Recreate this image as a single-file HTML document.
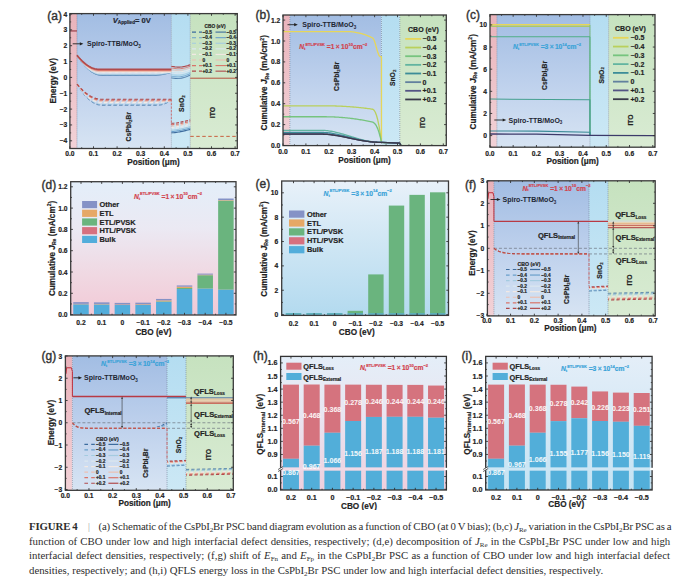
<!DOCTYPE html>
<html><head><meta charset="utf-8"><style>
html,body{margin:0;padding:0;background:#fff;width:700px;height:585px;overflow:hidden;position:relative}
.cap{position:absolute;left:29px;top:519.4px;width:660px;font-family:"Liberation Serif",serif;font-size:10.8px;color:#2e2e2e}
.l{height:14.55px;line-height:14.55px;white-space:nowrap}
.l1{letter-spacing:-0.12px;word-spacing:-0.48px}
.l2{word-spacing:0.5px}
.l3{word-spacing:0.48px}
.l4{word-spacing:0.1px}
.cap sub{font-size:7px;vertical-align:-2px;line-height:0}
.bar{display:inline-block;margin:0 9px 0 10px;font-size:9.5px;color:#666;transform:scaleX(0.7)}
</style></head><body>
<svg width="700" height="510" viewBox="0 0 700 510" style="position:absolute;left:0;top:0"><defs><linearGradient id="pinkG" x1="0" y1="0" x2="0" y2="1"><stop offset="0" stop-color="#e9b3bb"/><stop offset="1" stop-color="#f2d2d7"/></linearGradient><linearGradient id="pvG" x1="0" y1="0" x2="0" y2="1"><stop offset="0" stop-color="#a2bde3"/><stop offset="0.5" stop-color="#bdd0ec"/><stop offset="1" stop-color="#d7e4f3"/></linearGradient><linearGradient id="snG" x1="0" y1="0" x2="0" y2="1"><stop offset="0" stop-color="#b4ddf1"/><stop offset="1" stop-color="#cce8f5"/></linearGradient><linearGradient id="itoG" x1="0" y1="0" x2="0" y2="1"><stop offset="0" stop-color="#c6e2bf"/><stop offset="1" stop-color="#d9ebd3"/></linearGradient><linearGradient id="dG" x1="0" y1="0" x2="0" y2="1"><stop offset="0" stop-color="#e3eef9"/><stop offset="0.35" stop-color="#ebe9f3"/><stop offset="0.7" stop-color="#f0d8e2"/><stop offset="1" stop-color="#f2c9d6"/></linearGradient><linearGradient id="eG" x1="0" y1="0" x2="0" y2="1"><stop offset="0" stop-color="#e8f1f9"/><stop offset="1" stop-color="#b3daef"/></linearGradient><linearGradient id="hG" x1="0" y1="0" x2="0" y2="1"><stop offset="0" stop-color="#e4eef8"/><stop offset="0.4" stop-color="#e8e6f2"/><stop offset="1" stop-color="#efcfdd"/></linearGradient><linearGradient id="iG" x1="0" y1="0" x2="0" y2="1"><stop offset="0" stop-color="#e4eef8"/><stop offset="1" stop-color="#c5e3f3"/></linearGradient></defs><rect x="69.9" y="13.6" width="7.08" height="134.9" fill="url(#pinkG)" />
<rect x="76.98" y="13.6" width="94.4" height="134.9" fill="url(#pvG)" />
<rect x="171.38" y="13.6" width="18.88" height="134.9" fill="url(#snG)" />
<rect x="190.26" y="13.6" width="47.04" height="134.9" fill="url(#itoG)" />
<line x1="76.98" y1="13.6" x2="76.98" y2="148.5" stroke="#6a7890" stroke-width="0.6" stroke-dasharray="1,1" />
<line x1="171.38" y1="13.6" x2="171.38" y2="148.5" stroke="#6a7890" stroke-width="0.6" stroke-dasharray="1,1" />
<line x1="190.26" y1="13.6" x2="190.26" y2="148.5" stroke="#6a7890" stroke-width="0.6" stroke-dasharray="1,1" />
<line x1="69.9" y1="30.96" x2="76.98" y2="30.96" stroke="#8b2a35" stroke-width="1" />
<line x1="190.26" y1="78.19" x2="237.3" y2="78.19" stroke="#b5503f" stroke-width="1" />
<line x1="190.26" y1="136.36" x2="237.3" y2="136.36" stroke="#c8603f" stroke-width="1" stroke-dasharray="3.5,2.5" />
<polyline points="76.98,55.21 78.16,57.08 79.34,58.86 80.52,60.55 81.7,62.15 82.88,63.65 84.06,65.07 85.24,66.39 86.42,67.63 87.6,68.77 88.78,69.82 89.96,70.77 91.14,71.64 92.32,72.42 93.5,73.1 94.68,73.7 95.86,74.2 97.04,74.61 98.22,74.93 99.4,75.16 100.58,75.29 101.76,75.34 102.94,75.34 104.12,75.34 105.3,75.34 106.48,75.34 107.66,75.34 108.84,75.34 110.02,75.34 111.2,75.34 112.38,75.34 113.56,75.34 114.74,75.34 115.92,75.34 117.1,75.34 118.28,75.34 119.46,75.34 120.64,75.34 121.82,75.34 123,75.34 124.18,75.34 125.36,75.34 126.54,75.34 127.72,75.34 128.9,75.34 130.08,75.34 131.26,75.34 132.44,75.34 133.62,75.34 134.8,75.34 135.98,75.34 137.16,75.34 138.34,75.34 139.52,75.34 140.7,75.34 141.88,75.34 143.06,75.34 144.24,75.34 145.42,75.34 146.6,75.34 147.78,75.34 148.96,75.34 150.14,75.34 151.32,75.34 152.5,75.34 153.68,75.34 154.86,75.33 156.04,75.28 157.22,75.21 158.4,75.11 159.58,74.99 160.76,74.83 161.94,74.65 163.12,74.44 164.3,74.2 165.48,73.93 166.66,73.63 167.84,73.31 169.02,72.96 170.2,72.58 171.38,72.17" fill="none" stroke="#3d6c9e" stroke-width="1" stroke-linejoin="round" stroke-opacity="0.8"/>
<polyline points="171.38,77.88 172.56,78.08 173.74,78.26 174.92,78.39 176.1,78.48 177.28,78.52 178.46,78.5 179.64,78.42 180.82,78.27 182,78.06 183.18,77.79 184.36,77.45 185.54,77.06 186.72,76.61 187.9,76.12 189.08,75.58 190.26,75.02" fill="none" stroke="#3d6c9e" stroke-width="0.9" stroke-linejoin="round" />
<polyline points="76.98,55.21 78.16,57.08 79.34,58.85 80.52,60.53 81.7,62.12 82.88,63.62 84.06,65.03 85.24,66.34 86.42,67.56 87.6,68.69 88.78,69.72 89.96,70.67 91.14,71.52 92.32,72.27 93.5,72.94 94.68,73.51 95.86,74 97.04,74.39 98.22,74.68 99.4,74.89 100.58,75 101.76,75.02 102.94,75.02 104.12,75.02 105.3,75.02 106.48,75.02 107.66,75.02 108.84,75.02 110.02,75.02 111.2,75.02 112.38,75.02 113.56,75.02 114.74,75.02 115.92,75.02 117.1,75.02 118.28,75.02 119.46,75.02 120.64,75.02 121.82,75.02 123,75.02 124.18,75.02 125.36,75.02 126.54,75.02 127.72,75.02 128.9,75.02 130.08,75.02 131.26,75.02 132.44,75.02 133.62,75.02 134.8,75.02 135.98,75.02 137.16,75.02 138.34,75.02 139.52,75.02 140.7,75.02 141.88,75.02 143.06,75.02 144.24,75.02 145.42,75.02 146.6,75.02 147.78,75.02 148.96,75.02 150.14,75.02 151.32,75.02 152.5,75.02 153.68,75.02 154.86,75.01 156.04,74.97 157.22,74.91 158.4,74.82 159.58,74.71 160.76,74.57 161.94,74.4 163.12,74.21 164.3,74 165.48,73.75 166.66,73.49 167.84,73.2 169.02,72.88 170.2,72.54 171.38,72.17" fill="none" stroke="#6a9fcb" stroke-width="1" stroke-linejoin="round" stroke-opacity="0.8"/>
<polyline points="171.38,76.22 172.56,76.43 173.74,76.61 174.92,76.75 176.1,76.84 177.28,76.88 178.46,76.87 179.64,76.8 180.82,76.66 182,76.47 183.18,76.2 184.36,75.88 185.54,75.5 186.72,75.08 187.9,74.6 189.08,74.09 190.26,73.55" fill="none" stroke="#6a9fcb" stroke-width="0.9" stroke-linejoin="round" />
<polyline points="76.98,55.21 78.16,57.06 79.34,58.81 80.52,60.47 81.7,62.04 82.88,63.52 84.06,64.9 85.24,66.19 86.42,67.39 87.6,68.5 88.78,69.51 89.96,70.43 91.14,71.26 92.32,71.99 93.5,72.63 94.68,73.18 95.86,73.64 97.04,74 98.22,74.27 99.4,74.45 100.58,74.54 101.76,74.55 102.94,74.55 104.12,74.55 105.3,74.55 106.48,74.55 107.66,74.55 108.84,74.55 110.02,74.55 111.2,74.55 112.38,74.55 113.56,74.55 114.74,74.55 115.92,74.55 117.1,74.55 118.28,74.55 119.46,74.55 120.64,74.55 121.82,74.55 123,74.55 124.18,74.55 125.36,74.55 126.54,74.55 127.72,74.55 128.9,74.55 130.08,74.55 131.26,74.55 132.44,74.55 133.62,74.55 134.8,74.55 135.98,74.55 137.16,74.55 138.34,74.55 139.52,74.55 140.7,74.55 141.88,74.55 143.06,74.55 144.24,74.55 145.42,74.55 146.6,74.55 147.78,74.55 148.96,74.55 150.14,74.55 151.32,74.55 152.5,74.55 153.68,74.55 154.86,74.54 156.04,74.5 157.22,74.45 158.4,74.38 159.58,74.28 160.76,74.17 161.94,74.03 163.12,73.87 164.3,73.69 165.48,73.49 166.66,73.27 167.84,73.03 169.02,72.76 170.2,72.48 171.38,72.17" fill="none" stroke="#a4cbe0" stroke-width="1" stroke-linejoin="round" stroke-opacity="0.8"/>
<polyline points="171.38,74.57 172.56,74.78 173.74,74.96 174.92,75.1 176.1,75.2 177.28,75.25 178.46,75.24 179.64,75.18 180.82,75.06 182,74.87 183.18,74.62 184.36,74.31 185.54,73.95 186.72,73.54 187.9,73.09 189.08,72.6 190.26,72.08" fill="none" stroke="#a4cbe0" stroke-width="0.9" stroke-linejoin="round" />
<polyline points="76.98,55.21 78.16,57.01 79.34,58.71 80.52,60.32 81.7,61.84 82.88,63.27 84.06,64.61 85.24,65.86 86.42,67.02 87.6,68.08 88.78,69.05 89.96,69.93 91.14,70.72 92.32,71.42 93.5,72.03 94.68,72.55 95.86,72.97 97.04,73.3 98.22,73.54 99.4,73.69 100.58,73.75 101.76,73.75 102.94,73.75 104.12,73.75 105.3,73.75 106.48,73.75 107.66,73.75 108.84,73.75 110.02,73.75 111.2,73.75 112.38,73.75 113.56,73.75 114.74,73.75 115.92,73.75 117.1,73.75 118.28,73.75 119.46,73.75 120.64,73.75 121.82,73.75 123,73.75 124.18,73.75 125.36,73.75 126.54,73.75 127.72,73.75 128.9,73.75 130.08,73.75 131.26,73.75 132.44,73.75 133.62,73.75 134.8,73.75 135.98,73.75 137.16,73.75 138.34,73.75 139.52,73.75 140.7,73.75 141.88,73.75 143.06,73.75 144.24,73.75 145.42,73.75 146.6,73.75 147.78,73.75 148.96,73.75 150.14,73.75 151.32,73.75 152.5,73.75 153.68,73.75 154.86,73.75 156.04,73.73 157.22,73.69 158.4,73.64 159.58,73.58 160.76,73.5 161.94,73.41 163.12,73.3 164.3,73.18 165.48,73.05 166.66,72.9 167.84,72.74 169.02,72.56 170.2,72.37 171.38,72.17" fill="none" stroke="#dce7ef" stroke-width="1" stroke-linejoin="round" stroke-opacity="0.8"/>
<polyline points="171.38,72.92 172.56,73.12 173.74,73.31 174.92,73.45 176.1,73.56 177.28,73.61 178.46,73.62 179.64,73.56 180.82,73.45 182,73.27 183.18,73.04 184.36,72.75 185.54,72.4 186.72,72.01 187.9,71.57 189.08,71.1 190.26,70.61" fill="none" stroke="#dce7ef" stroke-width="0.9" stroke-linejoin="round" />
<polyline points="76.98,55.21 78.16,56.92 79.34,58.55 80.52,60.08 81.7,61.53 82.88,62.88 84.06,64.15 85.24,65.34 86.42,66.43 87.6,67.43 88.78,68.35 89.96,69.18 91.14,69.92 92.32,70.57 93.5,71.13 94.68,71.6 95.86,71.99 97.04,72.28 98.22,72.49 99.4,72.61 100.58,72.65 101.76,72.65 102.94,72.65 104.12,72.65 105.3,72.65 106.48,72.65 107.66,72.65 108.84,72.65 110.02,72.65 111.2,72.65 112.38,72.65 113.56,72.65 114.74,72.65 115.92,72.65 117.1,72.65 118.28,72.65 119.46,72.65 120.64,72.65 121.82,72.65 123,72.65 124.18,72.65 125.36,72.65 126.54,72.65 127.72,72.65 128.9,72.65 130.08,72.65 131.26,72.65 132.44,72.65 133.62,72.65 134.8,72.65 135.98,72.65 137.16,72.65 138.34,72.65 139.52,72.65 140.7,72.65 141.88,72.65 143.06,72.65 144.24,72.65 145.42,72.65 146.6,72.65 147.78,72.65 148.96,72.65 150.14,72.65 151.32,72.65 152.5,72.65 153.68,72.65 154.86,72.64 156.04,72.64 157.22,72.63 158.4,72.61 159.58,72.59 160.76,72.57 161.94,72.54 163.12,72.51 164.3,72.47 165.48,72.43 166.66,72.39 167.84,72.34 169.02,72.29 170.2,72.23 171.38,72.17" fill="none" stroke="#f2e9e4" stroke-width="1" stroke-linejoin="round" stroke-opacity="1"/>
<polyline points="171.38,71.26 172.56,71.47 173.74,71.66 174.92,71.81 176.1,71.92 177.28,71.98 178.46,71.99 179.64,71.94 180.82,71.84 182,71.68 183.18,71.46 184.36,71.18 185.54,70.85 186.72,70.48 187.9,70.06 189.08,69.61 190.26,69.14" fill="none" stroke="#f2e9e4" stroke-width="0.9" stroke-linejoin="round" />
<polyline points="76.98,55.21 78.16,56.82 79.34,58.35 80.52,59.79 81.7,61.14 82.88,62.42 84.06,63.6 85.24,64.71 86.42,65.73 87.6,66.66 88.78,67.51 89.96,68.28 91.14,68.96 92.32,69.55 93.5,70.07 94.68,70.49 95.86,70.84 97.04,71.1 98.22,71.27 99.4,71.36 100.58,71.38 101.76,71.38 102.94,71.38 104.12,71.38 105.3,71.38 106.48,71.38 107.66,71.38 108.84,71.38 110.02,71.38 111.2,71.38 112.38,71.38 113.56,71.38 114.74,71.38 115.92,71.38 117.1,71.38 118.28,71.38 119.46,71.38 120.64,71.38 121.82,71.38 123,71.38 124.18,71.38 125.36,71.38 126.54,71.38 127.72,71.38 128.9,71.38 130.08,71.38 131.26,71.38 132.44,71.38 133.62,71.38 134.8,71.38 135.98,71.38 137.16,71.38 138.34,71.38 139.52,71.38 140.7,71.38 141.88,71.38 143.06,71.38 144.24,71.38 145.42,71.38 146.6,71.38 147.78,71.38 148.96,71.38 150.14,71.38 151.32,71.38 152.5,71.38 153.68,71.38 154.86,71.38 156.04,71.38 157.22,71.38 158.4,71.38 159.58,71.38 160.76,71.38 161.94,71.38 163.12,71.38 164.3,71.38 165.48,71.38 166.66,71.38 167.84,71.38 169.02,71.38 170.2,71.38 171.38,71.38" fill="none" stroke="#ecc0b2" stroke-width="1.3" stroke-linejoin="round" stroke-opacity="1"/>
<polyline points="171.38,69.61 172.56,69.82 173.74,70.01 174.92,70.16 176.1,70.27 177.28,70.34 178.46,70.36 179.64,70.33 180.82,70.23 182,70.08 183.18,69.88 184.36,69.61 185.54,69.3 186.72,68.94 187.9,68.54 189.08,68.12 190.26,67.66" fill="none" stroke="#ecc0b2" stroke-width="0.9" stroke-linejoin="round" />
<polyline points="76.98,55.21 78.16,56.73 79.34,58.17 80.52,59.53 81.7,60.81 82.88,62.01 84.06,63.12 85.24,64.16 86.42,65.11 87.6,65.98 88.78,66.78 89.96,67.49 91.14,68.12 92.32,68.67 93.5,69.14 94.68,69.52 95.86,69.83 97.04,70.06 98.22,70.2 99.4,70.26 100.58,70.27 101.76,70.27 102.94,70.27 104.12,70.27 105.3,70.27 106.48,70.27 107.66,70.27 108.84,70.27 110.02,70.27 111.2,70.27 112.38,70.27 113.56,70.27 114.74,70.27 115.92,70.27 117.1,70.27 118.28,70.27 119.46,70.27 120.64,70.27 121.82,70.27 123,70.27 124.18,70.27 125.36,70.27 126.54,70.27 127.72,70.27 128.9,70.27 130.08,70.27 131.26,70.27 132.44,70.27 133.62,70.27 134.8,70.27 135.98,70.27 137.16,70.27 138.34,70.27 139.52,70.27 140.7,70.27 141.88,70.27 143.06,70.27 144.24,70.27 145.42,70.27 146.6,70.27 147.78,70.27 148.96,70.27 150.14,70.27 151.32,70.27 152.5,70.27 153.68,70.27 154.86,70.27 156.04,70.27 157.22,70.27 158.4,70.27 159.58,70.27 160.76,70.27 161.94,70.27 163.12,70.27 164.3,70.27 165.48,70.27 166.66,70.27 167.84,70.27 169.02,70.27 170.2,70.27 171.38,70.27" fill="none" stroke="#d9746a" stroke-width="1.4" stroke-linejoin="round" stroke-opacity="1"/>
<polyline points="171.38,67.96 172.56,68.17 173.74,68.35 174.92,68.51 176.1,68.63 177.28,68.71 178.46,68.73 179.64,68.71 180.82,68.63 182,68.49 183.18,68.29 184.36,68.05 185.54,67.75 186.72,67.41 187.9,67.03 189.08,66.62 190.26,66.19" fill="none" stroke="#d9746a" stroke-width="0.9" stroke-linejoin="round" />
<polyline points="76.98,55.21 78.16,56.66 79.34,58.02 80.52,59.31 81.7,60.52 82.88,61.66 84.06,62.71 85.24,63.69 86.42,64.59 87.6,65.41 88.78,66.15 89.96,66.82 91.14,67.4 92.32,67.91 93.5,68.34 94.68,68.69 95.86,68.96 97.04,69.16 98.22,69.28 99.4,69.32 100.58,69.32 101.76,69.32 102.94,69.32 104.12,69.32 105.3,69.32 106.48,69.32 107.66,69.32 108.84,69.32 110.02,69.32 111.2,69.32 112.38,69.32 113.56,69.32 114.74,69.32 115.92,69.32 117.1,69.32 118.28,69.32 119.46,69.32 120.64,69.32 121.82,69.32 123,69.32 124.18,69.32 125.36,69.32 126.54,69.32 127.72,69.32 128.9,69.32 130.08,69.32 131.26,69.32 132.44,69.32 133.62,69.32 134.8,69.32 135.98,69.32 137.16,69.32 138.34,69.32 139.52,69.32 140.7,69.32 141.88,69.32 143.06,69.32 144.24,69.32 145.42,69.32 146.6,69.32 147.78,69.32 148.96,69.32 150.14,69.32 151.32,69.32 152.5,69.32 153.68,69.32 154.86,69.32 156.04,69.32 157.22,69.32 158.4,69.32 159.58,69.32 160.76,69.32 161.94,69.32 163.12,69.32 164.3,69.32 165.48,69.32 166.66,69.32 167.84,69.32 169.02,69.32 170.2,69.32 171.38,69.32" fill="none" stroke="#b04a4c" stroke-width="1.6" stroke-linejoin="round" stroke-opacity="1"/>
<polyline points="171.38,66.31 172.56,66.52 173.74,66.7 174.92,66.87 176.1,66.99 177.28,67.07 178.46,67.11 179.64,67.09 180.82,67.02 182,66.89 183.18,66.71 184.36,66.48 185.54,66.2 186.72,65.88 187.9,65.52 189.08,65.13 190.26,64.72" fill="none" stroke="#b04a4c" stroke-width="1.2" stroke-linejoin="round" />
<polyline points="76.98,84.06 78.16,86.03 79.34,87.91 80.52,89.69 81.7,91.38 82.88,92.97 84.06,94.46 85.24,95.86 86.42,97.16 87.6,98.36 88.78,99.47 89.96,100.48 91.14,101.39 92.32,102.21 93.5,102.94 94.68,103.56 95.86,104.09 97.04,104.53 98.22,104.86 99.4,105.1 100.58,105.25 101.76,105.3 102.94,105.3 104.12,105.3 105.3,105.3 106.48,105.3 107.66,105.3 108.84,105.3 110.02,105.3 111.2,105.3 112.38,105.3 113.56,105.3 114.74,105.3 115.92,105.3 117.1,105.3 118.28,105.3 119.46,105.3 120.64,105.3 121.82,105.3 123,105.3 124.18,105.3 125.36,105.3 126.54,105.3 127.72,105.3 128.9,105.3 130.08,105.3 131.26,105.3 132.44,105.3 133.62,105.3 134.8,105.3 135.98,105.3 137.16,105.3 138.34,105.3 139.52,105.3 140.7,105.3 141.88,105.3 143.06,105.3 144.24,105.3 145.42,105.3 146.6,105.3 147.78,105.3 148.96,105.3 150.14,105.3 151.32,105.3 152.5,105.3 153.68,105.3 154.86,105.3 156.04,105.3 157.22,105.3 158.4,105.26 159.58,105.15 160.76,104.98 161.94,104.73 163.12,104.4 164.3,104.01 165.48,103.55 166.66,103.01 167.84,102.41 169.02,101.73 170.2,100.98 171.38,100.16" fill="none" stroke="#3d6c9e" stroke-width="0.9" stroke-dasharray="3.5,2.2" stroke-linejoin="round" stroke-opacity="0.8"/>
<polyline points="171.38,132.88 172.56,132.82 173.74,132.72 174.92,132.59 176.1,132.44 177.28,132.27 178.46,132.07 179.64,131.87 180.82,131.64 182,131.4 183.18,131.15 184.36,130.89 185.54,130.61 186.72,130.32 187.9,130.02 189.08,129.71 190.26,129.39" fill="none" stroke="#3d6c9e" stroke-width="1.1" stroke-linejoin="round" />
<polyline points="76.98,84.06 78.16,85.97 79.34,87.79 80.52,89.52 81.7,91.16 82.88,92.7 84.06,94.15 85.24,95.5 86.42,96.77 87.6,97.93 88.78,99.01 89.96,99.99 91.14,100.88 92.32,101.67 93.5,102.37 94.68,102.98 95.86,103.49 97.04,103.91 98.22,104.24 99.4,104.48 100.58,104.62 101.76,104.66 102.94,104.66 104.12,104.66 105.3,104.66 106.48,104.66 107.66,104.66 108.84,104.66 110.02,104.66 111.2,104.66 112.38,104.66 113.56,104.66 114.74,104.66 115.92,104.66 117.1,104.66 118.28,104.66 119.46,104.66 120.64,104.66 121.82,104.66 123,104.66 124.18,104.66 125.36,104.66 126.54,104.66 127.72,104.66 128.9,104.66 130.08,104.66 131.26,104.66 132.44,104.66 133.62,104.66 134.8,104.66 135.98,104.66 137.16,104.66 138.34,104.66 139.52,104.66 140.7,104.66 141.88,104.66 143.06,104.66 144.24,104.66 145.42,104.66 146.6,104.66 147.78,104.66 148.96,104.66 150.14,104.66 151.32,104.66 152.5,104.66 153.68,104.66 154.86,104.66 156.04,104.66 157.22,104.66 158.4,104.63 159.58,104.54 160.76,104.38 161.94,104.15 163.12,103.87 164.3,103.52 165.48,103.11 166.66,102.63 167.84,102.09 169.02,101.49 170.2,100.83 171.38,100.1" fill="none" stroke="#6a9fcb" stroke-width="0.9" stroke-dasharray="3.5,2.2" stroke-linejoin="round" stroke-opacity="0.8"/>
<polyline points="171.38,131.52 172.56,131.46 173.74,131.36 174.92,131.23 176.1,131.08 177.28,130.91 178.46,130.72 179.64,130.51 180.82,130.28 182,130.05 183.18,129.79 184.36,129.53 185.54,129.25 186.72,128.96 187.9,128.66 189.08,128.35 190.26,128.03" fill="none" stroke="#6a9fcb" stroke-width="1.1" stroke-linejoin="round" />
<polyline points="76.98,84.06 78.16,85.91 79.34,87.68 80.52,89.36 81.7,90.94 82.88,92.43 84.06,93.84 85.24,95.15 86.42,96.37 87.6,97.51 88.78,98.55 89.96,99.5 91.14,100.36 92.32,101.13 93.5,101.81 94.68,102.4 95.86,102.9 97.04,103.3 98.22,103.62 99.4,103.85 100.58,103.98 101.76,104.03 102.94,104.03 104.12,104.03 105.3,104.03 106.48,104.03 107.66,104.03 108.84,104.03 110.02,104.03 111.2,104.03 112.38,104.03 113.56,104.03 114.74,104.03 115.92,104.03 117.1,104.03 118.28,104.03 119.46,104.03 120.64,104.03 121.82,104.03 123,104.03 124.18,104.03 125.36,104.03 126.54,104.03 127.72,104.03 128.9,104.03 130.08,104.03 131.26,104.03 132.44,104.03 133.62,104.03 134.8,104.03 135.98,104.03 137.16,104.03 138.34,104.03 139.52,104.03 140.7,104.03 141.88,104.03 143.06,104.03 144.24,104.03 145.42,104.03 146.6,104.03 147.78,104.03 148.96,104.03 150.14,104.03 151.32,104.03 152.5,104.03 153.68,104.03 154.86,104.03 156.04,104.03 157.22,104.03 158.4,104 159.58,103.92 160.76,103.78 161.94,103.58 163.12,103.33 164.3,103.03 165.48,102.67 166.66,102.25 167.84,101.78 169.02,101.25 170.2,100.67 171.38,100.03" fill="none" stroke="#a4cbe0" stroke-width="0.9" stroke-dasharray="3.5,2.2" stroke-linejoin="round" stroke-opacity="0.8"/>
<polyline points="171.38,130.16 172.56,130.1 173.74,130 174.92,129.87 176.1,129.72 177.28,129.55 178.46,129.36 179.64,129.15 180.82,128.93 182,128.69 183.18,128.43 184.36,128.17 185.54,127.89 186.72,127.6 187.9,127.3 189.08,126.99 190.26,126.67" fill="none" stroke="#a4cbe0" stroke-width="1.1" stroke-linejoin="round" />
<polyline points="76.98,84.06 78.16,85.84 79.34,87.54 80.52,89.15 81.7,90.67 82.88,92.1 84.06,93.45 85.24,94.71 86.42,95.89 87.6,96.97 88.78,97.97 89.96,98.89 91.14,99.71 92.32,100.45 93.5,101.1 94.68,101.67 95.86,102.15 97.04,102.54 98.22,102.84 99.4,103.06 100.58,103.19 101.76,103.24 102.94,103.24 104.12,103.24 105.3,103.24 106.48,103.24 107.66,103.24 108.84,103.24 110.02,103.24 111.2,103.24 112.38,103.24 113.56,103.24 114.74,103.24 115.92,103.24 117.1,103.24 118.28,103.24 119.46,103.24 120.64,103.24 121.82,103.24 123,103.24 124.18,103.24 125.36,103.24 126.54,103.24 127.72,103.24 128.9,103.24 130.08,103.24 131.26,103.24 132.44,103.24 133.62,103.24 134.8,103.24 135.98,103.24 137.16,103.24 138.34,103.24 139.52,103.24 140.7,103.24 141.88,103.24 143.06,103.24 144.24,103.24 145.42,103.24 146.6,103.24 147.78,103.24 148.96,103.24 150.14,103.24 151.32,103.24 152.5,103.24 153.68,103.24 154.86,103.24 156.04,103.24 157.22,103.24 158.4,103.21 159.58,103.14 160.76,103.03 161.94,102.87 163.12,102.67 164.3,102.42 165.48,102.12 166.66,101.78 167.84,101.39 169.02,100.96 170.2,100.48 171.38,99.95" fill="none" stroke="#dce7ef" stroke-width="1.2" stroke-dasharray="3.5,2.2" stroke-linejoin="round" stroke-opacity="0.8"/>
<polyline points="171.38,128.8 172.56,128.74 173.74,128.65 174.92,128.52 176.1,128.36 177.28,128.19 178.46,128 179.64,127.79 180.82,127.57 182,127.33 183.18,127.08 184.36,126.81 185.54,126.53 186.72,126.25 187.9,125.95 189.08,125.63 190.26,125.31" fill="none" stroke="#dce7ef" stroke-width="1.1" stroke-dasharray="3,1.6" stroke-linejoin="round" />
<polyline points="76.98,84.06 78.16,85.75 79.34,87.36 80.52,88.89 81.7,90.34 82.88,91.7 84.06,92.98 85.24,94.18 86.42,95.3 87.6,96.33 88.78,97.28 89.96,98.15 91.14,98.94 92.32,99.64 93.5,100.26 94.68,100.8 95.86,101.25 97.04,101.62 98.22,101.91 99.4,102.12 100.58,102.24 101.76,102.28 102.94,102.28 104.12,102.28 105.3,102.28 106.48,102.28 107.66,102.28 108.84,102.28 110.02,102.28 111.2,102.28 112.38,102.28 113.56,102.28 114.74,102.28 115.92,102.28 117.1,102.28 118.28,102.28 119.46,102.28 120.64,102.28 121.82,102.28 123,102.28 124.18,102.28 125.36,102.28 126.54,102.28 127.72,102.28 128.9,102.28 130.08,102.28 131.26,102.28 132.44,102.28 133.62,102.28 134.8,102.28 135.98,102.28 137.16,102.28 138.34,102.28 139.52,102.28 140.7,102.28 141.88,102.28 143.06,102.28 144.24,102.28 145.42,102.28 146.6,102.28 147.78,102.28 148.96,102.28 150.14,102.28 151.32,102.28 152.5,102.28 153.68,102.28 154.86,102.28 156.04,102.28 157.22,102.28 158.4,102.27 159.58,102.22 160.76,102.13 161.94,102.02 163.12,101.86 164.3,101.68 165.48,101.46 166.66,101.21 167.84,100.92 169.02,100.6 170.2,100.25 171.38,99.86" fill="none" stroke="#f2e9e4" stroke-width="1.2" stroke-dasharray="3.5,2.2" stroke-linejoin="round" stroke-opacity="1"/>
<polyline points="171.38,127.44 172.56,127.39 173.74,127.29 174.92,127.16 176.1,127 177.28,126.83 178.46,126.64 179.64,126.43 180.82,126.21 182,125.97 183.18,125.72 184.36,125.45 185.54,125.18 186.72,124.89 187.9,124.59 189.08,124.28 190.26,123.95" fill="none" stroke="#f2e9e4" stroke-width="1.1" stroke-dasharray="3,1.6" stroke-linejoin="round" />
<polyline points="76.98,84.06 78.16,85.65 79.34,87.16 80.52,88.6 81.7,89.96 82.88,91.24 84.06,92.44 85.24,93.57 86.42,94.62 87.6,95.59 88.78,96.48 89.96,97.29 91.14,98.03 92.32,98.69 93.5,99.27 94.68,99.78 95.86,100.2 97.04,100.55 98.22,100.83 99.4,101.02 100.58,101.14 101.76,101.18 102.94,101.18 104.12,101.18 105.3,101.18 106.48,101.18 107.66,101.18 108.84,101.18 110.02,101.18 111.2,101.18 112.38,101.18 113.56,101.18 114.74,101.18 115.92,101.18 117.1,101.18 118.28,101.18 119.46,101.18 120.64,101.18 121.82,101.18 123,101.18 124.18,101.18 125.36,101.18 126.54,101.18 127.72,101.18 128.9,101.18 130.08,101.18 131.26,101.18 132.44,101.18 133.62,101.18 134.8,101.18 135.98,101.18 137.16,101.18 138.34,101.18 139.52,101.18 140.7,101.18 141.88,101.18 143.06,101.18 144.24,101.18 145.42,101.18 146.6,101.18 147.78,101.18 148.96,101.18 150.14,101.18 151.32,101.18 152.5,101.18 153.68,101.18 154.86,101.18 156.04,101.18 157.22,101.18 158.4,101.18 159.58,101.18 160.76,101.18 161.94,101.18 163.12,101.18 164.3,101.18 165.48,101.18 166.66,101.18 167.84,101.18 169.02,101.18 170.2,101.18 171.38,101.18" fill="none" stroke="#ecc0b2" stroke-width="1.2" stroke-dasharray="3.5,2.2" stroke-linejoin="round" stroke-opacity="1"/>
<polyline points="171.38,126.08 172.56,126.03 173.74,125.93 174.92,125.8 176.1,125.65 177.28,125.47 178.46,125.28 179.64,125.07 180.82,124.85 182,124.61 183.18,124.36 184.36,124.09 185.54,123.82 186.72,123.53 187.9,123.23 189.08,122.92 190.26,122.6" fill="none" stroke="#ecc0b2" stroke-width="1.1" stroke-dasharray="3,1.6" stroke-linejoin="round" />
<polyline points="76.98,84.06 78.16,85.56 79.34,86.99 80.52,88.35 81.7,89.63 82.88,90.84 84.06,91.98 85.24,93.04 86.42,94.03 87.6,94.94 88.78,95.79 89.96,96.56 91.14,97.25 92.32,97.88 93.5,98.43 94.68,98.9 95.86,99.31 97.04,99.64 98.22,99.89 99.4,100.08 100.58,100.19 101.76,100.22 102.94,100.22 104.12,100.22 105.3,100.22 106.48,100.22 107.66,100.22 108.84,100.22 110.02,100.22 111.2,100.22 112.38,100.22 113.56,100.22 114.74,100.22 115.92,100.22 117.1,100.22 118.28,100.22 119.46,100.22 120.64,100.22 121.82,100.22 123,100.22 124.18,100.22 125.36,100.22 126.54,100.22 127.72,100.22 128.9,100.22 130.08,100.22 131.26,100.22 132.44,100.22 133.62,100.22 134.8,100.22 135.98,100.22 137.16,100.22 138.34,100.22 139.52,100.22 140.7,100.22 141.88,100.22 143.06,100.22 144.24,100.22 145.42,100.22 146.6,100.22 147.78,100.22 148.96,100.22 150.14,100.22 151.32,100.22 152.5,100.22 153.68,100.22 154.86,100.22 156.04,100.22 157.22,100.22 158.4,100.22 159.58,100.22 160.76,100.22 161.94,100.22 163.12,100.22 164.3,100.22 165.48,100.22 166.66,100.22 167.84,100.22 169.02,100.22 170.2,100.22 171.38,100.22" fill="none" stroke="#d9746a" stroke-width="1.2" stroke-dasharray="3.5,2.2" stroke-linejoin="round" stroke-opacity="1"/>
<polyline points="171.38,124.72 172.56,124.67 173.74,124.57 174.92,124.44 176.1,124.29 177.28,124.11 178.46,123.92 179.64,123.71 180.82,123.49 182,123.25 183.18,123 184.36,122.74 185.54,122.46 186.72,122.17 187.9,121.87 189.08,121.56 190.26,121.24" fill="none" stroke="#d9746a" stroke-width="1.1" stroke-dasharray="3,1.6" stroke-linejoin="round" />
<polyline points="76.98,84.06 78.16,85.47 79.34,86.82 80.52,88.09 81.7,89.3 82.88,90.44 84.06,91.51 85.24,92.51 86.42,93.44 87.6,94.3 88.78,95.1 89.96,95.82 91.14,96.48 92.32,97.06 93.5,97.58 94.68,98.03 95.86,98.41 97.04,98.72 98.22,98.96 99.4,99.13 100.58,99.24 101.76,99.27 102.94,99.27 104.12,99.27 105.3,99.27 106.48,99.27 107.66,99.27 108.84,99.27 110.02,99.27 111.2,99.27 112.38,99.27 113.56,99.27 114.74,99.27 115.92,99.27 117.1,99.27 118.28,99.27 119.46,99.27 120.64,99.27 121.82,99.27 123,99.27 124.18,99.27 125.36,99.27 126.54,99.27 127.72,99.27 128.9,99.27 130.08,99.27 131.26,99.27 132.44,99.27 133.62,99.27 134.8,99.27 135.98,99.27 137.16,99.27 138.34,99.27 139.52,99.27 140.7,99.27 141.88,99.27 143.06,99.27 144.24,99.27 145.42,99.27 146.6,99.27 147.78,99.27 148.96,99.27 150.14,99.27 151.32,99.27 152.5,99.27 153.68,99.27 154.86,99.27 156.04,99.27 157.22,99.27 158.4,99.27 159.58,99.27 160.76,99.27 161.94,99.27 163.12,99.27 164.3,99.27 165.48,99.27 166.66,99.27 167.84,99.27 169.02,99.27 170.2,99.27 171.38,99.27" fill="none" stroke="#b04a4c" stroke-width="1.2" stroke-dasharray="3.5,2.2" stroke-linejoin="round" stroke-opacity="1"/>
<polyline points="171.38,123.37 172.56,123.31 173.74,123.21 174.92,123.08 176.1,122.93 177.28,122.76 178.46,122.56 179.64,122.36 180.82,122.13 182,121.89 183.18,121.64 184.36,121.38 185.54,121.1 186.72,120.81 187.9,120.51 189.08,120.2 190.26,119.88" fill="none" stroke="#b04a4c" stroke-width="1.1" stroke-dasharray="3,1.6" stroke-linejoin="round" />
<line x1="171.38" y1="99.59" x2="171.38" y2="124.95" stroke="#d06060" stroke-width="0.8" stroke-dasharray="2,1.5" />
<rect x="69.9" y="13.6" width="167.4" height="134.9" fill="none" stroke="#3a3a3a" stroke-width="1.3"/>
<line x1="69.9" y1="148.5" x2="69.9" y2="146.3" stroke="#333" stroke-width="0.9" />
<line x1="69.9" y1="13.6" x2="69.9" y2="15.8" stroke="#333" stroke-width="0.9" />
<line x1="93.5" y1="148.5" x2="93.5" y2="146.3" stroke="#333" stroke-width="0.9" />
<line x1="93.5" y1="13.6" x2="93.5" y2="15.8" stroke="#333" stroke-width="0.9" />
<line x1="117.1" y1="148.5" x2="117.1" y2="146.3" stroke="#333" stroke-width="0.9" />
<line x1="117.1" y1="13.6" x2="117.1" y2="15.8" stroke="#333" stroke-width="0.9" />
<line x1="140.7" y1="148.5" x2="140.7" y2="146.3" stroke="#333" stroke-width="0.9" />
<line x1="140.7" y1="13.6" x2="140.7" y2="15.8" stroke="#333" stroke-width="0.9" />
<line x1="164.3" y1="148.5" x2="164.3" y2="146.3" stroke="#333" stroke-width="0.9" />
<line x1="164.3" y1="13.6" x2="164.3" y2="15.8" stroke="#333" stroke-width="0.9" />
<line x1="187.9" y1="148.5" x2="187.9" y2="146.3" stroke="#333" stroke-width="0.9" />
<line x1="187.9" y1="13.6" x2="187.9" y2="15.8" stroke="#333" stroke-width="0.9" />
<line x1="211.5" y1="148.5" x2="211.5" y2="146.3" stroke="#333" stroke-width="0.9" />
<line x1="211.5" y1="13.6" x2="211.5" y2="15.8" stroke="#333" stroke-width="0.9" />
<line x1="235.1" y1="148.5" x2="235.1" y2="146.3" stroke="#333" stroke-width="0.9" />
<line x1="235.1" y1="13.6" x2="235.1" y2="15.8" stroke="#333" stroke-width="0.9" />
<line x1="81.7" y1="148.5" x2="81.7" y2="147.2" stroke="#333" stroke-width="0.8" />
<line x1="81.7" y1="13.6" x2="81.7" y2="14.9" stroke="#333" stroke-width="0.8" />
<line x1="105.3" y1="148.5" x2="105.3" y2="147.2" stroke="#333" stroke-width="0.8" />
<line x1="105.3" y1="13.6" x2="105.3" y2="14.9" stroke="#333" stroke-width="0.8" />
<line x1="128.9" y1="148.5" x2="128.9" y2="147.2" stroke="#333" stroke-width="0.8" />
<line x1="128.9" y1="13.6" x2="128.9" y2="14.9" stroke="#333" stroke-width="0.8" />
<line x1="152.5" y1="148.5" x2="152.5" y2="147.2" stroke="#333" stroke-width="0.8" />
<line x1="152.5" y1="13.6" x2="152.5" y2="14.9" stroke="#333" stroke-width="0.8" />
<line x1="176.1" y1="148.5" x2="176.1" y2="147.2" stroke="#333" stroke-width="0.8" />
<line x1="176.1" y1="13.6" x2="176.1" y2="14.9" stroke="#333" stroke-width="0.8" />
<line x1="199.7" y1="148.5" x2="199.7" y2="147.2" stroke="#333" stroke-width="0.8" />
<line x1="199.7" y1="13.6" x2="199.7" y2="14.9" stroke="#333" stroke-width="0.8" />
<line x1="223.3" y1="148.5" x2="223.3" y2="147.2" stroke="#333" stroke-width="0.8" />
<line x1="223.3" y1="13.6" x2="223.3" y2="14.9" stroke="#333" stroke-width="0.8" />
<line x1="69.9" y1="140.8" x2="72.1" y2="140.8" stroke="#333" stroke-width="0.9" />
<line x1="237.3" y1="140.8" x2="235.1" y2="140.8" stroke="#333" stroke-width="0.9" />
<line x1="69.9" y1="124.95" x2="72.1" y2="124.95" stroke="#333" stroke-width="0.9" />
<line x1="237.3" y1="124.95" x2="235.1" y2="124.95" stroke="#333" stroke-width="0.9" />
<line x1="69.9" y1="109.1" x2="72.1" y2="109.1" stroke="#333" stroke-width="0.9" />
<line x1="237.3" y1="109.1" x2="235.1" y2="109.1" stroke="#333" stroke-width="0.9" />
<line x1="69.9" y1="93.25" x2="72.1" y2="93.25" stroke="#333" stroke-width="0.9" />
<line x1="237.3" y1="93.25" x2="235.1" y2="93.25" stroke="#333" stroke-width="0.9" />
<line x1="69.9" y1="77.4" x2="72.1" y2="77.4" stroke="#333" stroke-width="0.9" />
<line x1="237.3" y1="77.4" x2="235.1" y2="77.4" stroke="#333" stroke-width="0.9" />
<line x1="69.9" y1="61.55" x2="72.1" y2="61.55" stroke="#333" stroke-width="0.9" />
<line x1="237.3" y1="61.55" x2="235.1" y2="61.55" stroke="#333" stroke-width="0.9" />
<line x1="69.9" y1="45.7" x2="72.1" y2="45.7" stroke="#333" stroke-width="0.9" />
<line x1="237.3" y1="45.7" x2="235.1" y2="45.7" stroke="#333" stroke-width="0.9" />
<line x1="69.9" y1="29.85" x2="72.1" y2="29.85" stroke="#333" stroke-width="0.9" />
<line x1="237.3" y1="29.85" x2="235.1" y2="29.85" stroke="#333" stroke-width="0.9" />
<line x1="69.9" y1="14" x2="72.1" y2="14" stroke="#333" stroke-width="0.9" />
<line x1="237.3" y1="14" x2="235.1" y2="14" stroke="#333" stroke-width="0.9" />
<line x1="69.9" y1="132.88" x2="71.2" y2="132.88" stroke="#333" stroke-width="0.8" />
<line x1="237.3" y1="132.88" x2="236" y2="132.88" stroke="#333" stroke-width="0.8" />
<line x1="69.9" y1="117.03" x2="71.2" y2="117.03" stroke="#333" stroke-width="0.8" />
<line x1="237.3" y1="117.03" x2="236" y2="117.03" stroke="#333" stroke-width="0.8" />
<line x1="69.9" y1="101.18" x2="71.2" y2="101.18" stroke="#333" stroke-width="0.8" />
<line x1="237.3" y1="101.18" x2="236" y2="101.18" stroke="#333" stroke-width="0.8" />
<line x1="69.9" y1="85.33" x2="71.2" y2="85.33" stroke="#333" stroke-width="0.8" />
<line x1="237.3" y1="85.33" x2="236" y2="85.33" stroke="#333" stroke-width="0.8" />
<line x1="69.9" y1="69.48" x2="71.2" y2="69.48" stroke="#333" stroke-width="0.8" />
<line x1="237.3" y1="69.48" x2="236" y2="69.48" stroke="#333" stroke-width="0.8" />
<line x1="69.9" y1="53.62" x2="71.2" y2="53.62" stroke="#333" stroke-width="0.8" />
<line x1="237.3" y1="53.62" x2="236" y2="53.62" stroke="#333" stroke-width="0.8" />
<line x1="69.9" y1="37.78" x2="71.2" y2="37.78" stroke="#333" stroke-width="0.8" />
<line x1="237.3" y1="37.78" x2="236" y2="37.78" stroke="#333" stroke-width="0.8" />
<line x1="69.9" y1="21.92" x2="71.2" y2="21.92" stroke="#333" stroke-width="0.8" />
<line x1="237.3" y1="21.92" x2="236" y2="21.92" stroke="#333" stroke-width="0.8" />
<text x="69.9" y="153.8" font-family="Liberation Sans" font-size="6.7" font-weight="bold" font-style="normal" text-anchor="middle" fill="#222" dominant-baseline="central"  stroke="#222" stroke-width="0.18">0.0</text>
<text x="93.5" y="153.8" font-family="Liberation Sans" font-size="6.7" font-weight="bold" font-style="normal" text-anchor="middle" fill="#222" dominant-baseline="central"  stroke="#222" stroke-width="0.18">0.1</text>
<text x="117.1" y="153.8" font-family="Liberation Sans" font-size="6.7" font-weight="bold" font-style="normal" text-anchor="middle" fill="#222" dominant-baseline="central"  stroke="#222" stroke-width="0.18">0.2</text>
<text x="140.7" y="153.8" font-family="Liberation Sans" font-size="6.7" font-weight="bold" font-style="normal" text-anchor="middle" fill="#222" dominant-baseline="central"  stroke="#222" stroke-width="0.18">0.3</text>
<text x="164.3" y="153.8" font-family="Liberation Sans" font-size="6.7" font-weight="bold" font-style="normal" text-anchor="middle" fill="#222" dominant-baseline="central"  stroke="#222" stroke-width="0.18">0.4</text>
<text x="187.9" y="153.8" font-family="Liberation Sans" font-size="6.7" font-weight="bold" font-style="normal" text-anchor="middle" fill="#222" dominant-baseline="central"  stroke="#222" stroke-width="0.18">0.5</text>
<text x="211.5" y="153.8" font-family="Liberation Sans" font-size="6.7" font-weight="bold" font-style="normal" text-anchor="middle" fill="#222" dominant-baseline="central"  stroke="#222" stroke-width="0.18">0.6</text>
<text x="235.1" y="153.8" font-family="Liberation Sans" font-size="6.7" font-weight="bold" font-style="normal" text-anchor="middle" fill="#222" dominant-baseline="central"  stroke="#222" stroke-width="0.18">0.7</text>
<text x="67.3" y="140.8" font-family="Liberation Sans" font-size="6.7" font-weight="bold" font-style="normal" text-anchor="end" fill="#222" dominant-baseline="central"  stroke="#222" stroke-width="0.18">−4</text>
<text x="67.3" y="124.95" font-family="Liberation Sans" font-size="6.7" font-weight="bold" font-style="normal" text-anchor="end" fill="#222" dominant-baseline="central"  stroke="#222" stroke-width="0.18">−3</text>
<text x="67.3" y="109.1" font-family="Liberation Sans" font-size="6.7" font-weight="bold" font-style="normal" text-anchor="end" fill="#222" dominant-baseline="central"  stroke="#222" stroke-width="0.18">−2</text>
<text x="67.3" y="93.25" font-family="Liberation Sans" font-size="6.7" font-weight="bold" font-style="normal" text-anchor="end" fill="#222" dominant-baseline="central"  stroke="#222" stroke-width="0.18">−1</text>
<text x="67.3" y="77.4" font-family="Liberation Sans" font-size="6.7" font-weight="bold" font-style="normal" text-anchor="end" fill="#222" dominant-baseline="central"  stroke="#222" stroke-width="0.18">0</text>
<text x="67.3" y="61.55" font-family="Liberation Sans" font-size="6.7" font-weight="bold" font-style="normal" text-anchor="end" fill="#222" dominant-baseline="central"  stroke="#222" stroke-width="0.18">1</text>
<text x="67.3" y="45.7" font-family="Liberation Sans" font-size="6.7" font-weight="bold" font-style="normal" text-anchor="end" fill="#222" dominant-baseline="central"  stroke="#222" stroke-width="0.18">2</text>
<text x="67.3" y="29.85" font-family="Liberation Sans" font-size="6.7" font-weight="bold" font-style="normal" text-anchor="end" fill="#222" dominant-baseline="central"  stroke="#222" stroke-width="0.18">3</text>
<text x="67.3" y="14" font-family="Liberation Sans" font-size="6.7" font-weight="bold" font-style="normal" text-anchor="end" fill="#222" dominant-baseline="central"  stroke="#222" stroke-width="0.18">4</text>
<text x="153.5" y="162.5" font-family="Liberation Sans" font-size="8.2" font-weight="bold" font-style="normal" text-anchor="middle" fill="#222" dominant-baseline="central"  stroke="#222" stroke-width="0.18">Position (μm)</text>
<text x="53.7" y="80.8" font-family="Liberation Sans" font-size="8.2" font-weight="bold" font-style="normal" text-anchor="middle" fill="#222" dominant-baseline="central" transform="rotate(-90 53.7 80.8)"  stroke="#222" stroke-width="0.18">Energy (eV)</text>
<text x="47.3" y="15.5" font-family="Liberation Sans" font-size="12" font-weight="normal" font-style="normal" text-anchor="start" fill="#333333" dominant-baseline="central" stroke="#333333" stroke-width="0.4">(a)</text>
<text x="131.8" y="20.3" font-family="Liberation Sans" font-size="7.6" font-weight="bold" font-style="normal" text-anchor="middle" fill="#1e2633" dominant-baseline="central" stroke="#1e2633" stroke-width="0.18"><tspan font-style="italic" dy="-0">V</tspan><tspan font-size="4.71" dy="2.13">Applied</tspan><tspan dy="-2.13">= 0V</tspan></text>
<line x1="72.7" y1="43.8" x2="80.9" y2="43.8" stroke="#222" stroke-width="0.9" />
<polygon points="83.4,43.8 79.8,42.2 79.8,45.4" fill="#222"/>
<text x="87" y="43.8" font-family="Liberation Sans" font-size="7" font-weight="bold" fill="#1e2633" dominant-baseline="central">Spiro-TTB/MoO<tspan font-size="4.55" dy="2">3</tspan></text>
<text x="127.8" y="126.8" font-family="Liberation Sans" font-size="6.9" font-weight="bold" font-style="normal" text-anchor="middle" fill="#222" dominant-baseline="central" transform="rotate(-90 127.8 126.8)" stroke="#222" stroke-width="0.18"><tspan dy="-0">CsPbI</tspan><tspan font-size="4.28" dy="1.93">2</tspan><tspan dy="-1.93">Br</tspan></text>
<text x="180.8" y="103.6" font-family="Liberation Sans" font-size="6.9" font-weight="bold" font-style="normal" text-anchor="middle" fill="#222" dominant-baseline="central" transform="rotate(-90 180.8 103.6)" stroke="#222" stroke-width="0.18"><tspan dy="-0">SnO</tspan><tspan font-size="4.28" dy="1.93">2</tspan></text>
<text x="212.5" y="112.6" font-family="Liberation Sans" font-size="6.9" font-weight="bold" font-style="normal" text-anchor="middle" fill="#222" dominant-baseline="central" transform="rotate(-90 212.5 112.6)"  stroke="#222" stroke-width="0.18">ITO</text>
<text x="215" y="26.8" font-family="Liberation Sans" font-size="4.8" font-weight="bold" font-style="normal" text-anchor="middle" fill="#222" dominant-baseline="central"  stroke="#222" stroke-width="0.18">CBO (eV)</text>
<line x1="192" y1="32.1" x2="202" y2="32.1" stroke="#3d6c9e" stroke-width="1.1" stroke-dasharray="4,3" />
<text x="202.5" y="32.1" font-family="Liberation Sans" font-size="4.8" font-weight="bold" font-style="normal" text-anchor="start" fill="#222" dominant-baseline="central"  stroke="#222" stroke-width="0.18">−0.5</text>
<line x1="215.5" y1="32.1" x2="226" y2="32.1" stroke="#3d6c9e" stroke-width="1.1" />
<text x="226.5" y="32.1" font-family="Liberation Sans" font-size="4.8" font-weight="bold" font-style="normal" text-anchor="start" fill="#222" dominant-baseline="central"  stroke="#222" stroke-width="0.18">−0.5</text>
<line x1="192" y1="37.68" x2="202" y2="37.68" stroke="#6a9fcb" stroke-width="1.1" stroke-dasharray="4,3" />
<text x="202.5" y="37.68" font-family="Liberation Sans" font-size="4.8" font-weight="bold" font-style="normal" text-anchor="start" fill="#222" dominant-baseline="central"  stroke="#222" stroke-width="0.18">−0.4</text>
<line x1="215.5" y1="37.68" x2="226" y2="37.68" stroke="#6a9fcb" stroke-width="1.1" />
<text x="226.5" y="37.68" font-family="Liberation Sans" font-size="4.8" font-weight="bold" font-style="normal" text-anchor="start" fill="#222" dominant-baseline="central"  stroke="#222" stroke-width="0.18">−0.4</text>
<line x1="192" y1="43.26" x2="202" y2="43.26" stroke="#a4cbe0" stroke-width="1.1" stroke-dasharray="4,3" />
<text x="202.5" y="43.26" font-family="Liberation Sans" font-size="4.8" font-weight="bold" font-style="normal" text-anchor="start" fill="#222" dominant-baseline="central"  stroke="#222" stroke-width="0.18">−0.3</text>
<line x1="215.5" y1="43.26" x2="226" y2="43.26" stroke="#a4cbe0" stroke-width="1.1" />
<text x="226.5" y="43.26" font-family="Liberation Sans" font-size="4.8" font-weight="bold" font-style="normal" text-anchor="start" fill="#222" dominant-baseline="central"  stroke="#222" stroke-width="0.18">−0.3</text>
<line x1="192" y1="48.84" x2="202" y2="48.84" stroke="#dce7ef" stroke-width="1.1" stroke-dasharray="4,3" />
<text x="202.5" y="48.84" font-family="Liberation Sans" font-size="4.8" font-weight="bold" font-style="normal" text-anchor="start" fill="#222" dominant-baseline="central"  stroke="#222" stroke-width="0.18">−0.2</text>
<line x1="215.5" y1="48.84" x2="226" y2="48.84" stroke="#dce7ef" stroke-width="1.1" />
<text x="226.5" y="48.84" font-family="Liberation Sans" font-size="4.8" font-weight="bold" font-style="normal" text-anchor="start" fill="#222" dominant-baseline="central"  stroke="#222" stroke-width="0.18">−0.2</text>
<line x1="192" y1="54.42" x2="202" y2="54.42" stroke="#f2e9e4" stroke-width="1.1" stroke-dasharray="4,3" />
<text x="202.5" y="54.42" font-family="Liberation Sans" font-size="4.8" font-weight="bold" font-style="normal" text-anchor="start" fill="#222" dominant-baseline="central"  stroke="#222" stroke-width="0.18">−0.1</text>
<line x1="215.5" y1="54.42" x2="226" y2="54.42" stroke="#f2e9e4" stroke-width="1.1" />
<text x="226.5" y="54.42" font-family="Liberation Sans" font-size="4.8" font-weight="bold" font-style="normal" text-anchor="start" fill="#222" dominant-baseline="central"  stroke="#222" stroke-width="0.18">−0.1</text>
<line x1="192" y1="60" x2="202" y2="60" stroke="#ecc0b2" stroke-width="1.1" stroke-dasharray="4,3" />
<text x="202.5" y="60" font-family="Liberation Sans" font-size="4.8" font-weight="bold" font-style="normal" text-anchor="start" fill="#222" dominant-baseline="central"  stroke="#222" stroke-width="0.18">0</text>
<line x1="215.5" y1="60" x2="226" y2="60" stroke="#ecc0b2" stroke-width="1.1" />
<text x="226.5" y="60" font-family="Liberation Sans" font-size="4.8" font-weight="bold" font-style="normal" text-anchor="start" fill="#222" dominant-baseline="central"  stroke="#222" stroke-width="0.18">0</text>
<line x1="192" y1="65.58" x2="202" y2="65.58" stroke="#d9746a" stroke-width="1.1" stroke-dasharray="4,3" />
<text x="202.5" y="65.58" font-family="Liberation Sans" font-size="4.8" font-weight="bold" font-style="normal" text-anchor="start" fill="#222" dominant-baseline="central"  stroke="#222" stroke-width="0.18">+0.1</text>
<line x1="215.5" y1="65.58" x2="226" y2="65.58" stroke="#d9746a" stroke-width="1.1" />
<text x="226.5" y="65.58" font-family="Liberation Sans" font-size="4.8" font-weight="bold" font-style="normal" text-anchor="start" fill="#222" dominant-baseline="central"  stroke="#222" stroke-width="0.18">+0.1</text>
<line x1="192" y1="71.16" x2="202" y2="71.16" stroke="#b04a4c" stroke-width="1.1" stroke-dasharray="4,3" />
<text x="202.5" y="71.16" font-family="Liberation Sans" font-size="4.8" font-weight="bold" font-style="normal" text-anchor="start" fill="#222" dominant-baseline="central"  stroke="#222" stroke-width="0.18">+0.2</text>
<line x1="215.5" y1="71.16" x2="226" y2="71.16" stroke="#b04a4c" stroke-width="1.1" />
<text x="226.5" y="71.16" font-family="Liberation Sans" font-size="4.8" font-weight="bold" font-style="normal" text-anchor="start" fill="#222" dominant-baseline="central"  stroke="#222" stroke-width="0.18">+0.2</text>
<rect x="283" y="15" width="6.87" height="130.6" fill="url(#pinkG)" />
<rect x="289.87" y="15" width="91.6" height="130.6" fill="url(#pvG)" />
<rect x="381.47" y="15" width="18.32" height="130.6" fill="url(#snG)" />
<rect x="399.79" y="15" width="46.51" height="130.6" fill="url(#itoG)" />
<line x1="289.87" y1="15" x2="289.87" y2="145.6" stroke="#6a7890" stroke-width="0.6" stroke-dasharray="1,1" />
<line x1="381.47" y1="15" x2="381.47" y2="145.6" stroke="#6a7890" stroke-width="0.6" stroke-dasharray="1,1" />
<line x1="399.79" y1="15" x2="399.79" y2="145.6" stroke="#6a7890" stroke-width="0.6" stroke-dasharray="1,1" />
<polyline points="283,31.59 284.23,31.59 285.46,31.59 286.69,31.59 287.92,31.59 289.15,31.59 290.39,31.59 291.62,31.59 292.85,31.59 294.08,31.59 295.31,31.59 296.54,31.59 297.77,31.59 299,31.59 300.23,31.59 301.46,31.59 302.69,31.59 303.92,31.59 305.16,31.59 306.39,31.59 307.62,31.59 308.85,31.59 310.08,31.59 311.31,31.59 312.54,31.59 313.77,31.59 315,31.59 316.23,31.59 317.46,31.59 318.7,31.59 319.93,31.59 321.16,31.59 322.39,31.59 323.62,31.59 324.85,31.59 326.08,31.59 327.31,31.59 328.54,31.59 329.77,31.59 331,31.59 332.24,31.59 333.47,31.59 334.7,31.59 335.93,31.59 337.16,31.59 338.39,31.59 339.62,31.59 340.85,31.59 342.08,31.59 343.31,31.59 344.54,31.59 345.77,31.59 347.01,31.59 348.24,31.61 349.47,31.65 350.7,31.72 351.93,31.82 353.16,31.96 354.39,32.12 355.62,32.31 356.85,32.53 358.08,32.78 359.31,33.06 360.55,33.38 361.78,33.72 363.01,34.09 364.24,34.49 365.47,34.92 366.7,35.38 367.93,35.87 369.16,36.4 370.39,36.95 371.62,37.53 372.85,38.08 374.08,40.05 375.32,43.67 376.55,48.11 377.78,52.36 379.01,55.45 380.24,56.67 381.47,56.67 381.47,142.37 399.79,143.2 400.93,145.5" fill="none" stroke="#e6d65a" stroke-width="1.3" stroke-linejoin="round" />
<polyline points="283,105.79 284.23,105.79 285.46,105.79 286.69,105.79 287.92,105.79 289.15,105.79 290.39,105.79 291.62,105.79 292.85,105.79 294.08,105.79 295.31,105.79 296.54,105.79 297.77,105.79 299,105.79 300.23,105.79 301.46,105.79 302.69,105.79 303.92,105.79 305.16,105.79 306.39,105.79 307.62,105.79 308.85,105.79 310.08,105.79 311.31,105.79 312.54,105.79 313.77,105.79 315,105.79 316.23,105.79 317.46,105.79 318.7,105.79 319.93,105.79 321.16,105.79 322.39,105.79 323.62,105.79 324.85,105.79 326.08,105.79 327.31,105.8 328.54,105.82 329.77,105.83 331,105.86 332.24,105.88 333.47,105.91 334.7,105.95 335.93,105.99 337.16,106.03 338.39,106.08 339.62,106.13 340.85,106.19 342.08,106.25 343.31,106.32 344.54,106.39 345.77,106.46 347.01,106.54 348.24,106.62 349.47,106.71 350.7,106.8 351.93,106.9 353.16,107 354.39,107.1 355.62,107.21 356.85,107.32 358.08,107.44 359.31,107.56 360.55,107.69 361.78,107.82 363.01,107.96 364.24,108.1 365.47,108.24 366.7,108.39 367.93,108.54 369.16,108.7 370.39,108.86 371.62,109.03 372.85,109.26 374.08,110.27 375.32,112.28 376.55,115.48 377.78,120.02 379.01,125.98 380.24,133.41 381.47,142.36 399.79,143.2 400.93,145.5" fill="none" stroke="#b9d05c" stroke-width="1.3" stroke-linejoin="round" />
<polyline points="283,116.76 284.23,116.76 285.46,116.76 286.69,116.76 287.92,116.76 289.15,116.76 290.39,116.76 291.62,116.76 292.85,116.76 294.08,116.76 295.31,116.76 296.54,116.76 297.77,116.76 299,116.76 300.23,116.76 301.46,116.76 302.69,116.76 303.92,116.76 305.16,116.76 306.39,116.76 307.62,116.76 308.85,116.76 310.08,116.76 311.31,116.76 312.54,116.76 313.77,116.76 315,116.76 316.23,116.76 317.46,116.76 318.7,116.76 319.93,116.76 321.16,116.76 322.39,116.76 323.62,116.76 324.85,116.76 326.08,116.77 327.31,116.78 328.54,116.8 329.77,116.83 331,116.87 332.24,116.91 333.47,116.96 334.7,117.01 335.93,117.07 337.16,117.14 338.39,117.22 339.62,117.3 340.85,117.39 342.08,117.48 343.31,117.59 344.54,117.7 345.77,117.81 347.01,117.94 348.24,118.07 349.47,118.21 350.7,118.35 351.93,118.5 353.16,118.66 354.39,118.82 355.62,119 356.85,119.17 358.08,119.36 359.31,119.55 360.55,119.75 361.78,119.96 363.01,120.17 364.24,120.39 365.47,120.62 366.7,120.85 367.93,121.09 369.16,121.34 370.39,121.59 371.62,121.85 372.85,122.16 374.08,122.93 375.32,124.22 376.55,126.15 377.78,128.89 379.01,132.48 380.24,136.96 381.47,142.36 399.79,143.2 400.93,145.5" fill="none" stroke="#76c47e" stroke-width="1.3" stroke-linejoin="round" />
<polyline points="283,130.35 284.23,130.35 285.46,130.35 286.69,130.35 287.92,130.35 289.15,130.35 290.39,130.35 291.62,130.35 292.85,130.35 294.08,130.35 295.31,130.35 296.54,130.35 297.77,130.35 299,130.35 300.23,130.35 301.46,130.35 302.69,130.35 303.92,130.35 305.16,130.35 306.39,130.35 307.62,130.35 308.85,130.35 310.08,130.35 311.31,130.35 312.54,130.35 313.77,130.35 315,130.35 316.23,130.35 317.46,130.35 318.7,130.35 319.93,130.35 321.16,130.35 322.39,130.35 323.62,130.39 324.85,130.47 326.08,130.57 327.31,130.7 328.54,130.86 329.77,131.04 331,131.25 332.24,131.47 333.47,131.72 334.7,131.99 335.93,132.27 337.16,132.56 338.39,132.88 339.62,133.2 340.85,133.54 342.08,133.89 343.31,134.24 344.54,134.6 345.77,134.97 347.01,135.35 348.24,135.72 349.47,136.1 350.7,136.48 351.93,136.86 353.16,137.23 354.39,137.6 355.62,137.97 356.85,138.32 358.08,138.67 359.31,139.01 360.55,139.34 361.78,139.66 363.01,139.97 364.24,140.26 365.47,140.53 366.7,140.79 367.93,141.03 369.16,141.26 370.39,141.46 371.62,141.65 372.85,141.81 374.08,141.96 375.32,142.08 376.55,142.18 377.78,142.26 379.01,142.32 380.24,142.35 381.47,142.37 399.79,143.2 400.93,145.5" fill="none" stroke="#62b4a0" stroke-width="1.3" stroke-linejoin="round" />
<polyline points="283,132.44 284.23,132.44 285.46,132.44 286.69,132.44 287.92,132.44 289.15,132.44 290.39,132.44 291.62,132.44 292.85,132.44 294.08,132.44 295.31,132.44 296.54,132.44 297.77,132.44 299,132.44 300.23,132.44 301.46,132.44 302.69,132.44 303.92,132.44 305.16,132.44 306.39,132.44 307.62,132.44 308.85,132.44 310.08,132.44 311.31,132.44 312.54,132.44 313.77,132.44 315,132.44 316.23,132.44 317.46,132.44 318.7,132.44 319.93,132.44 321.16,132.44 322.39,132.44 323.62,132.47 324.85,132.54 326.08,132.62 327.31,132.73 328.54,132.86 329.77,133.01 331,133.18 332.24,133.37 333.47,133.57 334.7,133.79 335.93,134.02 337.16,134.27 338.39,134.53 339.62,134.8 340.85,135.07 342.08,135.36 343.31,135.65 344.54,135.95 345.77,136.26 347.01,136.57 348.24,136.88 349.47,137.19 350.7,137.5 351.93,137.82 353.16,138.12 354.39,138.43 355.62,138.73 356.85,139.03 358.08,139.32 359.31,139.6 360.55,139.87 361.78,140.13 363.01,140.38 364.24,140.62 365.47,140.85 366.7,141.07 367.93,141.27 369.16,141.45 370.39,141.62 371.62,141.77 372.85,141.91 374.08,142.03 375.32,142.13 376.55,142.21 377.78,142.28 379.01,142.33 380.24,142.36 381.47,142.37 399.79,143.2 400.93,145.5" fill="none" stroke="#3c8c98" stroke-width="1.3" stroke-linejoin="round" />
<polyline points="283,133.8 284.23,133.8 285.46,133.8 286.69,133.8 287.92,133.8 289.15,133.8 290.39,133.8 291.62,133.8 292.85,133.8 294.08,133.8 295.31,133.8 296.54,133.8 297.77,133.8 299,133.8 300.23,133.8 301.46,133.8 302.69,133.8 303.92,133.8 305.16,133.8 306.39,133.8 307.62,133.8 308.85,133.8 310.08,133.8 311.31,133.8 312.54,133.8 313.77,133.8 315,133.8 316.23,133.8 317.46,133.8 318.7,133.8 319.93,133.8 321.16,133.8 322.39,133.8 323.62,133.83 324.85,133.88 326.08,133.96 327.31,134.05 328.54,134.16 329.77,134.29 331,134.44 332.24,134.6 333.47,134.78 334.7,134.96 335.93,135.16 337.16,135.38 338.39,135.6 339.62,135.83 340.85,136.07 342.08,136.32 343.31,136.57 344.54,136.83 345.77,137.09 347.01,137.36 348.24,137.63 349.47,137.9 350.7,138.17 351.93,138.44 353.16,138.7 354.39,138.97 355.62,139.23 356.85,139.48 358.08,139.73 359.31,139.98 360.55,140.21 361.78,140.44 363.01,140.66 364.24,140.86 365.47,141.06 366.7,141.24 367.93,141.42 369.16,141.58 370.39,141.72 371.62,141.85 372.85,141.97 374.08,142.08 375.32,142.16 376.55,142.24 377.78,142.29 379.01,142.33 380.24,142.36 381.47,142.37 399.79,143.2 400.93,145.5" fill="none" stroke="#62809e" stroke-width="1.3" stroke-linejoin="round" />
<polyline points="283,134 284.23,134 285.46,134 286.69,134 287.92,134 289.15,134 290.39,134 291.62,134 292.85,134 294.08,134 295.31,134 296.54,134 297.77,134 299,134 300.23,134 301.46,134 302.69,134 303.92,134 305.16,134 306.39,134 307.62,134 308.85,134 310.08,134 311.31,134 312.54,134 313.77,134 315,134 316.23,134 317.46,134 318.7,134 319.93,134 321.16,134 322.39,134.01 323.62,134.04 324.85,134.09 326.08,134.16 327.31,134.25 328.54,134.36 329.77,134.49 331,134.63 332.24,134.79 333.47,134.96 334.7,135.14 335.93,135.34 337.16,135.55 338.39,135.76 339.62,135.99 340.85,136.22 342.08,136.47 343.31,136.71 344.54,136.97 345.77,137.22 347.01,137.48 348.24,137.75 349.47,138.01 350.7,138.27 351.93,138.53 353.16,138.79 354.39,139.05 355.62,139.31 356.85,139.55 358.08,139.8 359.31,140.03 360.55,140.26 361.78,140.48 363.01,140.7 364.24,140.9 365.47,141.09 366.7,141.27 367.93,141.44 369.16,141.6 370.39,141.74 371.62,141.87 372.85,141.98 374.08,142.08 375.32,142.17 376.55,142.24 377.78,142.29 379.01,142.33 380.24,142.36 381.47,142.37 399.79,143.2 400.93,145.5" fill="none" stroke="#545484" stroke-width="1.3" stroke-linejoin="round" />
<polyline points="283,134.21 284.23,134.21 285.46,134.21 286.69,134.21 287.92,134.21 289.15,134.21 290.39,134.21 291.62,134.21 292.85,134.21 294.08,134.21 295.31,134.21 296.54,134.21 297.77,134.21 299,134.21 300.23,134.21 301.46,134.21 302.69,134.21 303.92,134.21 305.16,134.21 306.39,134.21 307.62,134.21 308.85,134.21 310.08,134.21 311.31,134.21 312.54,134.21 313.77,134.21 315,134.21 316.23,134.21 317.46,134.21 318.7,134.21 319.93,134.21 321.16,134.21 322.39,134.22 323.62,134.24 324.85,134.29 326.08,134.37 327.31,134.46 328.54,134.56 329.77,134.69 331,134.83 332.24,134.98 333.47,135.15 334.7,135.32 335.93,135.52 337.16,135.72 338.39,135.93 339.62,136.15 340.85,136.38 342.08,136.61 343.31,136.86 344.54,137.1 345.77,137.35 347.01,137.61 348.24,137.86 349.47,138.12 350.7,138.37 351.93,138.63 353.16,138.88 354.39,139.13 355.62,139.38 356.85,139.62 358.08,139.86 359.31,140.09 360.55,140.32 361.78,140.53 363.01,140.74 364.24,140.94 365.47,141.12 366.7,141.3 367.93,141.46 369.16,141.61 370.39,141.75 371.62,141.88 372.85,141.99 374.08,142.09 375.32,142.17 376.55,142.24 377.78,142.3 379.01,142.33 380.24,142.36 381.47,142.37 399.79,143.2 400.93,145.5" fill="none" stroke="#3a3a4a" stroke-width="1.3" stroke-linejoin="round" />
<rect x="283" y="15" width="163.3" height="130.6" fill="none" stroke="#3a3a3a" stroke-width="1.3"/>
<line x1="283" y1="145.6" x2="283" y2="143.4" stroke="#333" stroke-width="0.9" />
<line x1="283" y1="15" x2="283" y2="17.2" stroke="#333" stroke-width="0.9" />
<line x1="305.9" y1="145.6" x2="305.9" y2="143.4" stroke="#333" stroke-width="0.9" />
<line x1="305.9" y1="15" x2="305.9" y2="17.2" stroke="#333" stroke-width="0.9" />
<line x1="328.8" y1="145.6" x2="328.8" y2="143.4" stroke="#333" stroke-width="0.9" />
<line x1="328.8" y1="15" x2="328.8" y2="17.2" stroke="#333" stroke-width="0.9" />
<line x1="351.7" y1="145.6" x2="351.7" y2="143.4" stroke="#333" stroke-width="0.9" />
<line x1="351.7" y1="15" x2="351.7" y2="17.2" stroke="#333" stroke-width="0.9" />
<line x1="374.6" y1="145.6" x2="374.6" y2="143.4" stroke="#333" stroke-width="0.9" />
<line x1="374.6" y1="15" x2="374.6" y2="17.2" stroke="#333" stroke-width="0.9" />
<line x1="397.5" y1="145.6" x2="397.5" y2="143.4" stroke="#333" stroke-width="0.9" />
<line x1="397.5" y1="15" x2="397.5" y2="17.2" stroke="#333" stroke-width="0.9" />
<line x1="420.4" y1="145.6" x2="420.4" y2="143.4" stroke="#333" stroke-width="0.9" />
<line x1="420.4" y1="15" x2="420.4" y2="17.2" stroke="#333" stroke-width="0.9" />
<line x1="443.3" y1="145.6" x2="443.3" y2="143.4" stroke="#333" stroke-width="0.9" />
<line x1="443.3" y1="15" x2="443.3" y2="17.2" stroke="#333" stroke-width="0.9" />
<line x1="294.45" y1="145.6" x2="294.45" y2="144.3" stroke="#333" stroke-width="0.8" />
<line x1="294.45" y1="15" x2="294.45" y2="16.3" stroke="#333" stroke-width="0.8" />
<line x1="317.35" y1="145.6" x2="317.35" y2="144.3" stroke="#333" stroke-width="0.8" />
<line x1="317.35" y1="15" x2="317.35" y2="16.3" stroke="#333" stroke-width="0.8" />
<line x1="340.25" y1="145.6" x2="340.25" y2="144.3" stroke="#333" stroke-width="0.8" />
<line x1="340.25" y1="15" x2="340.25" y2="16.3" stroke="#333" stroke-width="0.8" />
<line x1="363.15" y1="145.6" x2="363.15" y2="144.3" stroke="#333" stroke-width="0.8" />
<line x1="363.15" y1="15" x2="363.15" y2="16.3" stroke="#333" stroke-width="0.8" />
<line x1="386.05" y1="145.6" x2="386.05" y2="144.3" stroke="#333" stroke-width="0.8" />
<line x1="386.05" y1="15" x2="386.05" y2="16.3" stroke="#333" stroke-width="0.8" />
<line x1="408.95" y1="145.6" x2="408.95" y2="144.3" stroke="#333" stroke-width="0.8" />
<line x1="408.95" y1="15" x2="408.95" y2="16.3" stroke="#333" stroke-width="0.8" />
<line x1="431.85" y1="145.6" x2="431.85" y2="144.3" stroke="#333" stroke-width="0.8" />
<line x1="431.85" y1="15" x2="431.85" y2="16.3" stroke="#333" stroke-width="0.8" />
<line x1="283" y1="145.5" x2="285.2" y2="145.5" stroke="#333" stroke-width="0.9" />
<line x1="446.3" y1="145.5" x2="444.1" y2="145.5" stroke="#333" stroke-width="0.9" />
<line x1="283" y1="124.6" x2="285.2" y2="124.6" stroke="#333" stroke-width="0.9" />
<line x1="446.3" y1="124.6" x2="444.1" y2="124.6" stroke="#333" stroke-width="0.9" />
<line x1="283" y1="103.7" x2="285.2" y2="103.7" stroke="#333" stroke-width="0.9" />
<line x1="446.3" y1="103.7" x2="444.1" y2="103.7" stroke="#333" stroke-width="0.9" />
<line x1="283" y1="82.8" x2="285.2" y2="82.8" stroke="#333" stroke-width="0.9" />
<line x1="446.3" y1="82.8" x2="444.1" y2="82.8" stroke="#333" stroke-width="0.9" />
<line x1="283" y1="61.9" x2="285.2" y2="61.9" stroke="#333" stroke-width="0.9" />
<line x1="446.3" y1="61.9" x2="444.1" y2="61.9" stroke="#333" stroke-width="0.9" />
<line x1="283" y1="41" x2="285.2" y2="41" stroke="#333" stroke-width="0.9" />
<line x1="446.3" y1="41" x2="444.1" y2="41" stroke="#333" stroke-width="0.9" />
<line x1="283" y1="20.1" x2="285.2" y2="20.1" stroke="#333" stroke-width="0.9" />
<line x1="446.3" y1="20.1" x2="444.1" y2="20.1" stroke="#333" stroke-width="0.9" />
<line x1="283" y1="135.05" x2="284.3" y2="135.05" stroke="#333" stroke-width="0.8" />
<line x1="446.3" y1="135.05" x2="445" y2="135.05" stroke="#333" stroke-width="0.8" />
<line x1="283" y1="114.15" x2="284.3" y2="114.15" stroke="#333" stroke-width="0.8" />
<line x1="446.3" y1="114.15" x2="445" y2="114.15" stroke="#333" stroke-width="0.8" />
<line x1="283" y1="93.25" x2="284.3" y2="93.25" stroke="#333" stroke-width="0.8" />
<line x1="446.3" y1="93.25" x2="445" y2="93.25" stroke="#333" stroke-width="0.8" />
<line x1="283" y1="72.35" x2="284.3" y2="72.35" stroke="#333" stroke-width="0.8" />
<line x1="446.3" y1="72.35" x2="445" y2="72.35" stroke="#333" stroke-width="0.8" />
<line x1="283" y1="51.45" x2="284.3" y2="51.45" stroke="#333" stroke-width="0.8" />
<line x1="446.3" y1="51.45" x2="445" y2="51.45" stroke="#333" stroke-width="0.8" />
<line x1="283" y1="30.55" x2="284.3" y2="30.55" stroke="#333" stroke-width="0.8" />
<line x1="446.3" y1="30.55" x2="445" y2="30.55" stroke="#333" stroke-width="0.8" />
<text x="283" y="151.6" font-family="Liberation Sans" font-size="6.7" font-weight="bold" font-style="normal" text-anchor="middle" fill="#222" dominant-baseline="central"  stroke="#222" stroke-width="0.18">0.0</text>
<text x="305.9" y="151.6" font-family="Liberation Sans" font-size="6.7" font-weight="bold" font-style="normal" text-anchor="middle" fill="#222" dominant-baseline="central"  stroke="#222" stroke-width="0.18">0.1</text>
<text x="328.8" y="151.6" font-family="Liberation Sans" font-size="6.7" font-weight="bold" font-style="normal" text-anchor="middle" fill="#222" dominant-baseline="central"  stroke="#222" stroke-width="0.18">0.2</text>
<text x="351.7" y="151.6" font-family="Liberation Sans" font-size="6.7" font-weight="bold" font-style="normal" text-anchor="middle" fill="#222" dominant-baseline="central"  stroke="#222" stroke-width="0.18">0.3</text>
<text x="374.6" y="151.6" font-family="Liberation Sans" font-size="6.7" font-weight="bold" font-style="normal" text-anchor="middle" fill="#222" dominant-baseline="central"  stroke="#222" stroke-width="0.18">0.4</text>
<text x="397.5" y="151.6" font-family="Liberation Sans" font-size="6.7" font-weight="bold" font-style="normal" text-anchor="middle" fill="#222" dominant-baseline="central"  stroke="#222" stroke-width="0.18">0.5</text>
<text x="420.4" y="151.6" font-family="Liberation Sans" font-size="6.7" font-weight="bold" font-style="normal" text-anchor="middle" fill="#222" dominant-baseline="central"  stroke="#222" stroke-width="0.18">0.6</text>
<text x="443.3" y="151.6" font-family="Liberation Sans" font-size="6.7" font-weight="bold" font-style="normal" text-anchor="middle" fill="#222" dominant-baseline="central"  stroke="#222" stroke-width="0.18">0.7</text>
<text x="280.3" y="145.5" font-family="Liberation Sans" font-size="6.7" font-weight="bold" font-style="normal" text-anchor="end" fill="#222" dominant-baseline="central"  stroke="#222" stroke-width="0.18">0.0</text>
<text x="280.3" y="124.6" font-family="Liberation Sans" font-size="6.7" font-weight="bold" font-style="normal" text-anchor="end" fill="#222" dominant-baseline="central"  stroke="#222" stroke-width="0.18">0.2</text>
<text x="280.3" y="103.7" font-family="Liberation Sans" font-size="6.7" font-weight="bold" font-style="normal" text-anchor="end" fill="#222" dominant-baseline="central"  stroke="#222" stroke-width="0.18">0.4</text>
<text x="280.3" y="82.8" font-family="Liberation Sans" font-size="6.7" font-weight="bold" font-style="normal" text-anchor="end" fill="#222" dominant-baseline="central"  stroke="#222" stroke-width="0.18">0.6</text>
<text x="280.3" y="61.9" font-family="Liberation Sans" font-size="6.7" font-weight="bold" font-style="normal" text-anchor="end" fill="#222" dominant-baseline="central"  stroke="#222" stroke-width="0.18">0.8</text>
<text x="280.3" y="41" font-family="Liberation Sans" font-size="6.7" font-weight="bold" font-style="normal" text-anchor="end" fill="#222" dominant-baseline="central"  stroke="#222" stroke-width="0.18">1.0</text>
<text x="280.3" y="20.1" font-family="Liberation Sans" font-size="6.7" font-weight="bold" font-style="normal" text-anchor="end" fill="#222" dominant-baseline="central"  stroke="#222" stroke-width="0.18">1.2</text>
<text x="364.5" y="160" font-family="Liberation Sans" font-size="8.2" font-weight="bold" font-style="normal" text-anchor="middle" fill="#222" dominant-baseline="central"  stroke="#222" stroke-width="0.18">Position (μm)</text>
<text x="264.4" y="82.8" font-family="Liberation Sans" font-size="8.2" font-weight="bold" font-style="normal" text-anchor="middle" fill="#222" dominant-baseline="central" transform="rotate(-90 264.4 82.8)" stroke="#222" stroke-width="0.18"><tspan dy="-0">Cumulative </tspan><tspan font-style="italic" dy="0">J</tspan><tspan font-size="5.08" dy="2.3">Re</tspan><tspan dy="-2.3"> (mA/cm</tspan><tspan font-size="5.08" dy="-2.87">2</tspan><tspan dy="2.87">)</tspan></text>
<text x="255.5" y="15" font-family="Liberation Sans" font-size="12" font-weight="normal" font-style="normal" text-anchor="start" fill="#333333" dominant-baseline="central" stroke="#333333" stroke-width="0.4">(b)</text>
<line x1="287.5" y1="24.7" x2="295.3" y2="24.7" stroke="#222" stroke-width="0.9" />
<polygon points="297.8,24.7 294.2,23.1 294.2,26.3" fill="#222"/>
<text x="302.3" y="24.7" font-family="Liberation Sans" font-size="7" font-weight="bold" fill="#1e2633" dominant-baseline="central">Spiro-TTB/MoO<tspan font-size="4.55" dy="2">3</tspan></text>
<text x="299.2" y="46" font-family="Liberation Sans" font-size="6.7" font-weight="bold" font-style="normal" text-anchor="start" fill="#d2444f" dominant-baseline="central" stroke="#d2444f" stroke-width="0.18"><tspan font-style="italic" dy="-0">N</tspan><tspan font-size="4.02" dy="1.88">t</tspan><tspan font-size="4.02" dy="-4.22">ETL/PVSK</tspan><tspan dy="2.34"> =1 × 10</tspan><tspan font-size="4.02" dy="-2.34">10</tspan><tspan dy="2.34">cm</tspan><tspan font-size="4.02" dy="-2.34">−2</tspan></text>
<text x="335.8" y="76.3" font-family="Liberation Sans" font-size="6.8" font-weight="bold" font-style="normal" text-anchor="middle" fill="#222" dominant-baseline="central" transform="rotate(-90 335.8 76.3)" stroke="#222" stroke-width="0.18"><tspan dy="-0">CsPbI</tspan><tspan font-size="4.22" dy="1.9">2</tspan><tspan dy="-1.9">Br</tspan></text>
<text x="392.4" y="77.9" font-family="Liberation Sans" font-size="6.8" font-weight="bold" font-style="normal" text-anchor="middle" fill="#222" dominant-baseline="central" transform="rotate(-90 392.4 77.9)" stroke="#222" stroke-width="0.18"><tspan dy="-0">SnO</tspan><tspan font-size="4.22" dy="1.9">2</tspan></text>
<text x="422.6" y="122.5" font-family="Liberation Sans" font-size="6.8" font-weight="bold" font-style="normal" text-anchor="middle" fill="#222" dominant-baseline="central" transform="rotate(-90 422.6 122.5)"  stroke="#222" stroke-width="0.18">ITO</text>
<text x="423.4" y="29.9" font-family="Liberation Sans" font-size="7" font-weight="bold" font-style="normal" text-anchor="middle" fill="#222" dominant-baseline="central"  stroke="#222" stroke-width="0.18">CBO (eV)</text>
<line x1="405.2" y1="38.9" x2="421.1" y2="38.9" stroke="#e6d65a" stroke-width="1.8" />
<text x="422.6" y="38.9" font-family="Liberation Sans" font-size="7" font-weight="bold" font-style="normal" text-anchor="start" fill="#222" dominant-baseline="central"  stroke="#222" stroke-width="0.18">−0.5</text>
<line x1="405.2" y1="47.55" x2="421.1" y2="47.55" stroke="#b9d05c" stroke-width="1.8" />
<text x="422.6" y="47.55" font-family="Liberation Sans" font-size="7" font-weight="bold" font-style="normal" text-anchor="start" fill="#222" dominant-baseline="central"  stroke="#222" stroke-width="0.18">−0.4</text>
<line x1="405.2" y1="56.2" x2="421.1" y2="56.2" stroke="#76c47e" stroke-width="1.8" />
<text x="422.6" y="56.2" font-family="Liberation Sans" font-size="7" font-weight="bold" font-style="normal" text-anchor="start" fill="#222" dominant-baseline="central"  stroke="#222" stroke-width="0.18">−0.3</text>
<line x1="405.2" y1="64.85" x2="421.1" y2="64.85" stroke="#62b4a0" stroke-width="1.8" />
<text x="422.6" y="64.85" font-family="Liberation Sans" font-size="7" font-weight="bold" font-style="normal" text-anchor="start" fill="#222" dominant-baseline="central"  stroke="#222" stroke-width="0.18">−0.2</text>
<line x1="405.2" y1="73.5" x2="421.1" y2="73.5" stroke="#3c8c98" stroke-width="1.8" />
<text x="422.6" y="73.5" font-family="Liberation Sans" font-size="7" font-weight="bold" font-style="normal" text-anchor="start" fill="#222" dominant-baseline="central"  stroke="#222" stroke-width="0.18">−0.1</text>
<line x1="405.2" y1="82.15" x2="421.1" y2="82.15" stroke="#62809e" stroke-width="1.8" />
<text x="422.6" y="82.15" font-family="Liberation Sans" font-size="7" font-weight="bold" font-style="normal" text-anchor="start" fill="#222" dominant-baseline="central"  stroke="#222" stroke-width="0.18">0</text>
<line x1="405.2" y1="90.8" x2="421.1" y2="90.8" stroke="#545484" stroke-width="1.8" />
<text x="422.6" y="90.8" font-family="Liberation Sans" font-size="7" font-weight="bold" font-style="normal" text-anchor="start" fill="#222" dominant-baseline="central"  stroke="#222" stroke-width="0.18">+0.1</text>
<line x1="405.2" y1="99.45" x2="421.1" y2="99.45" stroke="#3a3a4a" stroke-width="1.8" />
<text x="422.6" y="99.45" font-family="Liberation Sans" font-size="7" font-weight="bold" font-style="normal" text-anchor="start" fill="#222" dominant-baseline="central"  stroke="#222" stroke-width="0.18">+0.2</text>
<rect x="490" y="14.6" width="6.88" height="132.6" fill="url(#pinkG)" />
<rect x="496.88" y="14.6" width="93.08" height="132.6" fill="url(#pvG)" />
<rect x="589.96" y="14.6" width="18.62" height="132.6" fill="url(#snG)" />
<rect x="608.58" y="14.6" width="46.42" height="132.6" fill="url(#itoG)" />
<line x1="496.88" y1="14.6" x2="496.88" y2="147.2" stroke="#6a7890" stroke-width="0.6" stroke-dasharray="1,1" />
<line x1="589.96" y1="14.6" x2="589.96" y2="147.2" stroke="#6a7890" stroke-width="0.6" stroke-dasharray="1,1" />
<line x1="608.58" y1="14.6" x2="608.58" y2="147.2" stroke="#6a7890" stroke-width="0.6" stroke-dasharray="1,1" />
<line x1="489.9" y1="24.68" x2="589.96" y2="24.68" stroke="#e6d65a" stroke-width="1.6" />
<line x1="489.9" y1="26.45" x2="589.96" y2="26.45" stroke="#a8c86a" stroke-width="1.2" />
<line x1="589.96" y1="24.9" x2="589.96" y2="135.6" stroke="#7cc07a" stroke-width="0.9" />
<line x1="489.9" y1="36.74" x2="589.96" y2="36.74" stroke="#4fae86" stroke-width="1.1" />
<line x1="589.96" y1="36.74" x2="589.96" y2="135.6" stroke="#4fae86" stroke-width="0.9" />
<polyline points="489.9,99.07 589.96,99.73 589.96,135.6" fill="none" stroke="#45a090" stroke-width="1.1" stroke-linejoin="round" />
<polyline points="489.9,130.95 536.44,131.17 589.96,132.28 589.96,135.6" fill="none" stroke="#3a8a96" stroke-width="1.1" stroke-linejoin="round" />
<polyline points="489.9,134.05 536.44,134.16 589.96,135.38 652.79,135.6 655,135.6" fill="none" stroke="#3c3a6a" stroke-width="1.4" stroke-linejoin="round" />
<rect x="490" y="14.6" width="165" height="132.6" fill="none" stroke="#3a3a3a" stroke-width="1.3"/>
<line x1="489.9" y1="147.2" x2="489.9" y2="145" stroke="#333" stroke-width="0.9" />
<line x1="489.9" y1="14.6" x2="489.9" y2="16.8" stroke="#333" stroke-width="0.9" />
<line x1="513.17" y1="147.2" x2="513.17" y2="145" stroke="#333" stroke-width="0.9" />
<line x1="513.17" y1="14.6" x2="513.17" y2="16.8" stroke="#333" stroke-width="0.9" />
<line x1="536.44" y1="147.2" x2="536.44" y2="145" stroke="#333" stroke-width="0.9" />
<line x1="536.44" y1="14.6" x2="536.44" y2="16.8" stroke="#333" stroke-width="0.9" />
<line x1="559.71" y1="147.2" x2="559.71" y2="145" stroke="#333" stroke-width="0.9" />
<line x1="559.71" y1="14.6" x2="559.71" y2="16.8" stroke="#333" stroke-width="0.9" />
<line x1="582.98" y1="147.2" x2="582.98" y2="145" stroke="#333" stroke-width="0.9" />
<line x1="582.98" y1="14.6" x2="582.98" y2="16.8" stroke="#333" stroke-width="0.9" />
<line x1="606.25" y1="147.2" x2="606.25" y2="145" stroke="#333" stroke-width="0.9" />
<line x1="606.25" y1="14.6" x2="606.25" y2="16.8" stroke="#333" stroke-width="0.9" />
<line x1="629.52" y1="147.2" x2="629.52" y2="145" stroke="#333" stroke-width="0.9" />
<line x1="629.52" y1="14.6" x2="629.52" y2="16.8" stroke="#333" stroke-width="0.9" />
<line x1="652.79" y1="147.2" x2="652.79" y2="145" stroke="#333" stroke-width="0.9" />
<line x1="652.79" y1="14.6" x2="652.79" y2="16.8" stroke="#333" stroke-width="0.9" />
<line x1="501.53" y1="147.2" x2="501.53" y2="145.9" stroke="#333" stroke-width="0.8" />
<line x1="501.53" y1="14.6" x2="501.53" y2="15.9" stroke="#333" stroke-width="0.8" />
<line x1="524.8" y1="147.2" x2="524.8" y2="145.9" stroke="#333" stroke-width="0.8" />
<line x1="524.8" y1="14.6" x2="524.8" y2="15.9" stroke="#333" stroke-width="0.8" />
<line x1="548.07" y1="147.2" x2="548.07" y2="145.9" stroke="#333" stroke-width="0.8" />
<line x1="548.07" y1="14.6" x2="548.07" y2="15.9" stroke="#333" stroke-width="0.8" />
<line x1="571.35" y1="147.2" x2="571.35" y2="145.9" stroke="#333" stroke-width="0.8" />
<line x1="571.35" y1="14.6" x2="571.35" y2="15.9" stroke="#333" stroke-width="0.8" />
<line x1="594.62" y1="147.2" x2="594.62" y2="145.9" stroke="#333" stroke-width="0.8" />
<line x1="594.62" y1="14.6" x2="594.62" y2="15.9" stroke="#333" stroke-width="0.8" />
<line x1="617.88" y1="147.2" x2="617.88" y2="145.9" stroke="#333" stroke-width="0.8" />
<line x1="617.88" y1="14.6" x2="617.88" y2="15.9" stroke="#333" stroke-width="0.8" />
<line x1="641.15" y1="147.2" x2="641.15" y2="145.9" stroke="#333" stroke-width="0.8" />
<line x1="641.15" y1="14.6" x2="641.15" y2="15.9" stroke="#333" stroke-width="0.8" />
<line x1="490" y1="135.6" x2="492.2" y2="135.6" stroke="#333" stroke-width="0.9" />
<line x1="655" y1="135.6" x2="652.8" y2="135.6" stroke="#333" stroke-width="0.9" />
<line x1="490" y1="113.46" x2="492.2" y2="113.46" stroke="#333" stroke-width="0.9" />
<line x1="655" y1="113.46" x2="652.8" y2="113.46" stroke="#333" stroke-width="0.9" />
<line x1="490" y1="91.32" x2="492.2" y2="91.32" stroke="#333" stroke-width="0.9" />
<line x1="655" y1="91.32" x2="652.8" y2="91.32" stroke="#333" stroke-width="0.9" />
<line x1="490" y1="69.18" x2="492.2" y2="69.18" stroke="#333" stroke-width="0.9" />
<line x1="655" y1="69.18" x2="652.8" y2="69.18" stroke="#333" stroke-width="0.9" />
<line x1="490" y1="47.04" x2="492.2" y2="47.04" stroke="#333" stroke-width="0.9" />
<line x1="655" y1="47.04" x2="652.8" y2="47.04" stroke="#333" stroke-width="0.9" />
<line x1="490" y1="24.9" x2="492.2" y2="24.9" stroke="#333" stroke-width="0.9" />
<line x1="655" y1="24.9" x2="652.8" y2="24.9" stroke="#333" stroke-width="0.9" />
<line x1="490" y1="146.67" x2="491.3" y2="146.67" stroke="#333" stroke-width="0.8" />
<line x1="655" y1="146.67" x2="653.7" y2="146.67" stroke="#333" stroke-width="0.8" />
<line x1="490" y1="124.53" x2="491.3" y2="124.53" stroke="#333" stroke-width="0.8" />
<line x1="655" y1="124.53" x2="653.7" y2="124.53" stroke="#333" stroke-width="0.8" />
<line x1="490" y1="102.39" x2="491.3" y2="102.39" stroke="#333" stroke-width="0.8" />
<line x1="655" y1="102.39" x2="653.7" y2="102.39" stroke="#333" stroke-width="0.8" />
<line x1="490" y1="80.25" x2="491.3" y2="80.25" stroke="#333" stroke-width="0.8" />
<line x1="655" y1="80.25" x2="653.7" y2="80.25" stroke="#333" stroke-width="0.8" />
<line x1="490" y1="58.11" x2="491.3" y2="58.11" stroke="#333" stroke-width="0.8" />
<line x1="655" y1="58.11" x2="653.7" y2="58.11" stroke="#333" stroke-width="0.8" />
<line x1="490" y1="35.97" x2="491.3" y2="35.97" stroke="#333" stroke-width="0.8" />
<line x1="655" y1="35.97" x2="653.7" y2="35.97" stroke="#333" stroke-width="0.8" />
<text x="489.9" y="153.3" font-family="Liberation Sans" font-size="6.7" font-weight="bold" font-style="normal" text-anchor="middle" fill="#222" dominant-baseline="central"  stroke="#222" stroke-width="0.18">0.0</text>
<text x="513.17" y="153.3" font-family="Liberation Sans" font-size="6.7" font-weight="bold" font-style="normal" text-anchor="middle" fill="#222" dominant-baseline="central"  stroke="#222" stroke-width="0.18">0.1</text>
<text x="536.44" y="153.3" font-family="Liberation Sans" font-size="6.7" font-weight="bold" font-style="normal" text-anchor="middle" fill="#222" dominant-baseline="central"  stroke="#222" stroke-width="0.18">0.2</text>
<text x="559.71" y="153.3" font-family="Liberation Sans" font-size="6.7" font-weight="bold" font-style="normal" text-anchor="middle" fill="#222" dominant-baseline="central"  stroke="#222" stroke-width="0.18">0.3</text>
<text x="582.98" y="153.3" font-family="Liberation Sans" font-size="6.7" font-weight="bold" font-style="normal" text-anchor="middle" fill="#222" dominant-baseline="central"  stroke="#222" stroke-width="0.18">0.4</text>
<text x="606.25" y="153.3" font-family="Liberation Sans" font-size="6.7" font-weight="bold" font-style="normal" text-anchor="middle" fill="#222" dominant-baseline="central"  stroke="#222" stroke-width="0.18">0.5</text>
<text x="629.52" y="153.3" font-family="Liberation Sans" font-size="6.7" font-weight="bold" font-style="normal" text-anchor="middle" fill="#222" dominant-baseline="central"  stroke="#222" stroke-width="0.18">0.6</text>
<text x="652.79" y="153.3" font-family="Liberation Sans" font-size="6.7" font-weight="bold" font-style="normal" text-anchor="middle" fill="#222" dominant-baseline="central"  stroke="#222" stroke-width="0.18">0.7</text>
<text x="487" y="135.6" font-family="Liberation Sans" font-size="6.7" font-weight="bold" font-style="normal" text-anchor="end" fill="#222" dominant-baseline="central"  stroke="#222" stroke-width="0.18">0</text>
<text x="487" y="113.46" font-family="Liberation Sans" font-size="6.7" font-weight="bold" font-style="normal" text-anchor="end" fill="#222" dominant-baseline="central"  stroke="#222" stroke-width="0.18">2</text>
<text x="487" y="91.32" font-family="Liberation Sans" font-size="6.7" font-weight="bold" font-style="normal" text-anchor="end" fill="#222" dominant-baseline="central"  stroke="#222" stroke-width="0.18">4</text>
<text x="487" y="69.18" font-family="Liberation Sans" font-size="6.7" font-weight="bold" font-style="normal" text-anchor="end" fill="#222" dominant-baseline="central"  stroke="#222" stroke-width="0.18">6</text>
<text x="487" y="47.04" font-family="Liberation Sans" font-size="6.7" font-weight="bold" font-style="normal" text-anchor="end" fill="#222" dominant-baseline="central"  stroke="#222" stroke-width="0.18">8</text>
<text x="487" y="24.9" font-family="Liberation Sans" font-size="6.7" font-weight="bold" font-style="normal" text-anchor="end" fill="#222" dominant-baseline="central"  stroke="#222" stroke-width="0.18">10</text>
<text x="572.7" y="161.2" font-family="Liberation Sans" font-size="8.2" font-weight="bold" font-style="normal" text-anchor="middle" fill="#222" dominant-baseline="central"  stroke="#222" stroke-width="0.18">Position (μm)</text>
<text x="473" y="81.8" font-family="Liberation Sans" font-size="8.2" font-weight="bold" font-style="normal" text-anchor="middle" fill="#222" dominant-baseline="central" transform="rotate(-90 473 81.8)" stroke="#222" stroke-width="0.18"><tspan dy="-0">Cumulative </tspan><tspan font-style="italic" dy="0">J</tspan><tspan font-size="5.08" dy="2.3">Re</tspan><tspan dy="-2.3"> (mA/cm</tspan><tspan font-size="5.08" dy="-2.87">2</tspan><tspan dy="2.87">)</tspan></text>
<text x="466" y="15.4" font-family="Liberation Sans" font-size="12" font-weight="normal" font-style="normal" text-anchor="start" fill="#333333" dominant-baseline="central" stroke="#333333" stroke-width="0.4">(c)</text>
<line x1="494.3" y1="120" x2="503.8" y2="120" stroke="#222" stroke-width="0.9" />
<polygon points="506.3,120 502.7,118.4 502.7,121.6" fill="#222"/>
<text x="508.5" y="120" font-family="Liberation Sans" font-size="7" font-weight="bold" fill="#1e2633" dominant-baseline="central">Spiro-TTB/MoO<tspan font-size="4.55" dy="2">3</tspan></text>
<text x="513" y="46.3" font-family="Liberation Sans" font-size="6.7" font-weight="bold" font-style="normal" text-anchor="start" fill="#3aa3d8" dominant-baseline="central" stroke="#3aa3d8" stroke-width="0.18"><tspan font-style="italic" dy="-0">N</tspan><tspan font-size="4.02" dy="1.88">t</tspan><tspan font-size="4.02" dy="-4.22">ETL/PVSK</tspan><tspan dy="2.34"> =3 × 10</tspan><tspan font-size="4.02" dy="-2.34">14</tspan><tspan dy="2.34">cm</tspan><tspan font-size="4.02" dy="-2.34">−2</tspan></text>
<text x="544" y="75.4" font-family="Liberation Sans" font-size="6.8" font-weight="bold" font-style="normal" text-anchor="middle" fill="#222" dominant-baseline="central" transform="rotate(-90 544 75.4)" stroke="#222" stroke-width="0.18"><tspan dy="-0">CsPbI</tspan><tspan font-size="4.22" dy="1.9">2</tspan><tspan dy="-1.9">Br</tspan></text>
<text x="600.6" y="75.4" font-family="Liberation Sans" font-size="6.8" font-weight="bold" font-style="normal" text-anchor="middle" fill="#222" dominant-baseline="central" transform="rotate(-90 600.6 75.4)" stroke="#222" stroke-width="0.18"><tspan dy="-0">SnO</tspan><tspan font-size="4.22" dy="1.9">2</tspan></text>
<text x="630.4" y="120" font-family="Liberation Sans" font-size="6.8" font-weight="bold" font-style="normal" text-anchor="middle" fill="#222" dominant-baseline="central" transform="rotate(-90 630.4 120)"  stroke="#222" stroke-width="0.18">ITO</text>
<text x="630.4" y="28.8" font-family="Liberation Sans" font-size="7" font-weight="bold" font-style="normal" text-anchor="middle" fill="#222" dominant-baseline="central"  stroke="#222" stroke-width="0.18">CBO (eV)</text>
<line x1="613" y1="37.8" x2="628.5" y2="37.8" stroke="#e6d65a" stroke-width="1.8" />
<text x="630.5" y="37.8" font-family="Liberation Sans" font-size="7" font-weight="bold" font-style="normal" text-anchor="start" fill="#222" dominant-baseline="central"  stroke="#222" stroke-width="0.18">−0.5</text>
<line x1="613" y1="46.57" x2="628.5" y2="46.57" stroke="#b9d05c" stroke-width="1.8" />
<text x="630.5" y="46.57" font-family="Liberation Sans" font-size="7" font-weight="bold" font-style="normal" text-anchor="start" fill="#222" dominant-baseline="central"  stroke="#222" stroke-width="0.18">−0.4</text>
<line x1="613" y1="55.34" x2="628.5" y2="55.34" stroke="#76c47e" stroke-width="1.8" />
<text x="630.5" y="55.34" font-family="Liberation Sans" font-size="7" font-weight="bold" font-style="normal" text-anchor="start" fill="#222" dominant-baseline="central"  stroke="#222" stroke-width="0.18">−0.3</text>
<line x1="613" y1="64.11" x2="628.5" y2="64.11" stroke="#62b4a0" stroke-width="1.8" />
<text x="630.5" y="64.11" font-family="Liberation Sans" font-size="7" font-weight="bold" font-style="normal" text-anchor="start" fill="#222" dominant-baseline="central"  stroke="#222" stroke-width="0.18">−0.2</text>
<line x1="613" y1="72.88" x2="628.5" y2="72.88" stroke="#3c8c98" stroke-width="1.8" />
<text x="630.5" y="72.88" font-family="Liberation Sans" font-size="7" font-weight="bold" font-style="normal" text-anchor="start" fill="#222" dominant-baseline="central"  stroke="#222" stroke-width="0.18">−0.1</text>
<line x1="613" y1="81.65" x2="628.5" y2="81.65" stroke="#62809e" stroke-width="1.8" />
<text x="630.5" y="81.65" font-family="Liberation Sans" font-size="7" font-weight="bold" font-style="normal" text-anchor="start" fill="#222" dominant-baseline="central"  stroke="#222" stroke-width="0.18">0</text>
<line x1="613" y1="90.42" x2="628.5" y2="90.42" stroke="#545484" stroke-width="1.8" />
<text x="630.5" y="90.42" font-family="Liberation Sans" font-size="7" font-weight="bold" font-style="normal" text-anchor="start" fill="#222" dominant-baseline="central"  stroke="#222" stroke-width="0.18">+0.1</text>
<line x1="613" y1="99.19" x2="628.5" y2="99.19" stroke="#3a3a4a" stroke-width="1.8" />
<text x="630.5" y="99.19" font-family="Liberation Sans" font-size="7" font-weight="bold" font-style="normal" text-anchor="start" fill="#222" dominant-baseline="central"  stroke="#222" stroke-width="0.18">+0.2</text>
<rect x="70.7" y="181.7" width="165.3" height="133.3" fill="url(#dG)" />
<rect x="73.25" y="304.27" width="15.5" height="10.33" fill="#52addb" />
<rect x="73.25" y="303.84" width="15.5" height="0.43" fill="#e6a866" />
<rect x="73.25" y="302.14" width="15.5" height="1.7" fill="#8592c6" />
<rect x="93.95" y="304.38" width="15.5" height="10.22" fill="#52addb" />
<rect x="93.95" y="303.95" width="15.5" height="0.43" fill="#e6a866" />
<rect x="93.95" y="302.35" width="15.5" height="1.6" fill="#8592c6" />
<rect x="114.65" y="305.02" width="15.5" height="9.58" fill="#52addb" />
<rect x="114.65" y="304.48" width="15.5" height="0.53" fill="#e6a866" />
<rect x="114.65" y="302.89" width="15.5" height="1.6" fill="#8592c6" />
<rect x="135.35" y="305.02" width="15.5" height="9.58" fill="#52addb" />
<rect x="135.35" y="304.8" width="15.5" height="0.21" fill="#6ab47e" />
<rect x="135.35" y="304.27" width="15.5" height="0.53" fill="#e6a866" />
<rect x="135.35" y="302.67" width="15.5" height="1.6" fill="#8592c6" />
<rect x="156.05" y="301.82" width="15.5" height="12.78" fill="#52addb" />
<rect x="156.05" y="301.29" width="15.5" height="0.53" fill="#6ab47e" />
<rect x="156.05" y="300.44" width="15.5" height="0.85" fill="#e6a866" />
<rect x="156.05" y="298.94" width="15.5" height="1.49" fill="#8592c6" />
<rect x="176.75" y="289.04" width="15.5" height="25.56" fill="#52addb" />
<rect x="176.75" y="287.98" width="15.5" height="1.06" fill="#6ab47e" />
<rect x="176.75" y="286.7" width="15.5" height="1.28" fill="#e6a866" />
<rect x="176.75" y="285.42" width="15.5" height="1.28" fill="#8592c6" />
<rect x="197.45" y="288.51" width="15.5" height="26.09" fill="#52addb" />
<rect x="197.45" y="275.2" width="15.5" height="13.31" fill="#6ab47e" />
<rect x="197.45" y="274.66" width="15.5" height="0.53" fill="#e6a866" />
<rect x="197.45" y="273.6" width="15.5" height="1.06" fill="#8592c6" />
<rect x="218.15" y="289.57" width="15.5" height="25.03" fill="#52addb" />
<rect x="218.15" y="200.65" width="15.5" height="88.93" fill="#6ab47e" />
<rect x="218.15" y="200.11" width="15.5" height="0.53" fill="#e6a866" />
<rect x="218.15" y="198.52" width="15.5" height="1.6" fill="#8592c6" />
<rect x="70.7" y="181.7" width="165.3" height="133.3" fill="none" stroke="#3a3a3a" stroke-width="1.3"/>
<line x1="70.7" y1="314.6" x2="72.9" y2="314.6" stroke="#333" stroke-width="0.9" />
<line x1="236" y1="314.6" x2="233.8" y2="314.6" stroke="#333" stroke-width="0.9" />
<line x1="70.7" y1="293.3" x2="72.9" y2="293.3" stroke="#333" stroke-width="0.9" />
<line x1="236" y1="293.3" x2="233.8" y2="293.3" stroke="#333" stroke-width="0.9" />
<line x1="70.7" y1="272" x2="72.9" y2="272" stroke="#333" stroke-width="0.9" />
<line x1="236" y1="272" x2="233.8" y2="272" stroke="#333" stroke-width="0.9" />
<line x1="70.7" y1="250.7" x2="72.9" y2="250.7" stroke="#333" stroke-width="0.9" />
<line x1="236" y1="250.7" x2="233.8" y2="250.7" stroke="#333" stroke-width="0.9" />
<line x1="70.7" y1="229.4" x2="72.9" y2="229.4" stroke="#333" stroke-width="0.9" />
<line x1="236" y1="229.4" x2="233.8" y2="229.4" stroke="#333" stroke-width="0.9" />
<line x1="70.7" y1="208.1" x2="72.9" y2="208.1" stroke="#333" stroke-width="0.9" />
<line x1="236" y1="208.1" x2="233.8" y2="208.1" stroke="#333" stroke-width="0.9" />
<line x1="70.7" y1="186.8" x2="72.9" y2="186.8" stroke="#333" stroke-width="0.9" />
<line x1="236" y1="186.8" x2="233.8" y2="186.8" stroke="#333" stroke-width="0.9" />
<line x1="70.7" y1="303.95" x2="72" y2="303.95" stroke="#333" stroke-width="0.8" />
<line x1="236" y1="303.95" x2="234.7" y2="303.95" stroke="#333" stroke-width="0.8" />
<line x1="70.7" y1="282.65" x2="72" y2="282.65" stroke="#333" stroke-width="0.8" />
<line x1="236" y1="282.65" x2="234.7" y2="282.65" stroke="#333" stroke-width="0.8" />
<line x1="70.7" y1="261.35" x2="72" y2="261.35" stroke="#333" stroke-width="0.8" />
<line x1="236" y1="261.35" x2="234.7" y2="261.35" stroke="#333" stroke-width="0.8" />
<line x1="70.7" y1="240.05" x2="72" y2="240.05" stroke="#333" stroke-width="0.8" />
<line x1="236" y1="240.05" x2="234.7" y2="240.05" stroke="#333" stroke-width="0.8" />
<line x1="70.7" y1="218.75" x2="72" y2="218.75" stroke="#333" stroke-width="0.8" />
<line x1="236" y1="218.75" x2="234.7" y2="218.75" stroke="#333" stroke-width="0.8" />
<line x1="70.7" y1="197.45" x2="72" y2="197.45" stroke="#333" stroke-width="0.8" />
<line x1="236" y1="197.45" x2="234.7" y2="197.45" stroke="#333" stroke-width="0.8" />
<line x1="81" y1="315" x2="81" y2="312.8" stroke="#333" stroke-width="0.9" />
<line x1="81" y1="181.7" x2="81" y2="183.9" stroke="#333" stroke-width="0.9" />
<line x1="101.7" y1="315" x2="101.7" y2="312.8" stroke="#333" stroke-width="0.9" />
<line x1="101.7" y1="181.7" x2="101.7" y2="183.9" stroke="#333" stroke-width="0.9" />
<line x1="122.4" y1="315" x2="122.4" y2="312.8" stroke="#333" stroke-width="0.9" />
<line x1="122.4" y1="181.7" x2="122.4" y2="183.9" stroke="#333" stroke-width="0.9" />
<line x1="143.1" y1="315" x2="143.1" y2="312.8" stroke="#333" stroke-width="0.9" />
<line x1="143.1" y1="181.7" x2="143.1" y2="183.9" stroke="#333" stroke-width="0.9" />
<line x1="163.8" y1="315" x2="163.8" y2="312.8" stroke="#333" stroke-width="0.9" />
<line x1="163.8" y1="181.7" x2="163.8" y2="183.9" stroke="#333" stroke-width="0.9" />
<line x1="184.5" y1="315" x2="184.5" y2="312.8" stroke="#333" stroke-width="0.9" />
<line x1="184.5" y1="181.7" x2="184.5" y2="183.9" stroke="#333" stroke-width="0.9" />
<line x1="205.2" y1="315" x2="205.2" y2="312.8" stroke="#333" stroke-width="0.9" />
<line x1="205.2" y1="181.7" x2="205.2" y2="183.9" stroke="#333" stroke-width="0.9" />
<line x1="225.9" y1="315" x2="225.9" y2="312.8" stroke="#333" stroke-width="0.9" />
<line x1="225.9" y1="181.7" x2="225.9" y2="183.9" stroke="#333" stroke-width="0.9" />
<line x1="91.35" y1="315" x2="91.35" y2="313.7" stroke="#333" stroke-width="0.8" />
<line x1="91.35" y1="181.7" x2="91.35" y2="183" stroke="#333" stroke-width="0.8" />
<line x1="112.05" y1="315" x2="112.05" y2="313.7" stroke="#333" stroke-width="0.8" />
<line x1="112.05" y1="181.7" x2="112.05" y2="183" stroke="#333" stroke-width="0.8" />
<line x1="132.75" y1="315" x2="132.75" y2="313.7" stroke="#333" stroke-width="0.8" />
<line x1="132.75" y1="181.7" x2="132.75" y2="183" stroke="#333" stroke-width="0.8" />
<line x1="153.45" y1="315" x2="153.45" y2="313.7" stroke="#333" stroke-width="0.8" />
<line x1="153.45" y1="181.7" x2="153.45" y2="183" stroke="#333" stroke-width="0.8" />
<line x1="174.15" y1="315" x2="174.15" y2="313.7" stroke="#333" stroke-width="0.8" />
<line x1="174.15" y1="181.7" x2="174.15" y2="183" stroke="#333" stroke-width="0.8" />
<line x1="194.85" y1="315" x2="194.85" y2="313.7" stroke="#333" stroke-width="0.8" />
<line x1="194.85" y1="181.7" x2="194.85" y2="183" stroke="#333" stroke-width="0.8" />
<line x1="215.55" y1="315" x2="215.55" y2="313.7" stroke="#333" stroke-width="0.8" />
<line x1="215.55" y1="181.7" x2="215.55" y2="183" stroke="#333" stroke-width="0.8" />
<text x="81" y="322.7" font-family="Liberation Sans" font-size="6.7" font-weight="bold" font-style="normal" text-anchor="middle" fill="#222" dominant-baseline="central"  stroke="#222" stroke-width="0.18">0.2</text>
<text x="101.7" y="322.7" font-family="Liberation Sans" font-size="6.7" font-weight="bold" font-style="normal" text-anchor="middle" fill="#222" dominant-baseline="central"  stroke="#222" stroke-width="0.18">0.1</text>
<text x="122.4" y="322.7" font-family="Liberation Sans" font-size="6.7" font-weight="bold" font-style="normal" text-anchor="middle" fill="#222" dominant-baseline="central"  stroke="#222" stroke-width="0.18">0</text>
<text x="143.1" y="322.7" font-family="Liberation Sans" font-size="6.7" font-weight="bold" font-style="normal" text-anchor="middle" fill="#222" dominant-baseline="central"  stroke="#222" stroke-width="0.18">−0.1</text>
<text x="163.8" y="322.7" font-family="Liberation Sans" font-size="6.7" font-weight="bold" font-style="normal" text-anchor="middle" fill="#222" dominant-baseline="central"  stroke="#222" stroke-width="0.18">−0.2</text>
<text x="184.5" y="322.7" font-family="Liberation Sans" font-size="6.7" font-weight="bold" font-style="normal" text-anchor="middle" fill="#222" dominant-baseline="central"  stroke="#222" stroke-width="0.18">−0.3</text>
<text x="205.2" y="322.7" font-family="Liberation Sans" font-size="6.7" font-weight="bold" font-style="normal" text-anchor="middle" fill="#222" dominant-baseline="central"  stroke="#222" stroke-width="0.18">−0.4</text>
<text x="225.9" y="322.7" font-family="Liberation Sans" font-size="6.7" font-weight="bold" font-style="normal" text-anchor="middle" fill="#222" dominant-baseline="central"  stroke="#222" stroke-width="0.18">−0.5</text>
<text x="67.5" y="314.6" font-family="Liberation Sans" font-size="6.7" font-weight="bold" font-style="normal" text-anchor="end" fill="#222" dominant-baseline="central"  stroke="#222" stroke-width="0.18">0.0</text>
<text x="67.5" y="293.3" font-family="Liberation Sans" font-size="6.7" font-weight="bold" font-style="normal" text-anchor="end" fill="#222" dominant-baseline="central"  stroke="#222" stroke-width="0.18">0.2</text>
<text x="67.5" y="272" font-family="Liberation Sans" font-size="6.7" font-weight="bold" font-style="normal" text-anchor="end" fill="#222" dominant-baseline="central"  stroke="#222" stroke-width="0.18">0.4</text>
<text x="67.5" y="250.7" font-family="Liberation Sans" font-size="6.7" font-weight="bold" font-style="normal" text-anchor="end" fill="#222" dominant-baseline="central"  stroke="#222" stroke-width="0.18">0.6</text>
<text x="67.5" y="229.4" font-family="Liberation Sans" font-size="6.7" font-weight="bold" font-style="normal" text-anchor="end" fill="#222" dominant-baseline="central"  stroke="#222" stroke-width="0.18">0.8</text>
<text x="67.5" y="208.1" font-family="Liberation Sans" font-size="6.7" font-weight="bold" font-style="normal" text-anchor="end" fill="#222" dominant-baseline="central"  stroke="#222" stroke-width="0.18">1.0</text>
<text x="67.5" y="186.8" font-family="Liberation Sans" font-size="6.7" font-weight="bold" font-style="normal" text-anchor="end" fill="#222" dominant-baseline="central"  stroke="#222" stroke-width="0.18">1.2</text>
<text x="153.4" y="332" font-family="Liberation Sans" font-size="8.2" font-weight="bold" font-style="normal" text-anchor="middle" fill="#222" dominant-baseline="central"  stroke="#222" stroke-width="0.18">CBO (eV)</text>
<text x="51.8" y="248.4" font-family="Liberation Sans" font-size="8.2" font-weight="bold" font-style="normal" text-anchor="middle" fill="#222" dominant-baseline="central" transform="rotate(-90 51.8 248.4)" stroke="#222" stroke-width="0.18"><tspan dy="-0">Cumulative </tspan><tspan font-style="italic" dy="0">J</tspan><tspan font-size="5.08" dy="2.3">Re</tspan><tspan dy="-2.3"> (mA/cm</tspan><tspan font-size="5.08" dy="-2.87">2</tspan><tspan dy="2.87">)</tspan></text>
<text x="41.5" y="185" font-family="Liberation Sans" font-size="12" font-weight="normal" font-style="normal" text-anchor="start" fill="#333333" dominant-baseline="central" stroke="#333333" stroke-width="0.4">(d)</text>
<text x="133.9" y="195.7" font-family="Liberation Sans" font-size="6.7" font-weight="bold" font-style="normal" text-anchor="start" fill="#d2444f" dominant-baseline="central" stroke="#d2444f" stroke-width="0.18"><tspan font-style="italic" dy="-0">N</tspan><tspan font-size="4.02" dy="1.88">t</tspan><tspan font-size="4.02" dy="-4.22">ETL/PVSK</tspan><tspan dy="2.34"> =1 × 10</tspan><tspan font-size="4.02" dy="-2.34">10</tspan><tspan dy="2.34">cm</tspan><tspan font-size="4.02" dy="-2.34">−2</tspan></text>
<rect x="82.1" y="201" width="15" height="7.2" fill="#8592c6" />
<text x="99.5" y="204.6" font-family="Liberation Sans" font-size="7.4" font-weight="bold" font-style="normal" text-anchor="start" fill="#222" dominant-baseline="central"  stroke="#222" stroke-width="0.18">Other</text>
<rect x="82.1" y="209.7" width="15" height="7.2" fill="#e6a866" />
<text x="99.5" y="213.3" font-family="Liberation Sans" font-size="7.4" font-weight="bold" font-style="normal" text-anchor="start" fill="#222" dominant-baseline="central"  stroke="#222" stroke-width="0.18">ETL</text>
<rect x="82.1" y="218.4" width="15" height="7.2" fill="#6ab47e" />
<text x="99.5" y="222" font-family="Liberation Sans" font-size="7.4" font-weight="bold" font-style="normal" text-anchor="start" fill="#222" dominant-baseline="central"  stroke="#222" stroke-width="0.18">ETL/PVSK</text>
<rect x="82.1" y="227.1" width="15" height="7.2" fill="#d6707f" />
<text x="99.5" y="230.7" font-family="Liberation Sans" font-size="7.4" font-weight="bold" font-style="normal" text-anchor="start" fill="#222" dominant-baseline="central"  stroke="#222" stroke-width="0.18">HTL/PVSK</text>
<rect x="82.1" y="235.8" width="15" height="7.2" fill="#52addb" />
<text x="99.5" y="239.4" font-family="Liberation Sans" font-size="7.4" font-weight="bold" font-style="normal" text-anchor="start" fill="#222" dominant-baseline="central"  stroke="#222" stroke-width="0.18">Bulk</text>
<rect x="281.7" y="181" width="166.8" height="134.4" fill="url(#eG)" />
<rect x="285.8" y="313.14" width="15.4" height="1.46" fill="#6ab47e" />
<rect x="285.8" y="313.38" width="15.4" height="1.22" fill="#52addb" />
<rect x="306.4" y="313.14" width="15.4" height="1.46" fill="#6ab47e" />
<rect x="306.4" y="313.38" width="15.4" height="1.22" fill="#52addb" />
<rect x="327" y="313.14" width="15.4" height="1.46" fill="#6ab47e" />
<rect x="327" y="313.38" width="15.4" height="1.22" fill="#52addb" />
<rect x="347.6" y="310.82" width="15.4" height="3.78" fill="#6ab47e" />
<rect x="347.6" y="313.38" width="15.4" height="1.22" fill="#52addb" />
<rect x="368.2" y="274.41" width="15.4" height="40.19" fill="#6ab47e" />
<rect x="368.2" y="313.38" width="15.4" height="1.22" fill="#52addb" />
<rect x="388.8" y="205.59" width="15.4" height="109.01" fill="#6ab47e" />
<rect x="388.8" y="313.38" width="15.4" height="1.22" fill="#52addb" />
<rect x="409.4" y="194.87" width="15.4" height="119.73" fill="#6ab47e" />
<rect x="409.4" y="313.38" width="15.4" height="1.22" fill="#52addb" />
<rect x="430" y="192.31" width="15.4" height="122.29" fill="#6ab47e" />
<rect x="430" y="313.38" width="15.4" height="1.22" fill="#52addb" />
<rect x="281.7" y="181" width="166.8" height="134.4" fill="none" stroke="#3a3a3a" stroke-width="1.3"/>
<line x1="281.7" y1="314.6" x2="283.9" y2="314.6" stroke="#333" stroke-width="0.9" />
<line x1="448.5" y1="314.6" x2="446.3" y2="314.6" stroke="#333" stroke-width="0.9" />
<line x1="281.7" y1="290.24" x2="283.9" y2="290.24" stroke="#333" stroke-width="0.9" />
<line x1="448.5" y1="290.24" x2="446.3" y2="290.24" stroke="#333" stroke-width="0.9" />
<line x1="281.7" y1="265.88" x2="283.9" y2="265.88" stroke="#333" stroke-width="0.9" />
<line x1="448.5" y1="265.88" x2="446.3" y2="265.88" stroke="#333" stroke-width="0.9" />
<line x1="281.7" y1="241.52" x2="283.9" y2="241.52" stroke="#333" stroke-width="0.9" />
<line x1="448.5" y1="241.52" x2="446.3" y2="241.52" stroke="#333" stroke-width="0.9" />
<line x1="281.7" y1="217.16" x2="283.9" y2="217.16" stroke="#333" stroke-width="0.9" />
<line x1="448.5" y1="217.16" x2="446.3" y2="217.16" stroke="#333" stroke-width="0.9" />
<line x1="281.7" y1="192.8" x2="283.9" y2="192.8" stroke="#333" stroke-width="0.9" />
<line x1="448.5" y1="192.8" x2="446.3" y2="192.8" stroke="#333" stroke-width="0.9" />
<line x1="281.7" y1="302.42" x2="283" y2="302.42" stroke="#333" stroke-width="0.8" />
<line x1="448.5" y1="302.42" x2="447.2" y2="302.42" stroke="#333" stroke-width="0.8" />
<line x1="281.7" y1="278.06" x2="283" y2="278.06" stroke="#333" stroke-width="0.8" />
<line x1="448.5" y1="278.06" x2="447.2" y2="278.06" stroke="#333" stroke-width="0.8" />
<line x1="281.7" y1="253.7" x2="283" y2="253.7" stroke="#333" stroke-width="0.8" />
<line x1="448.5" y1="253.7" x2="447.2" y2="253.7" stroke="#333" stroke-width="0.8" />
<line x1="281.7" y1="229.34" x2="283" y2="229.34" stroke="#333" stroke-width="0.8" />
<line x1="448.5" y1="229.34" x2="447.2" y2="229.34" stroke="#333" stroke-width="0.8" />
<line x1="281.7" y1="204.98" x2="283" y2="204.98" stroke="#333" stroke-width="0.8" />
<line x1="448.5" y1="204.98" x2="447.2" y2="204.98" stroke="#333" stroke-width="0.8" />
<line x1="293.5" y1="315.4" x2="293.5" y2="313.2" stroke="#333" stroke-width="0.9" />
<line x1="293.5" y1="181" x2="293.5" y2="183.2" stroke="#333" stroke-width="0.9" />
<line x1="314.1" y1="315.4" x2="314.1" y2="313.2" stroke="#333" stroke-width="0.9" />
<line x1="314.1" y1="181" x2="314.1" y2="183.2" stroke="#333" stroke-width="0.9" />
<line x1="334.7" y1="315.4" x2="334.7" y2="313.2" stroke="#333" stroke-width="0.9" />
<line x1="334.7" y1="181" x2="334.7" y2="183.2" stroke="#333" stroke-width="0.9" />
<line x1="355.3" y1="315.4" x2="355.3" y2="313.2" stroke="#333" stroke-width="0.9" />
<line x1="355.3" y1="181" x2="355.3" y2="183.2" stroke="#333" stroke-width="0.9" />
<line x1="375.9" y1="315.4" x2="375.9" y2="313.2" stroke="#333" stroke-width="0.9" />
<line x1="375.9" y1="181" x2="375.9" y2="183.2" stroke="#333" stroke-width="0.9" />
<line x1="396.5" y1="315.4" x2="396.5" y2="313.2" stroke="#333" stroke-width="0.9" />
<line x1="396.5" y1="181" x2="396.5" y2="183.2" stroke="#333" stroke-width="0.9" />
<line x1="417.1" y1="315.4" x2="417.1" y2="313.2" stroke="#333" stroke-width="0.9" />
<line x1="417.1" y1="181" x2="417.1" y2="183.2" stroke="#333" stroke-width="0.9" />
<line x1="437.7" y1="315.4" x2="437.7" y2="313.2" stroke="#333" stroke-width="0.9" />
<line x1="437.7" y1="181" x2="437.7" y2="183.2" stroke="#333" stroke-width="0.9" />
<line x1="303.8" y1="315.4" x2="303.8" y2="314.1" stroke="#333" stroke-width="0.8" />
<line x1="303.8" y1="181" x2="303.8" y2="182.3" stroke="#333" stroke-width="0.8" />
<line x1="324.4" y1="315.4" x2="324.4" y2="314.1" stroke="#333" stroke-width="0.8" />
<line x1="324.4" y1="181" x2="324.4" y2="182.3" stroke="#333" stroke-width="0.8" />
<line x1="345" y1="315.4" x2="345" y2="314.1" stroke="#333" stroke-width="0.8" />
<line x1="345" y1="181" x2="345" y2="182.3" stroke="#333" stroke-width="0.8" />
<line x1="365.6" y1="315.4" x2="365.6" y2="314.1" stroke="#333" stroke-width="0.8" />
<line x1="365.6" y1="181" x2="365.6" y2="182.3" stroke="#333" stroke-width="0.8" />
<line x1="386.2" y1="315.4" x2="386.2" y2="314.1" stroke="#333" stroke-width="0.8" />
<line x1="386.2" y1="181" x2="386.2" y2="182.3" stroke="#333" stroke-width="0.8" />
<line x1="406.8" y1="315.4" x2="406.8" y2="314.1" stroke="#333" stroke-width="0.8" />
<line x1="406.8" y1="181" x2="406.8" y2="182.3" stroke="#333" stroke-width="0.8" />
<line x1="427.4" y1="315.4" x2="427.4" y2="314.1" stroke="#333" stroke-width="0.8" />
<line x1="427.4" y1="181" x2="427.4" y2="182.3" stroke="#333" stroke-width="0.8" />
<text x="293.5" y="323" font-family="Liberation Sans" font-size="6.7" font-weight="bold" font-style="normal" text-anchor="middle" fill="#222" dominant-baseline="central"  stroke="#222" stroke-width="0.18">0.2</text>
<text x="314.1" y="323" font-family="Liberation Sans" font-size="6.7" font-weight="bold" font-style="normal" text-anchor="middle" fill="#222" dominant-baseline="central"  stroke="#222" stroke-width="0.18">0.1</text>
<text x="334.7" y="323" font-family="Liberation Sans" font-size="6.7" font-weight="bold" font-style="normal" text-anchor="middle" fill="#222" dominant-baseline="central"  stroke="#222" stroke-width="0.18">0</text>
<text x="355.3" y="323" font-family="Liberation Sans" font-size="6.7" font-weight="bold" font-style="normal" text-anchor="middle" fill="#222" dominant-baseline="central"  stroke="#222" stroke-width="0.18">−0.1</text>
<text x="375.9" y="323" font-family="Liberation Sans" font-size="6.7" font-weight="bold" font-style="normal" text-anchor="middle" fill="#222" dominant-baseline="central"  stroke="#222" stroke-width="0.18">−0.2</text>
<text x="396.5" y="323" font-family="Liberation Sans" font-size="6.7" font-weight="bold" font-style="normal" text-anchor="middle" fill="#222" dominant-baseline="central"  stroke="#222" stroke-width="0.18">−0.3</text>
<text x="417.1" y="323" font-family="Liberation Sans" font-size="6.7" font-weight="bold" font-style="normal" text-anchor="middle" fill="#222" dominant-baseline="central"  stroke="#222" stroke-width="0.18">−0.4</text>
<text x="437.7" y="323" font-family="Liberation Sans" font-size="6.7" font-weight="bold" font-style="normal" text-anchor="middle" fill="#222" dominant-baseline="central"  stroke="#222" stroke-width="0.18">−0.5</text>
<text x="278.3" y="314.6" font-family="Liberation Sans" font-size="6.7" font-weight="bold" font-style="normal" text-anchor="end" fill="#222" dominant-baseline="central"  stroke="#222" stroke-width="0.18">0</text>
<text x="278.3" y="290.24" font-family="Liberation Sans" font-size="6.7" font-weight="bold" font-style="normal" text-anchor="end" fill="#222" dominant-baseline="central"  stroke="#222" stroke-width="0.18">2</text>
<text x="278.3" y="265.88" font-family="Liberation Sans" font-size="6.7" font-weight="bold" font-style="normal" text-anchor="end" fill="#222" dominant-baseline="central"  stroke="#222" stroke-width="0.18">4</text>
<text x="278.3" y="241.52" font-family="Liberation Sans" font-size="6.7" font-weight="bold" font-style="normal" text-anchor="end" fill="#222" dominant-baseline="central"  stroke="#222" stroke-width="0.18">6</text>
<text x="278.3" y="217.16" font-family="Liberation Sans" font-size="6.7" font-weight="bold" font-style="normal" text-anchor="end" fill="#222" dominant-baseline="central"  stroke="#222" stroke-width="0.18">8</text>
<text x="278.3" y="192.8" font-family="Liberation Sans" font-size="6.7" font-weight="bold" font-style="normal" text-anchor="end" fill="#222" dominant-baseline="central"  stroke="#222" stroke-width="0.18">10</text>
<text x="356.8" y="332.2" font-family="Liberation Sans" font-size="8.2" font-weight="bold" font-style="normal" text-anchor="middle" fill="#222" dominant-baseline="central"  stroke="#222" stroke-width="0.18">CBO (eV)</text>
<text x="264.1" y="249" font-family="Liberation Sans" font-size="8.2" font-weight="bold" font-style="normal" text-anchor="middle" fill="#222" dominant-baseline="central" transform="rotate(-90 264.1 249)" stroke="#222" stroke-width="0.18"><tspan dy="-0">Cumulative </tspan><tspan font-style="italic" dy="0">J</tspan><tspan font-size="5.08" dy="2.3">Re</tspan><tspan dy="-2.3"> (mA/cm</tspan><tspan font-size="5.08" dy="-2.87">2</tspan><tspan dy="2.87">)</tspan></text>
<text x="255.5" y="183.8" font-family="Liberation Sans" font-size="12" font-weight="normal" font-style="normal" text-anchor="start" fill="#333333" dominant-baseline="central" stroke="#333333" stroke-width="0.4">(e)</text>
<text x="323.6" y="192.8" font-family="Liberation Sans" font-size="6.7" font-weight="bold" font-style="normal" text-anchor="start" fill="#3aa3d8" dominant-baseline="central" stroke="#3aa3d8" stroke-width="0.18"><tspan font-style="italic" dy="-0">N</tspan><tspan font-size="4.02" dy="1.88">t</tspan><tspan font-size="4.02" dy="-4.22">ETL/PVSK</tspan><tspan dy="2.34"> =3 × 10</tspan><tspan font-size="4.02" dy="-2.34">14</tspan><tspan dy="2.34">cm</tspan><tspan font-size="4.02" dy="-2.34">−2</tspan></text>
<rect x="289" y="210.5" width="15.4" height="7.2" fill="#8592c6" />
<text x="307" y="214.1" font-family="Liberation Sans" font-size="7.4" font-weight="bold" font-style="normal" text-anchor="start" fill="#222" dominant-baseline="central"  stroke="#222" stroke-width="0.18">Other</text>
<rect x="289" y="219.4" width="15.4" height="7.2" fill="#e6a866" />
<text x="307" y="223" font-family="Liberation Sans" font-size="7.4" font-weight="bold" font-style="normal" text-anchor="start" fill="#222" dominant-baseline="central"  stroke="#222" stroke-width="0.18">ETL</text>
<rect x="289" y="228.3" width="15.4" height="7.2" fill="#6ab47e" />
<text x="307" y="231.9" font-family="Liberation Sans" font-size="7.4" font-weight="bold" font-style="normal" text-anchor="start" fill="#222" dominant-baseline="central"  stroke="#222" stroke-width="0.18">ETL/PVSK</text>
<rect x="289" y="237.2" width="15.4" height="7.2" fill="#d6707f" />
<text x="307" y="240.8" font-family="Liberation Sans" font-size="7.4" font-weight="bold" font-style="normal" text-anchor="start" fill="#222" dominant-baseline="central"  stroke="#222" stroke-width="0.18">HTL/PVSK</text>
<rect x="289" y="246.1" width="15.4" height="7.2" fill="#52addb" />
<text x="307" y="249.7" font-family="Liberation Sans" font-size="7.4" font-weight="bold" font-style="normal" text-anchor="start" fill="#222" dominant-baseline="central"  stroke="#222" stroke-width="0.18">Bulk</text>
<rect x="487.4" y="180.8" width="6.53" height="135.1" fill="url(#pinkG)" />
<rect x="493.93" y="180.8" width="95.08" height="135.1" fill="url(#pvG)" />
<rect x="589.01" y="180.8" width="19.02" height="135.1" fill="url(#snG)" />
<rect x="608.03" y="180.8" width="47.17" height="135.1" fill="url(#itoG)" />
<line x1="493.93" y1="180.8" x2="493.93" y2="315.9" stroke="#6a7890" stroke-width="0.6" stroke-dasharray="1,1" />
<line x1="589.01" y1="180.8" x2="589.01" y2="315.9" stroke="#6a7890" stroke-width="0.6" stroke-dasharray="1,1" />
<line x1="608.03" y1="180.8" x2="608.03" y2="315.9" stroke="#6a7890" stroke-width="0.6" stroke-dasharray="1,1" />
<polyline points="488,198.8 488.6,192.73 492.98,192.73 493.93,196.55 493.93,221.3" fill="none" stroke="#c0303c" stroke-width="1" stroke-linejoin="round" />
<line x1="493.93" y1="221.3" x2="608.03" y2="221.3" stroke="#b83a44" stroke-width="1.3" />
<line x1="608.03" y1="221.08" x2="655.2" y2="221.08" stroke="#cdd9e0" stroke-width="1.1" />
<line x1="608.03" y1="222.2" x2="655.2" y2="222.2" stroke="#f0dcc0" stroke-width="1.1" />
<line x1="608.03" y1="223.33" x2="655.2" y2="223.33" stroke="#e6b890" stroke-width="1.1" />
<line x1="608.03" y1="224.45" x2="655.2" y2="224.45" stroke="#f0d8c0" stroke-width="1.1" />
<line x1="608.03" y1="225.35" x2="655.2" y2="225.35" stroke="#c87060" stroke-width="1.1" />
<line x1="608.03" y1="226.48" x2="655.2" y2="226.48" stroke="#f0d0b0" stroke-width="1.1" />
<line x1="608.03" y1="227.6" x2="655.2" y2="227.6" stroke="#b85858" stroke-width="1.1" />
<line x1="493.93" y1="248.3" x2="655.2" y2="248.3" stroke="#6c7480" stroke-width="0.7" stroke-dasharray="3,2" />
<line x1="589.01" y1="253.93" x2="655.2" y2="253.93" stroke="#6c7480" stroke-width="0.7" stroke-dasharray="3,2" />
<polyline points="493.93,248.3 496.31,250.01 498.69,251.21 501.06,252.04 503.44,252.61 505.82,253.01 508.19,253.29 510.57,253.48 512.95,253.62 515.32,253.71 517.7,253.78 520.08,253.82 522.46,253.85 524.83,253.88 527.21,253.89 529.59,253.9 531.96,253.91 534.34,253.91 536.72,253.92 539.09,253.92 541.47,253.92 543.85,253.92 546.23,253.92 548.6,253.92 550.98,253.92 553.36,253.92 555.73,253.92 558.11,253.92 560.49,253.92 562.86,253.92 565.24,253.92 567.62,253.92 570,253.92 572.37,253.92 574.75,253.92 577.13,253.92 579.5,253.92 581.88,253.92 584.26,253.92 586.63,253.92 589.01,253.92" fill="none" stroke="#3d6c9e" stroke-width="1.1" stroke-dasharray="3,1.8" stroke-linejoin="round" />
<polyline points="493.93,248.3 496.31,250.01 498.69,251.21 501.06,252.04 503.44,252.61 505.82,253.01 508.19,253.29 510.57,253.48 512.95,253.62 515.32,253.71 517.7,253.78 520.08,253.82 522.46,253.85 524.83,253.88 527.21,253.89 529.59,253.9 531.96,253.91 534.34,253.91 536.72,253.92 539.09,253.92 541.47,253.92 543.85,253.92 546.23,253.92 548.6,253.92 550.98,253.92 553.36,253.92 555.73,253.92 558.11,253.92 560.49,253.92 562.86,253.92 565.24,253.92 567.62,253.92 570,253.92 572.37,253.92 574.75,253.92 577.13,253.92 579.5,253.92 581.88,253.92 584.26,253.92 586.63,253.92 589.01,253.92" fill="none" stroke="#6a9fcb" stroke-width="1.1" stroke-dasharray="3,1.8" stroke-linejoin="round" />
<polyline points="493.93,248.3 496.31,250.01 498.69,251.21 501.06,252.04 503.44,252.61 505.82,253.01 508.19,253.29 510.57,253.48 512.95,253.62 515.32,253.71 517.7,253.78 520.08,253.82 522.46,253.85 524.83,253.88 527.21,253.89 529.59,253.9 531.96,253.91 534.34,253.91 536.72,253.92 539.09,253.92 541.47,253.92 543.85,253.92 546.23,253.92 548.6,253.92 550.98,253.92 553.36,253.92 555.73,253.92 558.11,253.92 560.49,253.92 562.86,253.92 565.24,253.92 567.62,253.92 570,253.92 572.37,253.92 574.75,253.92 577.13,253.92 579.5,253.92 581.88,253.92 584.26,253.92 586.63,253.92 589.01,253.92" fill="none" stroke="#a4cbe0" stroke-width="1.1" stroke-dasharray="3,1.8" stroke-linejoin="round" />
<polyline points="493.93,248.3 496.31,250.01 498.69,251.21 501.06,252.04 503.44,252.61 505.82,253.01 508.19,253.29 510.57,253.48 512.95,253.62 515.32,253.71 517.7,253.78 520.08,253.82 522.46,253.85 524.83,253.88 527.21,253.89 529.59,253.9 531.96,253.91 534.34,253.91 536.72,253.92 539.09,253.92 541.47,253.92 543.85,253.92 546.23,253.92 548.6,253.92 550.98,253.92 553.36,253.92 555.73,253.92 558.11,253.92 560.49,253.92 562.86,253.92 565.24,253.92 567.62,253.92 570,253.92 572.37,253.92 574.75,253.92 577.13,253.92 579.5,253.92 581.88,253.92 584.26,253.92 586.63,253.92 589.01,253.92" fill="none" stroke="#dce7ef" stroke-width="1.1" stroke-dasharray="3,1.8" stroke-linejoin="round" />
<polyline points="493.93,248.3 496.31,250.01 498.69,251.21 501.06,252.04 503.44,252.61 505.82,253.01 508.19,253.29 510.57,253.48 512.95,253.62 515.32,253.71 517.7,253.78 520.08,253.82 522.46,253.85 524.83,253.88 527.21,253.89 529.59,253.9 531.96,253.91 534.34,253.91 536.72,253.92 539.09,253.92 541.47,253.92 543.85,253.92 546.23,253.92 548.6,253.92 550.98,253.92 553.36,253.92 555.73,253.92 558.11,253.92 560.49,253.92 562.86,253.92 565.24,253.92 567.62,253.92 570,253.92 572.37,253.92 574.75,253.92 577.13,253.92 579.5,253.92 581.88,253.92 584.26,253.92 586.63,253.92 589.01,253.92" fill="none" stroke="#f2e9e4" stroke-width="1.1" stroke-dasharray="3,1.8" stroke-linejoin="round" />
<polyline points="493.93,248.3 496.31,250.01 498.69,251.21 501.06,252.04 503.44,252.61 505.82,253.01 508.19,253.29 510.57,253.48 512.95,253.62 515.32,253.71 517.7,253.78 520.08,253.82 522.46,253.85 524.83,253.88 527.21,253.89 529.59,253.9 531.96,253.91 534.34,253.91 536.72,253.92 539.09,253.92 541.47,253.92 543.85,253.92 546.23,253.92 548.6,253.92 550.98,253.92 553.36,253.92 555.73,253.92 558.11,253.92 560.49,253.92 562.86,253.92 565.24,253.92 567.62,253.92 570,253.92 572.37,253.92 574.75,253.92 577.13,253.92 579.5,253.92 581.88,253.92 584.26,253.92 586.63,253.92 589.01,253.92" fill="none" stroke="#ecc0b2" stroke-width="1.1" stroke-dasharray="3,1.8" stroke-linejoin="round" />
<polyline points="493.93,248.3 496.31,250.01 498.69,251.21 501.06,252.04 503.44,252.61 505.82,253.01 508.19,253.29 510.57,253.48 512.95,253.62 515.32,253.71 517.7,253.78 520.08,253.82 522.46,253.85 524.83,253.88 527.21,253.89 529.59,253.9 531.96,253.91 534.34,253.91 536.72,253.92 539.09,253.92 541.47,253.92 543.85,253.92 546.23,253.92 548.6,253.92 550.98,253.92 553.36,253.92 555.73,253.92 558.11,253.92 560.49,253.92 562.86,253.92 565.24,253.92 567.62,253.92 570,253.92 572.37,253.92 574.75,253.92 577.13,253.92 579.5,253.92 581.88,253.92 584.26,253.92 586.63,253.92 589.01,253.92" fill="none" stroke="#d9746a" stroke-width="1.1" stroke-dasharray="3,1.8" stroke-linejoin="round" />
<polyline points="493.93,248.3 496.31,250.01 498.69,251.21 501.06,252.04 503.44,252.61 505.82,253.01 508.19,253.29 510.57,253.48 512.95,253.62 515.32,253.71 517.7,253.78 520.08,253.82 522.46,253.85 524.83,253.88 527.21,253.89 529.59,253.9 531.96,253.91 534.34,253.91 536.72,253.92 539.09,253.92 541.47,253.92 543.85,253.92 546.23,253.92 548.6,253.92 550.98,253.92 553.36,253.92 555.73,253.92 558.11,253.92 560.49,253.92 562.86,253.92 565.24,253.92 567.62,253.92 570,253.92 572.37,253.92 574.75,253.92 577.13,253.92 579.5,253.92 581.88,253.92 584.26,253.92 586.63,253.92 589.01,253.92" fill="none" stroke="#b04a4c" stroke-width="1.1" stroke-dasharray="3,1.8" stroke-linejoin="round" />
<polyline points="589.01,291.05 608.03,290.15" fill="none" stroke="#3d6c9e" stroke-width="1.1" stroke-dasharray="3,1.8" stroke-linejoin="round" stroke-dashoffset="0" stroke-opacity="0.7"/>
<polyline points="608.03,293.3 655.2,292.18" fill="none" stroke="#3d6c9e" stroke-width="1.1" stroke-dasharray="3.2,2.2" stroke-linejoin="round" stroke-dashoffset="0" stroke-opacity="0.7"/>
<polyline points="589.01,290.47 608.03,289.57" fill="none" stroke="#6a9fcb" stroke-width="1.1" stroke-dasharray="3,1.8" stroke-linejoin="round" stroke-dashoffset="0.31" stroke-opacity="0.7"/>
<polyline points="608.03,294.26 655.2,293.14" fill="none" stroke="#6a9fcb" stroke-width="1.1" stroke-dasharray="3.2,2.2" stroke-linejoin="round" stroke-dashoffset="0.34" stroke-opacity="0.7"/>
<polyline points="589.01,289.89 608.03,288.99" fill="none" stroke="#a4cbe0" stroke-width="1.1" stroke-dasharray="3,1.8" stroke-linejoin="round" stroke-dashoffset="0.63" stroke-opacity="0.7"/>
<polyline points="608.03,295.23 655.2,294.1" fill="none" stroke="#a4cbe0" stroke-width="1.1" stroke-dasharray="3.2,2.2" stroke-linejoin="round" stroke-dashoffset="0.69" stroke-opacity="0.7"/>
<polyline points="589.01,289.31 608.03,288.41" fill="none" stroke="#dce7ef" stroke-width="1.1" stroke-dasharray="3,1.8" stroke-linejoin="round" stroke-dashoffset="0.94" stroke-opacity="0.7"/>
<polyline points="608.03,296.19 655.2,295.07" fill="none" stroke="#dce7ef" stroke-width="1.1" stroke-dasharray="3.2,2.2" stroke-linejoin="round" stroke-dashoffset="1.03" stroke-opacity="0.7"/>
<polyline points="589.01,288.74 608.03,287.84" fill="none" stroke="#f2e9e4" stroke-width="1.1" stroke-dasharray="3,1.8" stroke-linejoin="round" stroke-dashoffset="1.26" stroke-opacity="1"/>
<polyline points="608.03,297.16 655.2,296.03" fill="none" stroke="#f2e9e4" stroke-width="1.1" stroke-dasharray="3.2,2.2" stroke-linejoin="round" stroke-dashoffset="1.37" stroke-opacity="1"/>
<polyline points="589.01,288.16 608.03,287.26" fill="none" stroke="#ecc0b2" stroke-width="1.1" stroke-dasharray="3,1.8" stroke-linejoin="round" stroke-dashoffset="1.57" stroke-opacity="1"/>
<polyline points="608.03,298.12 655.2,297" fill="none" stroke="#ecc0b2" stroke-width="1.1" stroke-dasharray="3.2,2.2" stroke-linejoin="round" stroke-dashoffset="1.71" stroke-opacity="1"/>
<polyline points="589.01,287.58 608.03,286.68" fill="none" stroke="#d9746a" stroke-width="1.1" stroke-dasharray="3,1.8" stroke-linejoin="round" stroke-dashoffset="1.89" stroke-opacity="1"/>
<polyline points="608.03,299.09 655.2,297.96" fill="none" stroke="#d9746a" stroke-width="1.1" stroke-dasharray="3.2,2.2" stroke-linejoin="round" stroke-dashoffset="2.06" stroke-opacity="1"/>
<polyline points="589.01,287 608.03,286.1" fill="none" stroke="#b04a4c" stroke-width="1.1" stroke-dasharray="3,1.8" stroke-linejoin="round" stroke-dashoffset="2.2" stroke-opacity="1"/>
<polyline points="608.03,300.05 655.2,298.93" fill="none" stroke="#b04a4c" stroke-width="1.1" stroke-dasharray="3.2,2.2" stroke-linejoin="round" stroke-dashoffset="2.4" stroke-opacity="1"/>
<line x1="589.01" y1="253.93" x2="589.01" y2="286.55" stroke="#d05050" stroke-width="0.8" stroke-dasharray="3,1.5" />
<line x1="578.31" y1="222.8" x2="578.31" y2="252.43" stroke="#333" stroke-width="0.6" />
<polygon points="578.31,221.3 577.31,223.5 579.31,223.5" fill="#333"/>
<polygon points="578.31,253.93 577.31,251.73 579.31,251.73" fill="#333"/>
<line x1="613.26" y1="222.8" x2="613.26" y2="226.1" stroke="#333" stroke-width="0.6" />
<polygon points="613.26,221.3 612.26,223.5 614.26,223.5" fill="#333"/>
<polygon points="613.26,227.6 612.26,225.4 614.26,225.4" fill="#333"/>
<line x1="613.26" y1="229.1" x2="613.26" y2="246.8" stroke="#333" stroke-width="0.6" />
<polygon points="613.26,227.6 612.26,229.8 614.26,229.8" fill="#333"/>
<polygon points="613.26,248.3 612.26,246.1 614.26,246.1" fill="#333"/>
<line x1="613.26" y1="249.8" x2="613.26" y2="252.43" stroke="#333" stroke-width="0.6" />
<polygon points="613.26,248.3 612.26,250.5 614.26,250.5" fill="#333"/>
<polygon points="613.26,253.93 612.26,251.73 614.26,251.73" fill="#333"/>
<rect x="487.4" y="180.8" width="167.8" height="135.1" fill="none" stroke="#3a3a3a" stroke-width="1.3"/>
<line x1="486.8" y1="315.9" x2="486.8" y2="313.7" stroke="#333" stroke-width="0.9" />
<line x1="486.8" y1="180.8" x2="486.8" y2="183" stroke="#333" stroke-width="0.9" />
<line x1="510.57" y1="315.9" x2="510.57" y2="313.7" stroke="#333" stroke-width="0.9" />
<line x1="510.57" y1="180.8" x2="510.57" y2="183" stroke="#333" stroke-width="0.9" />
<line x1="534.34" y1="315.9" x2="534.34" y2="313.7" stroke="#333" stroke-width="0.9" />
<line x1="534.34" y1="180.8" x2="534.34" y2="183" stroke="#333" stroke-width="0.9" />
<line x1="558.11" y1="315.9" x2="558.11" y2="313.7" stroke="#333" stroke-width="0.9" />
<line x1="558.11" y1="180.8" x2="558.11" y2="183" stroke="#333" stroke-width="0.9" />
<line x1="581.88" y1="315.9" x2="581.88" y2="313.7" stroke="#333" stroke-width="0.9" />
<line x1="581.88" y1="180.8" x2="581.88" y2="183" stroke="#333" stroke-width="0.9" />
<line x1="605.65" y1="315.9" x2="605.65" y2="313.7" stroke="#333" stroke-width="0.9" />
<line x1="605.65" y1="180.8" x2="605.65" y2="183" stroke="#333" stroke-width="0.9" />
<line x1="629.42" y1="315.9" x2="629.42" y2="313.7" stroke="#333" stroke-width="0.9" />
<line x1="629.42" y1="180.8" x2="629.42" y2="183" stroke="#333" stroke-width="0.9" />
<line x1="653.19" y1="315.9" x2="653.19" y2="313.7" stroke="#333" stroke-width="0.9" />
<line x1="653.19" y1="180.8" x2="653.19" y2="183" stroke="#333" stroke-width="0.9" />
<line x1="498.69" y1="315.9" x2="498.69" y2="314.6" stroke="#333" stroke-width="0.8" />
<line x1="498.69" y1="180.8" x2="498.69" y2="182.1" stroke="#333" stroke-width="0.8" />
<line x1="522.46" y1="315.9" x2="522.46" y2="314.6" stroke="#333" stroke-width="0.8" />
<line x1="522.46" y1="180.8" x2="522.46" y2="182.1" stroke="#333" stroke-width="0.8" />
<line x1="546.23" y1="315.9" x2="546.23" y2="314.6" stroke="#333" stroke-width="0.8" />
<line x1="546.23" y1="180.8" x2="546.23" y2="182.1" stroke="#333" stroke-width="0.8" />
<line x1="570" y1="315.9" x2="570" y2="314.6" stroke="#333" stroke-width="0.8" />
<line x1="570" y1="180.8" x2="570" y2="182.1" stroke="#333" stroke-width="0.8" />
<line x1="593.77" y1="315.9" x2="593.77" y2="314.6" stroke="#333" stroke-width="0.8" />
<line x1="593.77" y1="180.8" x2="593.77" y2="182.1" stroke="#333" stroke-width="0.8" />
<line x1="617.54" y1="315.9" x2="617.54" y2="314.6" stroke="#333" stroke-width="0.8" />
<line x1="617.54" y1="180.8" x2="617.54" y2="182.1" stroke="#333" stroke-width="0.8" />
<line x1="641.31" y1="315.9" x2="641.31" y2="314.6" stroke="#333" stroke-width="0.8" />
<line x1="641.31" y1="180.8" x2="641.31" y2="182.1" stroke="#333" stroke-width="0.8" />
<line x1="487.4" y1="315.8" x2="489.6" y2="315.8" stroke="#333" stroke-width="0.9" />
<line x1="655.2" y1="315.8" x2="653" y2="315.8" stroke="#333" stroke-width="0.9" />
<line x1="487.4" y1="293.3" x2="489.6" y2="293.3" stroke="#333" stroke-width="0.9" />
<line x1="655.2" y1="293.3" x2="653" y2="293.3" stroke="#333" stroke-width="0.9" />
<line x1="487.4" y1="270.8" x2="489.6" y2="270.8" stroke="#333" stroke-width="0.9" />
<line x1="655.2" y1="270.8" x2="653" y2="270.8" stroke="#333" stroke-width="0.9" />
<line x1="487.4" y1="248.3" x2="489.6" y2="248.3" stroke="#333" stroke-width="0.9" />
<line x1="655.2" y1="248.3" x2="653" y2="248.3" stroke="#333" stroke-width="0.9" />
<line x1="487.4" y1="225.8" x2="489.6" y2="225.8" stroke="#333" stroke-width="0.9" />
<line x1="655.2" y1="225.8" x2="653" y2="225.8" stroke="#333" stroke-width="0.9" />
<line x1="487.4" y1="203.3" x2="489.6" y2="203.3" stroke="#333" stroke-width="0.9" />
<line x1="655.2" y1="203.3" x2="653" y2="203.3" stroke="#333" stroke-width="0.9" />
<line x1="487.4" y1="180.8" x2="489.6" y2="180.8" stroke="#333" stroke-width="0.9" />
<line x1="655.2" y1="180.8" x2="653" y2="180.8" stroke="#333" stroke-width="0.9" />
<line x1="487.4" y1="304.55" x2="488.7" y2="304.55" stroke="#333" stroke-width="0.8" />
<line x1="655.2" y1="304.55" x2="653.9" y2="304.55" stroke="#333" stroke-width="0.8" />
<line x1="487.4" y1="282.05" x2="488.7" y2="282.05" stroke="#333" stroke-width="0.8" />
<line x1="655.2" y1="282.05" x2="653.9" y2="282.05" stroke="#333" stroke-width="0.8" />
<line x1="487.4" y1="259.55" x2="488.7" y2="259.55" stroke="#333" stroke-width="0.8" />
<line x1="655.2" y1="259.55" x2="653.9" y2="259.55" stroke="#333" stroke-width="0.8" />
<line x1="487.4" y1="237.05" x2="488.7" y2="237.05" stroke="#333" stroke-width="0.8" />
<line x1="655.2" y1="237.05" x2="653.9" y2="237.05" stroke="#333" stroke-width="0.8" />
<line x1="487.4" y1="214.55" x2="488.7" y2="214.55" stroke="#333" stroke-width="0.8" />
<line x1="655.2" y1="214.55" x2="653.9" y2="214.55" stroke="#333" stroke-width="0.8" />
<line x1="487.4" y1="192.05" x2="488.7" y2="192.05" stroke="#333" stroke-width="0.8" />
<line x1="655.2" y1="192.05" x2="653.9" y2="192.05" stroke="#333" stroke-width="0.8" />
<text x="486.8" y="320.4" font-family="Liberation Sans" font-size="6.7" font-weight="bold" font-style="normal" text-anchor="middle" fill="#222" dominant-baseline="central"  stroke="#222" stroke-width="0.18">0.0</text>
<text x="510.57" y="320.4" font-family="Liberation Sans" font-size="6.7" font-weight="bold" font-style="normal" text-anchor="middle" fill="#222" dominant-baseline="central"  stroke="#222" stroke-width="0.18">0.1</text>
<text x="534.34" y="320.4" font-family="Liberation Sans" font-size="6.7" font-weight="bold" font-style="normal" text-anchor="middle" fill="#222" dominant-baseline="central"  stroke="#222" stroke-width="0.18">0.2</text>
<text x="558.11" y="320.4" font-family="Liberation Sans" font-size="6.7" font-weight="bold" font-style="normal" text-anchor="middle" fill="#222" dominant-baseline="central"  stroke="#222" stroke-width="0.18">0.3</text>
<text x="581.88" y="320.4" font-family="Liberation Sans" font-size="6.7" font-weight="bold" font-style="normal" text-anchor="middle" fill="#222" dominant-baseline="central"  stroke="#222" stroke-width="0.18">0.4</text>
<text x="605.65" y="320.4" font-family="Liberation Sans" font-size="6.7" font-weight="bold" font-style="normal" text-anchor="middle" fill="#222" dominant-baseline="central"  stroke="#222" stroke-width="0.18">0.5</text>
<text x="629.42" y="320.4" font-family="Liberation Sans" font-size="6.7" font-weight="bold" font-style="normal" text-anchor="middle" fill="#222" dominant-baseline="central"  stroke="#222" stroke-width="0.18">0.6</text>
<text x="653.19" y="320.4" font-family="Liberation Sans" font-size="6.7" font-weight="bold" font-style="normal" text-anchor="middle" fill="#222" dominant-baseline="central"  stroke="#222" stroke-width="0.18">0.7</text>
<text x="484.2" y="315.8" font-family="Liberation Sans" font-size="6.7" font-weight="bold" font-style="normal" text-anchor="end" fill="#222" dominant-baseline="central"  stroke="#222" stroke-width="0.18">−3</text>
<text x="484.2" y="293.3" font-family="Liberation Sans" font-size="6.7" font-weight="bold" font-style="normal" text-anchor="end" fill="#222" dominant-baseline="central"  stroke="#222" stroke-width="0.18">−2</text>
<text x="484.2" y="270.8" font-family="Liberation Sans" font-size="6.7" font-weight="bold" font-style="normal" text-anchor="end" fill="#222" dominant-baseline="central"  stroke="#222" stroke-width="0.18">−1</text>
<text x="484.2" y="248.3" font-family="Liberation Sans" font-size="6.7" font-weight="bold" font-style="normal" text-anchor="end" fill="#222" dominant-baseline="central"  stroke="#222" stroke-width="0.18">0</text>
<text x="484.2" y="225.8" font-family="Liberation Sans" font-size="6.7" font-weight="bold" font-style="normal" text-anchor="end" fill="#222" dominant-baseline="central"  stroke="#222" stroke-width="0.18">1</text>
<text x="484.2" y="203.3" font-family="Liberation Sans" font-size="6.7" font-weight="bold" font-style="normal" text-anchor="end" fill="#222" dominant-baseline="central"  stroke="#222" stroke-width="0.18">2</text>
<text x="484.2" y="180.8" font-family="Liberation Sans" font-size="6.7" font-weight="bold" font-style="normal" text-anchor="end" fill="#222" dominant-baseline="central"  stroke="#222" stroke-width="0.18">3</text>
<text x="570.4" y="328.2" font-family="Liberation Sans" font-size="8.2" font-weight="bold" font-style="normal" text-anchor="middle" fill="#222" dominant-baseline="central"  stroke="#222" stroke-width="0.18">Position (μm)</text>
<text x="472" y="253" font-family="Liberation Sans" font-size="8.2" font-weight="bold" font-style="normal" text-anchor="middle" fill="#222" dominant-baseline="central" transform="rotate(-90 472 253)"  stroke="#222" stroke-width="0.18">Energy (eV)</text>
<text x="465" y="185.4" font-family="Liberation Sans" font-size="12" font-weight="normal" font-style="normal" text-anchor="start" fill="#333333" dominant-baseline="central" stroke="#333333" stroke-width="0.4">(f)</text>
<line x1="490.5" y1="199.5" x2="498" y2="199.5" stroke="#222" stroke-width="0.9" />
<polygon points="500.5,199.5 496.9,197.9 496.9,201.1" fill="#222"/>
<text x="502.5" y="199.5" font-family="Liberation Sans" font-size="7" font-weight="bold" fill="#1e2633" dominant-baseline="central">Spiro-TTB/MoO<tspan font-size="4.55" dy="2">3</tspan></text>
<text x="522.5" y="187.5" font-family="Liberation Sans" font-size="6.7" font-weight="bold" font-style="normal" text-anchor="start" fill="#d2444f" dominant-baseline="central" stroke="#d2444f" stroke-width="0.18"><tspan font-style="italic" dy="-0">N</tspan><tspan font-size="4.02" dy="1.88">t</tspan><tspan font-size="4.02" dy="-4.22">ETL/PVSK</tspan><tspan dy="2.34"> =1 × 10</tspan><tspan font-size="4.02" dy="-2.34">10</tspan><tspan dy="2.34">cm</tspan><tspan font-size="4.02" dy="-2.34">−2</tspan></text>
<text x="537.9" y="234.5" font-family="Liberation Sans" font-size="7.6" font-weight="bold" font-style="normal" text-anchor="start" fill="#222" dominant-baseline="central" stroke="#222" stroke-width="0.18"><tspan dy="-0">QFLS</tspan><tspan font-size="4.71" dy="2.13">Internal</tspan></text>
<text x="615.2" y="214.4" font-family="Liberation Sans" font-size="7.6" font-weight="bold" font-style="normal" text-anchor="start" fill="#222" dominant-baseline="central" stroke="#222" stroke-width="0.18"><tspan dy="-0">QFLS</tspan><tspan font-size="4.71" dy="2.13">Loss</tspan></text>
<text x="615.5" y="237" font-family="Liberation Sans" font-size="7.6" font-weight="bold" font-style="normal" text-anchor="start" fill="#222" dominant-baseline="central" stroke="#222" stroke-width="0.18"><tspan dy="-0">QFLS</tspan><tspan font-size="4.71" dy="2.13">External</tspan></text>
<text x="615.8" y="260.2" font-family="Liberation Sans" font-size="7.6" font-weight="bold" font-style="normal" text-anchor="start" fill="#222" dominant-baseline="central" stroke="#222" stroke-width="0.18"><tspan dy="-0">QFLS</tspan><tspan font-size="4.71" dy="2.13">Loss</tspan></text>
<text x="566" y="289.3" font-family="Liberation Sans" font-size="6.8" font-weight="bold" font-style="normal" text-anchor="middle" fill="#222" dominant-baseline="central" transform="rotate(-90 566 289.3)" stroke="#222" stroke-width="0.18"><tspan dy="-0">CsPbI</tspan><tspan font-size="4.22" dy="1.9">2</tspan><tspan dy="-1.9">Br</tspan></text>
<text x="599.2" y="270.5" font-family="Liberation Sans" font-size="6.8" font-weight="bold" font-style="normal" text-anchor="middle" fill="#222" dominant-baseline="central" transform="rotate(-90 599.2 270.5)" stroke="#222" stroke-width="0.18"><tspan dy="-0">SnO</tspan><tspan font-size="4.22" dy="1.9">2</tspan></text>
<text x="629.5" y="280" font-family="Liberation Sans" font-size="6.8" font-weight="bold" font-style="normal" text-anchor="middle" fill="#222" dominant-baseline="central" transform="rotate(-90 629.5 280)"  stroke="#222" stroke-width="0.18">ITO</text>
<text x="529" y="263.8" font-family="Liberation Sans" font-size="5.2" font-weight="bold" font-style="normal" text-anchor="middle" fill="#222" dominant-baseline="central"  stroke="#222" stroke-width="0.18">CBO (eV)</text>
<line x1="506" y1="269.5" x2="516.5" y2="269.5" stroke="#3d6c9e" stroke-width="1.2" stroke-dasharray="3.6,3.2" />
<text x="517.5" y="269.5" font-family="Liberation Sans" font-size="4.8" font-weight="bold" font-style="normal" text-anchor="start" fill="#222" dominant-baseline="central"  stroke="#222" stroke-width="0.18">−0.5</text>
<line x1="530" y1="269.5" x2="540" y2="269.5" stroke="#3d6c9e" stroke-width="1.2" />
<text x="541.3" y="269.5" font-family="Liberation Sans" font-size="4.8" font-weight="bold" font-style="normal" text-anchor="start" fill="#222" dominant-baseline="central"  stroke="#222" stroke-width="0.18">−0.5</text>
<line x1="506" y1="275.05" x2="516.5" y2="275.05" stroke="#6a9fcb" stroke-width="1.2" stroke-dasharray="3.6,3.2" />
<text x="517.5" y="275.05" font-family="Liberation Sans" font-size="4.8" font-weight="bold" font-style="normal" text-anchor="start" fill="#222" dominant-baseline="central"  stroke="#222" stroke-width="0.18">−0.4</text>
<line x1="530" y1="275.05" x2="540" y2="275.05" stroke="#6a9fcb" stroke-width="1.2" />
<text x="541.3" y="275.05" font-family="Liberation Sans" font-size="4.8" font-weight="bold" font-style="normal" text-anchor="start" fill="#222" dominant-baseline="central"  stroke="#222" stroke-width="0.18">−0.4</text>
<line x1="506" y1="280.6" x2="516.5" y2="280.6" stroke="#a4cbe0" stroke-width="1.2" stroke-dasharray="3.6,3.2" />
<text x="517.5" y="280.6" font-family="Liberation Sans" font-size="4.8" font-weight="bold" font-style="normal" text-anchor="start" fill="#222" dominant-baseline="central"  stroke="#222" stroke-width="0.18">−0.3</text>
<line x1="530" y1="280.6" x2="540" y2="280.6" stroke="#a4cbe0" stroke-width="1.2" />
<text x="541.3" y="280.6" font-family="Liberation Sans" font-size="4.8" font-weight="bold" font-style="normal" text-anchor="start" fill="#222" dominant-baseline="central"  stroke="#222" stroke-width="0.18">−0.3</text>
<line x1="506" y1="286.15" x2="516.5" y2="286.15" stroke="#dce7ef" stroke-width="1.2" stroke-dasharray="3.6,3.2" />
<text x="517.5" y="286.15" font-family="Liberation Sans" font-size="4.8" font-weight="bold" font-style="normal" text-anchor="start" fill="#222" dominant-baseline="central"  stroke="#222" stroke-width="0.18">−0.2</text>
<line x1="530" y1="286.15" x2="540" y2="286.15" stroke="#dce7ef" stroke-width="1.2" />
<text x="541.3" y="286.15" font-family="Liberation Sans" font-size="4.8" font-weight="bold" font-style="normal" text-anchor="start" fill="#222" dominant-baseline="central"  stroke="#222" stroke-width="0.18">−0.2</text>
<line x1="506" y1="291.7" x2="516.5" y2="291.7" stroke="#f2e9e4" stroke-width="1.2" stroke-dasharray="3.6,3.2" />
<text x="517.5" y="291.7" font-family="Liberation Sans" font-size="4.8" font-weight="bold" font-style="normal" text-anchor="start" fill="#222" dominant-baseline="central"  stroke="#222" stroke-width="0.18">−0.1</text>
<line x1="530" y1="291.7" x2="540" y2="291.7" stroke="#f2e9e4" stroke-width="1.2" />
<text x="541.3" y="291.7" font-family="Liberation Sans" font-size="4.8" font-weight="bold" font-style="normal" text-anchor="start" fill="#222" dominant-baseline="central"  stroke="#222" stroke-width="0.18">−0.1</text>
<line x1="506" y1="297.25" x2="516.5" y2="297.25" stroke="#ecc0b2" stroke-width="1.2" stroke-dasharray="3.6,3.2" />
<text x="517.5" y="297.25" font-family="Liberation Sans" font-size="4.8" font-weight="bold" font-style="normal" text-anchor="start" fill="#222" dominant-baseline="central"  stroke="#222" stroke-width="0.18">0</text>
<line x1="530" y1="297.25" x2="540" y2="297.25" stroke="#ecc0b2" stroke-width="1.2" />
<text x="541.3" y="297.25" font-family="Liberation Sans" font-size="4.8" font-weight="bold" font-style="normal" text-anchor="start" fill="#222" dominant-baseline="central"  stroke="#222" stroke-width="0.18">0</text>
<line x1="506" y1="302.8" x2="516.5" y2="302.8" stroke="#d9746a" stroke-width="1.2" stroke-dasharray="3.6,3.2" />
<text x="517.5" y="302.8" font-family="Liberation Sans" font-size="4.8" font-weight="bold" font-style="normal" text-anchor="start" fill="#222" dominant-baseline="central"  stroke="#222" stroke-width="0.18">+0.1</text>
<line x1="530" y1="302.8" x2="540" y2="302.8" stroke="#d9746a" stroke-width="1.2" />
<text x="541.3" y="302.8" font-family="Liberation Sans" font-size="4.8" font-weight="bold" font-style="normal" text-anchor="start" fill="#222" dominant-baseline="central"  stroke="#222" stroke-width="0.18">+0.1</text>
<line x1="506" y1="308.35" x2="516.5" y2="308.35" stroke="#b04a4c" stroke-width="1.2" stroke-dasharray="3.6,3.2" />
<text x="517.5" y="308.35" font-family="Liberation Sans" font-size="4.8" font-weight="bold" font-style="normal" text-anchor="start" fill="#222" dominant-baseline="central"  stroke="#222" stroke-width="0.18">+0.2</text>
<line x1="530" y1="308.35" x2="540" y2="308.35" stroke="#b04a4c" stroke-width="1.2" />
<text x="541.3" y="308.35" font-family="Liberation Sans" font-size="4.8" font-weight="bold" font-style="normal" text-anchor="start" fill="#222" dominant-baseline="central"  stroke="#222" stroke-width="0.18">+0.2</text>
<rect x="65.4" y="355.9" width="7" height="134.4" fill="url(#pinkG)" />
<rect x="72.4" y="355.9" width="94.64" height="134.4" fill="url(#pvG)" />
<rect x="167.04" y="355.9" width="18.93" height="134.4" fill="url(#snG)" />
<rect x="185.97" y="355.9" width="47.33" height="134.4" fill="url(#itoG)" />
<line x1="72.4" y1="355.9" x2="72.4" y2="490.3" stroke="#6a7890" stroke-width="0.6" stroke-dasharray="1,1" />
<line x1="167.04" y1="355.9" x2="167.04" y2="490.3" stroke="#6a7890" stroke-width="0.6" stroke-dasharray="1,1" />
<line x1="185.97" y1="355.9" x2="185.97" y2="490.3" stroke="#6a7890" stroke-width="0.6" stroke-dasharray="1,1" />
<polyline points="66,373.8 66.6,367.79 71.45,367.79 72.4,371.57 72.4,396.5" fill="none" stroke="#c0303c" stroke-width="1" stroke-linejoin="round" />
<line x1="72.4" y1="396.5" x2="185.97" y2="396.5" stroke="#b83a44" stroke-width="1.3" />
<line x1="167.04" y1="397.83" x2="185.97" y2="397.83" stroke="#3a6ea5" stroke-width="1" />
<line x1="185.97" y1="397.83" x2="233.3" y2="397.83" stroke="#5d7fa8" stroke-width="1.1" />
<line x1="185.97" y1="398.94" x2="233.3" y2="398.94" stroke="#f0c8a0" stroke-width="1.1" />
<line x1="185.97" y1="400.06" x2="233.3" y2="400.06" stroke="#e8b898" stroke-width="1.1" />
<line x1="185.97" y1="401.17" x2="233.3" y2="401.17" stroke="#f2d0b0" stroke-width="1.1" />
<line x1="185.97" y1="402.28" x2="233.3" y2="402.28" stroke="#d08070" stroke-width="1.1" />
<line x1="185.97" y1="403.39" x2="233.3" y2="403.39" stroke="#c87060" stroke-width="1.1" />
<line x1="72.4" y1="422.75" x2="233.3" y2="422.75" stroke="#6c7480" stroke-width="0.7" stroke-dasharray="3,2" />
<line x1="167.04" y1="428.31" x2="233.3" y2="428.31" stroke="#6c7480" stroke-width="0.7" stroke-dasharray="3,2" />
<polyline points="72.4,422.75 74.76,425.46 77.13,426.85 79.5,427.56 81.86,427.93 84.23,428.11 86.59,428.21 88.96,428.26 91.33,428.29 93.69,428.3 96.06,428.31 98.42,428.31 100.79,428.31 103.16,428.31 105.52,428.31 107.89,428.31 110.25,428.31 112.62,428.31 114.99,428.31 117.35,428.31 119.72,428.31 122.08,428.31 124.45,428.31 126.82,428.31 129.18,428.31 131.55,428.31 133.91,428.31 136.28,428.31 138.65,428.31 141.01,428.31 143.38,428.31 145.74,428.31 148.11,428.31 150.48,428.23 152.84,427.96 155.21,427.53 157.57,426.92 159.94,426.14 162.31,425.18 164.67,424.05 167.04,422.75" fill="none" stroke="#3d6c9e" stroke-width="1.1" stroke-dasharray="3,1.8" stroke-linejoin="round" />
<polyline points="72.4,422.75 74.76,425.46 77.13,426.85 79.5,427.56 81.86,427.93 84.23,428.11 86.59,428.21 88.96,428.26 91.33,428.29 93.69,428.3 96.06,428.31 98.42,428.31 100.79,428.31 103.16,428.31 105.52,428.31 107.89,428.31 110.25,428.31 112.62,428.31 114.99,428.31 117.35,428.31 119.72,428.31 122.08,428.31 124.45,428.31 126.82,428.31 129.18,428.31 131.55,428.31 133.91,428.31 136.28,428.31 138.65,428.31 141.01,428.31 143.38,428.31 145.74,428.31 148.11,428.31 150.48,428.25 152.84,428.08 155.21,427.79 157.57,427.39 159.94,426.86 162.31,426.23 164.67,425.47 167.04,424.6" fill="none" stroke="#6a9fcb" stroke-width="1.1" stroke-dasharray="3,1.8" stroke-linejoin="round" />
<polyline points="72.4,422.75 74.76,425.46 77.13,426.85 79.5,427.56 81.86,427.93 84.23,428.11 86.59,428.21 88.96,428.26 91.33,428.29 93.69,428.3 96.06,428.31 98.42,428.31 100.79,428.31 103.16,428.31 105.52,428.31 107.89,428.31 110.25,428.31 112.62,428.31 114.99,428.31 117.35,428.31 119.72,428.31 122.08,428.31 124.45,428.31 126.82,428.31 129.18,428.31 131.55,428.31 133.91,428.31 136.28,428.31 138.65,428.31 141.01,428.31 143.38,428.31 145.74,428.31 148.11,428.31 150.48,428.28 152.84,428.2 155.21,428.05 157.57,427.85 159.94,427.59 162.31,427.27 164.67,426.89 167.04,426.46" fill="none" stroke="#a4cbe0" stroke-width="1.1" stroke-dasharray="3,1.8" stroke-linejoin="round" />
<polyline points="72.4,422.75 74.76,425.46 77.13,426.85 79.5,427.56 81.86,427.93 84.23,428.11 86.59,428.21 88.96,428.26 91.33,428.29 93.69,428.3 96.06,428.31 98.42,428.31 100.79,428.31 103.16,428.31 105.52,428.31 107.89,428.31 110.25,428.31 112.62,428.31 114.99,428.31 117.35,428.31 119.72,428.31 122.08,428.31 124.45,428.31 126.82,428.31 129.18,428.31 131.55,428.31 133.91,428.31 136.28,428.31 138.65,428.31 141.01,428.31 143.38,428.31 145.74,428.31 148.11,428.31 150.48,428.31 152.84,428.31 155.21,428.31 157.57,428.31 159.94,428.31 162.31,428.31 164.67,428.31 167.04,428.31" fill="none" stroke="#dce7ef" stroke-width="1.1" stroke-dasharray="3,1.8" stroke-linejoin="round" />
<polyline points="72.4,422.75 74.76,425.46 77.13,426.85 79.5,427.56 81.86,427.93 84.23,428.11 86.59,428.21 88.96,428.26 91.33,428.29 93.69,428.3 96.06,428.31 98.42,428.31 100.79,428.31 103.16,428.31 105.52,428.31 107.89,428.31 110.25,428.31 112.62,428.31 114.99,428.31 117.35,428.31 119.72,428.31 122.08,428.31 124.45,428.31 126.82,428.31 129.18,428.31 131.55,428.31 133.91,428.31 136.28,428.31 138.65,428.31 141.01,428.31 143.38,428.31 145.74,428.31 148.11,428.31 150.48,428.31 152.84,428.31 155.21,428.31 157.57,428.31 159.94,428.31 162.31,428.31 164.67,428.31 167.04,428.31" fill="none" stroke="#f2e9e4" stroke-width="1.1" stroke-dasharray="3,1.8" stroke-linejoin="round" />
<polyline points="72.4,422.75 74.76,425.46 77.13,426.85 79.5,427.56 81.86,427.93 84.23,428.11 86.59,428.21 88.96,428.26 91.33,428.29 93.69,428.3 96.06,428.31 98.42,428.31 100.79,428.31 103.16,428.31 105.52,428.31 107.89,428.31 110.25,428.31 112.62,428.31 114.99,428.31 117.35,428.31 119.72,428.31 122.08,428.31 124.45,428.31 126.82,428.31 129.18,428.31 131.55,428.31 133.91,428.31 136.28,428.31 138.65,428.31 141.01,428.31 143.38,428.31 145.74,428.31 148.11,428.31 150.48,428.31 152.84,428.31 155.21,428.31 157.57,428.31 159.94,428.31 162.31,428.31 164.67,428.31 167.04,428.31" fill="none" stroke="#ecc0b2" stroke-width="1.1" stroke-dasharray="3,1.8" stroke-linejoin="round" />
<polyline points="72.4,422.75 74.76,425.46 77.13,426.85 79.5,427.56 81.86,427.93 84.23,428.11 86.59,428.21 88.96,428.26 91.33,428.29 93.69,428.3 96.06,428.31 98.42,428.31 100.79,428.31 103.16,428.31 105.52,428.31 107.89,428.31 110.25,428.31 112.62,428.31 114.99,428.31 117.35,428.31 119.72,428.31 122.08,428.31 124.45,428.31 126.82,428.31 129.18,428.31 131.55,428.31 133.91,428.31 136.28,428.31 138.65,428.31 141.01,428.31 143.38,428.31 145.74,428.31 148.11,428.31 150.48,428.31 152.84,428.31 155.21,428.31 157.57,428.31 159.94,428.31 162.31,428.31 164.67,428.31 167.04,428.31" fill="none" stroke="#d9746a" stroke-width="1.1" stroke-dasharray="3,1.8" stroke-linejoin="round" />
<polyline points="72.4,422.75 74.76,425.46 77.13,426.85 79.5,427.56 81.86,427.93 84.23,428.11 86.59,428.21 88.96,428.26 91.33,428.29 93.69,428.3 96.06,428.31 98.42,428.31 100.79,428.31 103.16,428.31 105.52,428.31 107.89,428.31 110.25,428.31 112.62,428.31 114.99,428.31 117.35,428.31 119.72,428.31 122.08,428.31 124.45,428.31 126.82,428.31 129.18,428.31 131.55,428.31 133.91,428.31 136.28,428.31 138.65,428.31 141.01,428.31 143.38,428.31 145.74,428.31 148.11,428.31 150.48,428.31 152.84,428.31 155.21,428.31 157.57,428.31 159.94,428.31 162.31,428.31 164.67,428.31 167.04,428.31" fill="none" stroke="#b04a4c" stroke-width="1.1" stroke-dasharray="3,1.8" stroke-linejoin="round" />
<polyline points="167.04,466.14 185.97,465.25" fill="none" stroke="#3d6c9e" stroke-width="1.1" stroke-dasharray="3,1.8" stroke-linejoin="round" stroke-dashoffset="0" stroke-opacity="0.7"/>
<polyline points="185.97,469.48 233.3,468.36" fill="none" stroke="#3d6c9e" stroke-width="1.1" stroke-dasharray="3.2,2.2" stroke-linejoin="round" stroke-dashoffset="0" stroke-opacity="0.7"/>
<polyline points="167.04,465.44 185.97,464.55" fill="none" stroke="#6a9fcb" stroke-width="1.1" stroke-dasharray="3,1.8" stroke-linejoin="round" stroke-dashoffset="0.31" stroke-opacity="0.7"/>
<polyline points="185.97,470.3 233.3,469.19" fill="none" stroke="#6a9fcb" stroke-width="1.1" stroke-dasharray="3.2,2.2" stroke-linejoin="round" stroke-dashoffset="0.34" stroke-opacity="0.7"/>
<polyline points="167.04,464.74 185.97,463.85" fill="none" stroke="#a4cbe0" stroke-width="1.1" stroke-dasharray="3,1.8" stroke-linejoin="round" stroke-dashoffset="0.63" stroke-opacity="0.7"/>
<polyline points="185.97,471.13 233.3,470.02" fill="none" stroke="#a4cbe0" stroke-width="1.1" stroke-dasharray="3.2,2.2" stroke-linejoin="round" stroke-dashoffset="0.69" stroke-opacity="0.7"/>
<polyline points="167.04,464.04 185.97,463.15" fill="none" stroke="#dce7ef" stroke-width="1.1" stroke-dasharray="3,1.8" stroke-linejoin="round" stroke-dashoffset="0.94" stroke-opacity="0.7"/>
<polyline points="185.97,471.95 233.3,470.84" fill="none" stroke="#dce7ef" stroke-width="1.1" stroke-dasharray="3.2,2.2" stroke-linejoin="round" stroke-dashoffset="1.03" stroke-opacity="0.7"/>
<polyline points="167.04,463.34 185.97,462.45" fill="none" stroke="#f2e9e4" stroke-width="1.1" stroke-dasharray="3,1.8" stroke-linejoin="round" stroke-dashoffset="1.26" stroke-opacity="1"/>
<polyline points="185.97,472.78 233.3,471.67" fill="none" stroke="#f2e9e4" stroke-width="1.1" stroke-dasharray="3.2,2.2" stroke-linejoin="round" stroke-dashoffset="1.37" stroke-opacity="1"/>
<polyline points="167.04,462.64 185.97,461.75" fill="none" stroke="#ecc0b2" stroke-width="1.1" stroke-dasharray="3,1.8" stroke-linejoin="round" stroke-dashoffset="1.57" stroke-opacity="1"/>
<polyline points="185.97,473.61 233.3,472.49" fill="none" stroke="#ecc0b2" stroke-width="1.1" stroke-dasharray="3.2,2.2" stroke-linejoin="round" stroke-dashoffset="1.71" stroke-opacity="1"/>
<polyline points="167.04,461.94 185.97,461.05" fill="none" stroke="#d9746a" stroke-width="1.1" stroke-dasharray="3,1.8" stroke-linejoin="round" stroke-dashoffset="1.89" stroke-opacity="1"/>
<polyline points="185.97,474.43 233.3,473.32" fill="none" stroke="#d9746a" stroke-width="1.1" stroke-dasharray="3.2,2.2" stroke-linejoin="round" stroke-dashoffset="2.06" stroke-opacity="1"/>
<polyline points="167.04,461.24 185.97,460.35" fill="none" stroke="#b04a4c" stroke-width="1.1" stroke-dasharray="3,1.8" stroke-linejoin="round" stroke-dashoffset="2.2" stroke-opacity="1"/>
<polyline points="185.97,475.26 233.3,474.15" fill="none" stroke="#b04a4c" stroke-width="1.1" stroke-dasharray="3.2,2.2" stroke-linejoin="round" stroke-dashoffset="2.4" stroke-opacity="1"/>
<line x1="167.04" y1="428.31" x2="167.04" y2="460.57" stroke="#d05050" stroke-width="0.8" stroke-dasharray="3,1.5" />
<line x1="122.08" y1="398" x2="122.08" y2="426.81" stroke="#333" stroke-width="0.6" />
<polygon points="122.08,396.5 121.08,398.69 123.08,398.69" fill="#333"/>
<polygon points="122.08,428.31 121.08,426.11 123.08,426.11" fill="#333"/>
<line x1="191.17" y1="398" x2="191.17" y2="402.12" stroke="#333" stroke-width="0.6" />
<polygon points="191.17,396.5 190.17,398.69 192.17,398.69" fill="#333"/>
<polygon points="191.17,403.62 190.17,401.42 192.17,401.42" fill="#333"/>
<line x1="191.17" y1="405.12" x2="191.17" y2="421.25" stroke="#333" stroke-width="0.6" />
<polygon points="191.17,403.62 190.17,405.81 192.17,405.81" fill="#333"/>
<polygon points="191.17,422.75 190.17,420.55 192.17,420.55" fill="#333"/>
<line x1="191.17" y1="424.25" x2="191.17" y2="426.81" stroke="#333" stroke-width="0.6" />
<polygon points="191.17,422.75 190.17,424.95 192.17,424.95" fill="#333"/>
<polygon points="191.17,428.31 190.17,426.11 192.17,426.11" fill="#333"/>
<rect x="65.4" y="355.9" width="167.9" height="134.4" fill="none" stroke="#3a3a3a" stroke-width="1.3"/>
<line x1="65.3" y1="490.3" x2="65.3" y2="488.1" stroke="#333" stroke-width="0.9" />
<line x1="65.3" y1="355.9" x2="65.3" y2="358.1" stroke="#333" stroke-width="0.9" />
<line x1="88.96" y1="490.3" x2="88.96" y2="488.1" stroke="#333" stroke-width="0.9" />
<line x1="88.96" y1="355.9" x2="88.96" y2="358.1" stroke="#333" stroke-width="0.9" />
<line x1="112.62" y1="490.3" x2="112.62" y2="488.1" stroke="#333" stroke-width="0.9" />
<line x1="112.62" y1="355.9" x2="112.62" y2="358.1" stroke="#333" stroke-width="0.9" />
<line x1="136.28" y1="490.3" x2="136.28" y2="488.1" stroke="#333" stroke-width="0.9" />
<line x1="136.28" y1="355.9" x2="136.28" y2="358.1" stroke="#333" stroke-width="0.9" />
<line x1="159.94" y1="490.3" x2="159.94" y2="488.1" stroke="#333" stroke-width="0.9" />
<line x1="159.94" y1="355.9" x2="159.94" y2="358.1" stroke="#333" stroke-width="0.9" />
<line x1="183.6" y1="490.3" x2="183.6" y2="488.1" stroke="#333" stroke-width="0.9" />
<line x1="183.6" y1="355.9" x2="183.6" y2="358.1" stroke="#333" stroke-width="0.9" />
<line x1="207.26" y1="490.3" x2="207.26" y2="488.1" stroke="#333" stroke-width="0.9" />
<line x1="207.26" y1="355.9" x2="207.26" y2="358.1" stroke="#333" stroke-width="0.9" />
<line x1="230.92" y1="490.3" x2="230.92" y2="488.1" stroke="#333" stroke-width="0.9" />
<line x1="230.92" y1="355.9" x2="230.92" y2="358.1" stroke="#333" stroke-width="0.9" />
<line x1="77.13" y1="490.3" x2="77.13" y2="489" stroke="#333" stroke-width="0.8" />
<line x1="77.13" y1="355.9" x2="77.13" y2="357.2" stroke="#333" stroke-width="0.8" />
<line x1="100.79" y1="490.3" x2="100.79" y2="489" stroke="#333" stroke-width="0.8" />
<line x1="100.79" y1="355.9" x2="100.79" y2="357.2" stroke="#333" stroke-width="0.8" />
<line x1="124.45" y1="490.3" x2="124.45" y2="489" stroke="#333" stroke-width="0.8" />
<line x1="124.45" y1="355.9" x2="124.45" y2="357.2" stroke="#333" stroke-width="0.8" />
<line x1="148.11" y1="490.3" x2="148.11" y2="489" stroke="#333" stroke-width="0.8" />
<line x1="148.11" y1="355.9" x2="148.11" y2="357.2" stroke="#333" stroke-width="0.8" />
<line x1="171.77" y1="490.3" x2="171.77" y2="489" stroke="#333" stroke-width="0.8" />
<line x1="171.77" y1="355.9" x2="171.77" y2="357.2" stroke="#333" stroke-width="0.8" />
<line x1="195.43" y1="490.3" x2="195.43" y2="489" stroke="#333" stroke-width="0.8" />
<line x1="195.43" y1="355.9" x2="195.43" y2="357.2" stroke="#333" stroke-width="0.8" />
<line x1="219.09" y1="490.3" x2="219.09" y2="489" stroke="#333" stroke-width="0.8" />
<line x1="219.09" y1="355.9" x2="219.09" y2="357.2" stroke="#333" stroke-width="0.8" />
<line x1="65.4" y1="489.5" x2="67.6" y2="489.5" stroke="#333" stroke-width="0.9" />
<line x1="233.3" y1="489.5" x2="231.1" y2="489.5" stroke="#333" stroke-width="0.9" />
<line x1="65.4" y1="467.25" x2="67.6" y2="467.25" stroke="#333" stroke-width="0.9" />
<line x1="233.3" y1="467.25" x2="231.1" y2="467.25" stroke="#333" stroke-width="0.9" />
<line x1="65.4" y1="445" x2="67.6" y2="445" stroke="#333" stroke-width="0.9" />
<line x1="233.3" y1="445" x2="231.1" y2="445" stroke="#333" stroke-width="0.9" />
<line x1="65.4" y1="422.75" x2="67.6" y2="422.75" stroke="#333" stroke-width="0.9" />
<line x1="233.3" y1="422.75" x2="231.1" y2="422.75" stroke="#333" stroke-width="0.9" />
<line x1="65.4" y1="400.5" x2="67.6" y2="400.5" stroke="#333" stroke-width="0.9" />
<line x1="233.3" y1="400.5" x2="231.1" y2="400.5" stroke="#333" stroke-width="0.9" />
<line x1="65.4" y1="378.25" x2="67.6" y2="378.25" stroke="#333" stroke-width="0.9" />
<line x1="233.3" y1="378.25" x2="231.1" y2="378.25" stroke="#333" stroke-width="0.9" />
<line x1="65.4" y1="356" x2="67.6" y2="356" stroke="#333" stroke-width="0.9" />
<line x1="233.3" y1="356" x2="231.1" y2="356" stroke="#333" stroke-width="0.9" />
<line x1="65.4" y1="478.38" x2="66.7" y2="478.38" stroke="#333" stroke-width="0.8" />
<line x1="233.3" y1="478.38" x2="232" y2="478.38" stroke="#333" stroke-width="0.8" />
<line x1="65.4" y1="456.12" x2="66.7" y2="456.12" stroke="#333" stroke-width="0.8" />
<line x1="233.3" y1="456.12" x2="232" y2="456.12" stroke="#333" stroke-width="0.8" />
<line x1="65.4" y1="433.88" x2="66.7" y2="433.88" stroke="#333" stroke-width="0.8" />
<line x1="233.3" y1="433.88" x2="232" y2="433.88" stroke="#333" stroke-width="0.8" />
<line x1="65.4" y1="411.62" x2="66.7" y2="411.62" stroke="#333" stroke-width="0.8" />
<line x1="233.3" y1="411.62" x2="232" y2="411.62" stroke="#333" stroke-width="0.8" />
<line x1="65.4" y1="389.38" x2="66.7" y2="389.38" stroke="#333" stroke-width="0.8" />
<line x1="233.3" y1="389.38" x2="232" y2="389.38" stroke="#333" stroke-width="0.8" />
<line x1="65.4" y1="367.12" x2="66.7" y2="367.12" stroke="#333" stroke-width="0.8" />
<line x1="233.3" y1="367.12" x2="232" y2="367.12" stroke="#333" stroke-width="0.8" />
<text x="65.3" y="495.7" font-family="Liberation Sans" font-size="6.7" font-weight="bold" font-style="normal" text-anchor="middle" fill="#222" dominant-baseline="central"  stroke="#222" stroke-width="0.18">0.0</text>
<text x="88.96" y="495.7" font-family="Liberation Sans" font-size="6.7" font-weight="bold" font-style="normal" text-anchor="middle" fill="#222" dominant-baseline="central"  stroke="#222" stroke-width="0.18">0.1</text>
<text x="112.62" y="495.7" font-family="Liberation Sans" font-size="6.7" font-weight="bold" font-style="normal" text-anchor="middle" fill="#222" dominant-baseline="central"  stroke="#222" stroke-width="0.18">0.2</text>
<text x="136.28" y="495.7" font-family="Liberation Sans" font-size="6.7" font-weight="bold" font-style="normal" text-anchor="middle" fill="#222" dominant-baseline="central"  stroke="#222" stroke-width="0.18">0.3</text>
<text x="159.94" y="495.7" font-family="Liberation Sans" font-size="6.7" font-weight="bold" font-style="normal" text-anchor="middle" fill="#222" dominant-baseline="central"  stroke="#222" stroke-width="0.18">0.4</text>
<text x="183.6" y="495.7" font-family="Liberation Sans" font-size="6.7" font-weight="bold" font-style="normal" text-anchor="middle" fill="#222" dominant-baseline="central"  stroke="#222" stroke-width="0.18">0.5</text>
<text x="207.26" y="495.7" font-family="Liberation Sans" font-size="6.7" font-weight="bold" font-style="normal" text-anchor="middle" fill="#222" dominant-baseline="central"  stroke="#222" stroke-width="0.18">0.6</text>
<text x="230.92" y="495.7" font-family="Liberation Sans" font-size="6.7" font-weight="bold" font-style="normal" text-anchor="middle" fill="#222" dominant-baseline="central"  stroke="#222" stroke-width="0.18">0.7</text>
<text x="62.2" y="489.5" font-family="Liberation Sans" font-size="6.7" font-weight="bold" font-style="normal" text-anchor="end" fill="#222" dominant-baseline="central"  stroke="#222" stroke-width="0.18">−3</text>
<text x="62.2" y="467.25" font-family="Liberation Sans" font-size="6.7" font-weight="bold" font-style="normal" text-anchor="end" fill="#222" dominant-baseline="central"  stroke="#222" stroke-width="0.18">−2</text>
<text x="62.2" y="445" font-family="Liberation Sans" font-size="6.7" font-weight="bold" font-style="normal" text-anchor="end" fill="#222" dominant-baseline="central"  stroke="#222" stroke-width="0.18">−1</text>
<text x="62.2" y="422.75" font-family="Liberation Sans" font-size="6.7" font-weight="bold" font-style="normal" text-anchor="end" fill="#222" dominant-baseline="central"  stroke="#222" stroke-width="0.18">0</text>
<text x="62.2" y="400.5" font-family="Liberation Sans" font-size="6.7" font-weight="bold" font-style="normal" text-anchor="end" fill="#222" dominant-baseline="central"  stroke="#222" stroke-width="0.18">1</text>
<text x="62.2" y="378.25" font-family="Liberation Sans" font-size="6.7" font-weight="bold" font-style="normal" text-anchor="end" fill="#222" dominant-baseline="central"  stroke="#222" stroke-width="0.18">2</text>
<text x="62.2" y="356" font-family="Liberation Sans" font-size="6.7" font-weight="bold" font-style="normal" text-anchor="end" fill="#222" dominant-baseline="central"  stroke="#222" stroke-width="0.18">3</text>
<text x="144.6" y="503.3" font-family="Liberation Sans" font-size="8.2" font-weight="bold" font-style="normal" text-anchor="middle" fill="#222" dominant-baseline="central"  stroke="#222" stroke-width="0.18">Position (μm)</text>
<text x="51.8" y="422.5" font-family="Liberation Sans" font-size="8.2" font-weight="bold" font-style="normal" text-anchor="middle" fill="#222" dominant-baseline="central" transform="rotate(-90 51.8 422.5)"  stroke="#222" stroke-width="0.18">Energy (eV)</text>
<text x="41.5" y="355.7" font-family="Liberation Sans" font-size="12" font-weight="normal" font-style="normal" text-anchor="start" fill="#333333" dominant-baseline="central" stroke="#333333" stroke-width="0.4">(g)</text>
<line x1="73.4" y1="377.8" x2="79.5" y2="377.8" stroke="#222" stroke-width="0.9" />
<polygon points="82,377.8 78.4,376.2 78.4,379.4" fill="#222"/>
<text x="84" y="377.8" font-family="Liberation Sans" font-size="7" font-weight="bold" fill="#1e2633" dominant-baseline="central">Spiro-TTB/MoO<tspan font-size="4.55" dy="2">3</tspan></text>
<text x="101" y="362.9" font-family="Liberation Sans" font-size="6.7" font-weight="bold" font-style="normal" text-anchor="start" fill="#3aa3d8" dominant-baseline="central" stroke="#3aa3d8" stroke-width="0.18"><tspan font-style="italic" dy="-0">N</tspan><tspan font-size="4.02" dy="1.88">t</tspan><tspan font-size="4.02" dy="-4.22">ETL/PVSK</tspan><tspan dy="2.34"> =3 × 10</tspan><tspan font-size="4.02" dy="-2.34">14</tspan><tspan dy="2.34">cm</tspan><tspan font-size="4.02" dy="-2.34">−2</tspan></text>
<text x="84.4" y="410.4" font-family="Liberation Sans" font-size="7.6" font-weight="bold" font-style="normal" text-anchor="start" fill="#222" dominant-baseline="central" stroke="#222" stroke-width="0.18"><tspan dy="-0">QFLS</tspan><tspan font-size="4.71" dy="2.13">Internal</tspan></text>
<text x="193.7" y="391" font-family="Liberation Sans" font-size="7.6" font-weight="bold" font-style="normal" text-anchor="start" fill="#222" dominant-baseline="central" stroke="#222" stroke-width="0.18"><tspan dy="-0">QFLS</tspan><tspan font-size="4.71" dy="2.13">Loss</tspan></text>
<text x="194" y="414" font-family="Liberation Sans" font-size="7.6" font-weight="bold" font-style="normal" text-anchor="start" fill="#222" dominant-baseline="central" stroke="#222" stroke-width="0.18"><tspan dy="-0">QFLS</tspan><tspan font-size="4.71" dy="2.13">External</tspan></text>
<text x="194" y="433" font-family="Liberation Sans" font-size="7.6" font-weight="bold" font-style="normal" text-anchor="start" fill="#222" dominant-baseline="central" stroke="#222" stroke-width="0.18"><tspan dy="-0">QFLS</tspan><tspan font-size="4.71" dy="2.13">Loss</tspan></text>
<text x="145" y="463.2" font-family="Liberation Sans" font-size="6.8" font-weight="bold" font-style="normal" text-anchor="middle" fill="#222" dominant-baseline="central" transform="rotate(-90 145 463.2)" stroke="#222" stroke-width="0.18"><tspan dy="-0">CsPbI</tspan><tspan font-size="4.22" dy="1.9">2</tspan><tspan dy="-1.9">Br</tspan></text>
<text x="178" y="445" font-family="Liberation Sans" font-size="6.8" font-weight="bold" font-style="normal" text-anchor="middle" fill="#222" dominant-baseline="central" transform="rotate(-90 178 445)" stroke="#222" stroke-width="0.18"><tspan dy="-0">SnO</tspan><tspan font-size="4.22" dy="1.9">2</tspan></text>
<text x="208.8" y="454.6" font-family="Liberation Sans" font-size="6.8" font-weight="bold" font-style="normal" text-anchor="middle" fill="#222" dominant-baseline="central" transform="rotate(-90 208.8 454.6)"  stroke="#222" stroke-width="0.18">ITO</text>
<text x="107.4" y="438.7" font-family="Liberation Sans" font-size="5.2" font-weight="bold" font-style="normal" text-anchor="middle" fill="#222" dominant-baseline="central"  stroke="#222" stroke-width="0.18">CBO (eV)</text>
<line x1="84.4" y1="444.4" x2="94.9" y2="444.4" stroke="#3d6c9e" stroke-width="1.2" stroke-dasharray="3.6,3.2" />
<text x="95.9" y="444.4" font-family="Liberation Sans" font-size="4.8" font-weight="bold" font-style="normal" text-anchor="start" fill="#222" dominant-baseline="central"  stroke="#222" stroke-width="0.18">−0.5</text>
<line x1="108.4" y1="444.4" x2="118.4" y2="444.4" stroke="#3d6c9e" stroke-width="1.2" />
<text x="119.7" y="444.4" font-family="Liberation Sans" font-size="4.8" font-weight="bold" font-style="normal" text-anchor="start" fill="#222" dominant-baseline="central"  stroke="#222" stroke-width="0.18">−0.5</text>
<line x1="84.4" y1="449.95" x2="94.9" y2="449.95" stroke="#6a9fcb" stroke-width="1.2" stroke-dasharray="3.6,3.2" />
<text x="95.9" y="449.95" font-family="Liberation Sans" font-size="4.8" font-weight="bold" font-style="normal" text-anchor="start" fill="#222" dominant-baseline="central"  stroke="#222" stroke-width="0.18">−0.4</text>
<line x1="108.4" y1="449.95" x2="118.4" y2="449.95" stroke="#6a9fcb" stroke-width="1.2" />
<text x="119.7" y="449.95" font-family="Liberation Sans" font-size="4.8" font-weight="bold" font-style="normal" text-anchor="start" fill="#222" dominant-baseline="central"  stroke="#222" stroke-width="0.18">−0.4</text>
<line x1="84.4" y1="455.5" x2="94.9" y2="455.5" stroke="#a4cbe0" stroke-width="1.2" stroke-dasharray="3.6,3.2" />
<text x="95.9" y="455.5" font-family="Liberation Sans" font-size="4.8" font-weight="bold" font-style="normal" text-anchor="start" fill="#222" dominant-baseline="central"  stroke="#222" stroke-width="0.18">−0.3</text>
<line x1="108.4" y1="455.5" x2="118.4" y2="455.5" stroke="#a4cbe0" stroke-width="1.2" />
<text x="119.7" y="455.5" font-family="Liberation Sans" font-size="4.8" font-weight="bold" font-style="normal" text-anchor="start" fill="#222" dominant-baseline="central"  stroke="#222" stroke-width="0.18">−0.3</text>
<line x1="84.4" y1="461.05" x2="94.9" y2="461.05" stroke="#dce7ef" stroke-width="1.2" stroke-dasharray="3.6,3.2" />
<text x="95.9" y="461.05" font-family="Liberation Sans" font-size="4.8" font-weight="bold" font-style="normal" text-anchor="start" fill="#222" dominant-baseline="central"  stroke="#222" stroke-width="0.18">−0.2</text>
<line x1="108.4" y1="461.05" x2="118.4" y2="461.05" stroke="#dce7ef" stroke-width="1.2" />
<text x="119.7" y="461.05" font-family="Liberation Sans" font-size="4.8" font-weight="bold" font-style="normal" text-anchor="start" fill="#222" dominant-baseline="central"  stroke="#222" stroke-width="0.18">−0.2</text>
<line x1="84.4" y1="466.6" x2="94.9" y2="466.6" stroke="#f2e9e4" stroke-width="1.2" stroke-dasharray="3.6,3.2" />
<text x="95.9" y="466.6" font-family="Liberation Sans" font-size="4.8" font-weight="bold" font-style="normal" text-anchor="start" fill="#222" dominant-baseline="central"  stroke="#222" stroke-width="0.18">−0.1</text>
<line x1="108.4" y1="466.6" x2="118.4" y2="466.6" stroke="#f2e9e4" stroke-width="1.2" />
<text x="119.7" y="466.6" font-family="Liberation Sans" font-size="4.8" font-weight="bold" font-style="normal" text-anchor="start" fill="#222" dominant-baseline="central"  stroke="#222" stroke-width="0.18">−0.1</text>
<line x1="84.4" y1="472.15" x2="94.9" y2="472.15" stroke="#ecc0b2" stroke-width="1.2" stroke-dasharray="3.6,3.2" />
<text x="95.9" y="472.15" font-family="Liberation Sans" font-size="4.8" font-weight="bold" font-style="normal" text-anchor="start" fill="#222" dominant-baseline="central"  stroke="#222" stroke-width="0.18">0</text>
<line x1="108.4" y1="472.15" x2="118.4" y2="472.15" stroke="#ecc0b2" stroke-width="1.2" />
<text x="119.7" y="472.15" font-family="Liberation Sans" font-size="4.8" font-weight="bold" font-style="normal" text-anchor="start" fill="#222" dominant-baseline="central"  stroke="#222" stroke-width="0.18">0</text>
<line x1="84.4" y1="477.7" x2="94.9" y2="477.7" stroke="#d9746a" stroke-width="1.2" stroke-dasharray="3.6,3.2" />
<text x="95.9" y="477.7" font-family="Liberation Sans" font-size="4.8" font-weight="bold" font-style="normal" text-anchor="start" fill="#222" dominant-baseline="central"  stroke="#222" stroke-width="0.18">+0.1</text>
<line x1="108.4" y1="477.7" x2="118.4" y2="477.7" stroke="#d9746a" stroke-width="1.2" />
<text x="119.7" y="477.7" font-family="Liberation Sans" font-size="4.8" font-weight="bold" font-style="normal" text-anchor="start" fill="#222" dominant-baseline="central"  stroke="#222" stroke-width="0.18">+0.1</text>
<line x1="84.4" y1="483.25" x2="94.9" y2="483.25" stroke="#b04a4c" stroke-width="1.2" stroke-dasharray="3.6,3.2" />
<text x="95.9" y="483.25" font-family="Liberation Sans" font-size="4.8" font-weight="bold" font-style="normal" text-anchor="start" fill="#222" dominant-baseline="central"  stroke="#222" stroke-width="0.18">+0.2</text>
<line x1="108.4" y1="483.25" x2="118.4" y2="483.25" stroke="#b04a4c" stroke-width="1.2" />
<text x="119.7" y="483.25" font-family="Liberation Sans" font-size="4.8" font-weight="bold" font-style="normal" text-anchor="start" fill="#222" dominant-baseline="central"  stroke="#222" stroke-width="0.18">+0.2</text>
<rect x="280.6" y="356.4" width="165.8" height="133.6" fill="url(#hG)" />
<rect x="282.96" y="384.63" width="16" height="74.16" fill="#d5737e" />
<rect x="282.96" y="458.8" width="16" height="8.7" fill="#52aed9" />
<rect x="282.96" y="470.5" width="16" height="19.5" fill="#52aed9" />
<rect x="303.69" y="384.5" width="16" height="61.21" fill="#d5737e" />
<rect x="303.69" y="445.72" width="16" height="21.78" fill="#52aed9" />
<rect x="303.69" y="470.5" width="16" height="19.5" fill="#52aed9" />
<rect x="324.41" y="384.63" width="16" height="48.13" fill="#d5737e" />
<rect x="324.41" y="432.77" width="16" height="34.73" fill="#52aed9" />
<rect x="324.41" y="470.5" width="16" height="19.5" fill="#52aed9" />
<rect x="345.14" y="384.63" width="16" height="36.36" fill="#d5737e" />
<rect x="345.14" y="421" width="16" height="46.5" fill="#52aed9" />
<rect x="345.14" y="470.5" width="16" height="19.5" fill="#52aed9" />
<rect x="365.86" y="384.76" width="16" height="32.18" fill="#d5737e" />
<rect x="365.86" y="416.94" width="16" height="50.56" fill="#52aed9" />
<rect x="365.86" y="470.5" width="16" height="19.5" fill="#52aed9" />
<rect x="386.59" y="384.89" width="16" height="31.92" fill="#d5737e" />
<rect x="386.59" y="416.81" width="16" height="50.69" fill="#52aed9" />
<rect x="386.59" y="470.5" width="16" height="19.5" fill="#52aed9" />
<rect x="407.31" y="384.89" width="16" height="31.92" fill="#d5737e" />
<rect x="407.31" y="416.81" width="16" height="50.69" fill="#52aed9" />
<rect x="407.31" y="470.5" width="16" height="19.5" fill="#52aed9" />
<rect x="428.04" y="385.55" width="16" height="32.18" fill="#d5737e" />
<rect x="428.04" y="417.73" width="16" height="49.77" fill="#52aed9" />
<rect x="428.04" y="470.5" width="16" height="19.5" fill="#52aed9" />
<rect x="280.6" y="467.7" width="165.8" height="2.7" fill="#f0dae6" />
<text x="290.96" y="422.2" font-family="Liberation Sans" font-size="7.1" font-weight="bold" font-style="normal" text-anchor="middle" fill="#ffffff" dominant-baseline="central" fill-opacity="0.9" stroke="#ffffff" stroke-opacity="0.5" stroke-width="0.15">0.567</text>
<text x="290.96" y="473.2" font-family="Liberation Sans" font-size="7.1" font-weight="bold" font-style="normal" text-anchor="middle" fill="#ffffff" dominant-baseline="central" fill-opacity="0.9" stroke="#ffffff" stroke-opacity="0.5" stroke-width="0.15">0.867</text>
<text x="311.69" y="415.6" font-family="Liberation Sans" font-size="7.1" font-weight="bold" font-style="normal" text-anchor="middle" fill="#ffffff" dominant-baseline="central" fill-opacity="0.9" stroke="#ffffff" stroke-opacity="0.5" stroke-width="0.15">0.468</text>
<text x="311.69" y="466.6" font-family="Liberation Sans" font-size="7.1" font-weight="bold" font-style="normal" text-anchor="middle" fill="#ffffff" dominant-baseline="central" fill-opacity="0.9" stroke="#ffffff" stroke-opacity="0.5" stroke-width="0.15">0.967</text>
<text x="332.41" y="410" font-family="Liberation Sans" font-size="7.1" font-weight="bold" font-style="normal" text-anchor="middle" fill="#ffffff" dominant-baseline="central" fill-opacity="0.9" stroke="#ffffff" stroke-opacity="0.5" stroke-width="0.15">0.368</text>
<text x="332.41" y="460.7" font-family="Liberation Sans" font-size="7.1" font-weight="bold" font-style="normal" text-anchor="middle" fill="#ffffff" dominant-baseline="central" fill-opacity="0.9" stroke="#ffffff" stroke-opacity="0.5" stroke-width="0.15">1.066</text>
<text x="353.14" y="403.4" font-family="Liberation Sans" font-size="7.1" font-weight="bold" font-style="normal" text-anchor="middle" fill="#ffffff" dominant-baseline="central" fill-opacity="0.9" stroke="#ffffff" stroke-opacity="0.5" stroke-width="0.15">0.278</text>
<text x="353.14" y="454" font-family="Liberation Sans" font-size="7.1" font-weight="bold" font-style="normal" text-anchor="middle" fill="#ffffff" dominant-baseline="central" fill-opacity="0.9" stroke="#ffffff" stroke-opacity="0.5" stroke-width="0.15">1.156</text>
<text x="373.86" y="401.8" font-family="Liberation Sans" font-size="7.1" font-weight="bold" font-style="normal" text-anchor="middle" fill="#ffffff" dominant-baseline="central" fill-opacity="0.9" stroke="#ffffff" stroke-opacity="0.5" stroke-width="0.15">0.246</text>
<text x="373.86" y="452.4" font-family="Liberation Sans" font-size="7.1" font-weight="bold" font-style="normal" text-anchor="middle" fill="#ffffff" dominant-baseline="central" fill-opacity="0.9" stroke="#ffffff" stroke-opacity="0.5" stroke-width="0.15">1.187</text>
<text x="394.59" y="401.8" font-family="Liberation Sans" font-size="7.1" font-weight="bold" font-style="normal" text-anchor="middle" fill="#ffffff" dominant-baseline="central" fill-opacity="0.9" stroke="#ffffff" stroke-opacity="0.5" stroke-width="0.15">0.244</text>
<text x="394.59" y="452.4" font-family="Liberation Sans" font-size="7.1" font-weight="bold" font-style="normal" text-anchor="middle" fill="#ffffff" dominant-baseline="central" fill-opacity="0.9" stroke="#ffffff" stroke-opacity="0.5" stroke-width="0.15">1.188</text>
<text x="415.31" y="401.8" font-family="Liberation Sans" font-size="7.1" font-weight="bold" font-style="normal" text-anchor="middle" fill="#ffffff" dominant-baseline="central" fill-opacity="0.9" stroke="#ffffff" stroke-opacity="0.5" stroke-width="0.15">0.244</text>
<text x="415.31" y="452.4" font-family="Liberation Sans" font-size="7.1" font-weight="bold" font-style="normal" text-anchor="middle" fill="#ffffff" dominant-baseline="central" fill-opacity="0.9" stroke="#ffffff" stroke-opacity="0.5" stroke-width="0.15">1.188</text>
<text x="436.04" y="401.8" font-family="Liberation Sans" font-size="7.1" font-weight="bold" font-style="normal" text-anchor="middle" fill="#ffffff" dominant-baseline="central" fill-opacity="0.9" stroke="#ffffff" stroke-opacity="0.5" stroke-width="0.15">0.246</text>
<text x="436.04" y="452.4" font-family="Liberation Sans" font-size="7.1" font-weight="bold" font-style="normal" text-anchor="middle" fill="#ffffff" dominant-baseline="central" fill-opacity="0.9" stroke="#ffffff" stroke-opacity="0.5" stroke-width="0.15">1.181</text>
<rect x="280.6" y="356.4" width="165.8" height="133.6" fill="none" stroke="#333" stroke-width="1.3"/>
<rect x="278.6" y="467.8" width="4" height="2.4" fill="#ffffff" />
<line x1="278.1" y1="469.5" x2="283.1" y2="466.5" stroke="#333" stroke-width="0.8" />
<line x1="278.1" y1="471.5" x2="283.1" y2="468.5" stroke="#333" stroke-width="0.8" />
<rect x="444.4" y="467.8" width="4" height="2.4" fill="#ffffff" />
<line x1="280.6" y1="454.48" x2="282.8" y2="454.48" stroke="#333" stroke-width="0.9" />
<line x1="446.4" y1="454.48" x2="444.2" y2="454.48" stroke="#333" stroke-width="0.9" />
<text x="277.4" y="454.48" font-family="Liberation Sans" font-size="7.2" font-weight="bold" font-style="normal" text-anchor="end" fill="#222" dominant-baseline="central"  stroke="#222" stroke-width="0.18">0.9</text>
<line x1="280.6" y1="441.4" x2="282.8" y2="441.4" stroke="#333" stroke-width="0.9" />
<line x1="446.4" y1="441.4" x2="444.2" y2="441.4" stroke="#333" stroke-width="0.9" />
<text x="277.4" y="441.4" font-family="Liberation Sans" font-size="7.2" font-weight="bold" font-style="normal" text-anchor="end" fill="#222" dominant-baseline="central"  stroke="#222" stroke-width="0.18">1.0</text>
<line x1="280.6" y1="428.32" x2="282.8" y2="428.32" stroke="#333" stroke-width="0.9" />
<line x1="446.4" y1="428.32" x2="444.2" y2="428.32" stroke="#333" stroke-width="0.9" />
<text x="277.4" y="428.32" font-family="Liberation Sans" font-size="7.2" font-weight="bold" font-style="normal" text-anchor="end" fill="#222" dominant-baseline="central"  stroke="#222" stroke-width="0.18">1.1</text>
<line x1="280.6" y1="415.24" x2="282.8" y2="415.24" stroke="#333" stroke-width="0.9" />
<line x1="446.4" y1="415.24" x2="444.2" y2="415.24" stroke="#333" stroke-width="0.9" />
<text x="277.4" y="415.24" font-family="Liberation Sans" font-size="7.2" font-weight="bold" font-style="normal" text-anchor="end" fill="#222" dominant-baseline="central"  stroke="#222" stroke-width="0.18">1.2</text>
<line x1="280.6" y1="402.16" x2="282.8" y2="402.16" stroke="#333" stroke-width="0.9" />
<line x1="446.4" y1="402.16" x2="444.2" y2="402.16" stroke="#333" stroke-width="0.9" />
<text x="277.4" y="402.16" font-family="Liberation Sans" font-size="7.2" font-weight="bold" font-style="normal" text-anchor="end" fill="#222" dominant-baseline="central"  stroke="#222" stroke-width="0.18">1.3</text>
<line x1="280.6" y1="389.08" x2="282.8" y2="389.08" stroke="#333" stroke-width="0.9" />
<line x1="446.4" y1="389.08" x2="444.2" y2="389.08" stroke="#333" stroke-width="0.9" />
<text x="277.4" y="389.08" font-family="Liberation Sans" font-size="7.2" font-weight="bold" font-style="normal" text-anchor="end" fill="#222" dominant-baseline="central"  stroke="#222" stroke-width="0.18">1.4</text>
<line x1="280.6" y1="376" x2="282.8" y2="376" stroke="#333" stroke-width="0.9" />
<line x1="446.4" y1="376" x2="444.2" y2="376" stroke="#333" stroke-width="0.9" />
<text x="277.4" y="376" font-family="Liberation Sans" font-size="7.2" font-weight="bold" font-style="normal" text-anchor="end" fill="#222" dominant-baseline="central"  stroke="#222" stroke-width="0.18">1.5</text>
<line x1="280.6" y1="362.92" x2="282.8" y2="362.92" stroke="#333" stroke-width="0.9" />
<line x1="446.4" y1="362.92" x2="444.2" y2="362.92" stroke="#333" stroke-width="0.9" />
<text x="277.4" y="362.92" font-family="Liberation Sans" font-size="7.2" font-weight="bold" font-style="normal" text-anchor="end" fill="#222" dominant-baseline="central"  stroke="#222" stroke-width="0.18">1.6</text>
<line x1="280.6" y1="461.02" x2="281.9" y2="461.02" stroke="#333" stroke-width="0.8" />
<line x1="446.4" y1="461.02" x2="445.1" y2="461.02" stroke="#333" stroke-width="0.8" />
<line x1="280.6" y1="447.94" x2="281.9" y2="447.94" stroke="#333" stroke-width="0.8" />
<line x1="446.4" y1="447.94" x2="445.1" y2="447.94" stroke="#333" stroke-width="0.8" />
<line x1="280.6" y1="434.86" x2="281.9" y2="434.86" stroke="#333" stroke-width="0.8" />
<line x1="446.4" y1="434.86" x2="445.1" y2="434.86" stroke="#333" stroke-width="0.8" />
<line x1="280.6" y1="421.78" x2="281.9" y2="421.78" stroke="#333" stroke-width="0.8" />
<line x1="446.4" y1="421.78" x2="445.1" y2="421.78" stroke="#333" stroke-width="0.8" />
<line x1="280.6" y1="408.7" x2="281.9" y2="408.7" stroke="#333" stroke-width="0.8" />
<line x1="446.4" y1="408.7" x2="445.1" y2="408.7" stroke="#333" stroke-width="0.8" />
<line x1="280.6" y1="395.62" x2="281.9" y2="395.62" stroke="#333" stroke-width="0.8" />
<line x1="446.4" y1="395.62" x2="445.1" y2="395.62" stroke="#333" stroke-width="0.8" />
<line x1="280.6" y1="382.54" x2="281.9" y2="382.54" stroke="#333" stroke-width="0.8" />
<line x1="446.4" y1="382.54" x2="445.1" y2="382.54" stroke="#333" stroke-width="0.8" />
<line x1="280.6" y1="369.46" x2="281.9" y2="369.46" stroke="#333" stroke-width="0.8" />
<line x1="446.4" y1="369.46" x2="445.1" y2="369.46" stroke="#333" stroke-width="0.8" />
<line x1="280.6" y1="489.3" x2="282.8" y2="489.3" stroke="#333" stroke-width="0.9" />
<line x1="446.4" y1="489.3" x2="444.2" y2="489.3" stroke="#333" stroke-width="0.9" />
<text x="277.4" y="489.3" font-family="Liberation Sans" font-size="7.2" font-weight="bold" font-style="normal" text-anchor="end" fill="#222" dominant-baseline="central"  stroke="#222" stroke-width="0.18">0.0</text>
<line x1="280.6" y1="476.5" x2="282.8" y2="476.5" stroke="#333" stroke-width="0.9" />
<line x1="446.4" y1="476.5" x2="444.2" y2="476.5" stroke="#333" stroke-width="0.9" />
<text x="277.4" y="476.5" font-family="Liberation Sans" font-size="7.2" font-weight="bold" font-style="normal" text-anchor="end" fill="#222" dominant-baseline="central"  stroke="#222" stroke-width="0.18">0.1</text>
<line x1="280.6" y1="482.9" x2="281.9" y2="482.9" stroke="#333" stroke-width="0.8" />
<line x1="446.4" y1="482.9" x2="445.1" y2="482.9" stroke="#333" stroke-width="0.8" />
<line x1="290.96" y1="490" x2="290.96" y2="487.8" stroke="#333" stroke-width="0.9" />
<line x1="290.96" y1="356.4" x2="290.96" y2="358.6" stroke="#333" stroke-width="0.9" />
<text x="290.96" y="497.8" font-family="Liberation Sans" font-size="7.2" font-weight="bold" font-style="normal" text-anchor="middle" fill="#222" dominant-baseline="central"  stroke="#222" stroke-width="0.18">0.2</text>
<line x1="301.33" y1="490" x2="301.33" y2="488.7" stroke="#333" stroke-width="0.8" />
<line x1="301.33" y1="356.4" x2="301.33" y2="357.7" stroke="#333" stroke-width="0.8" />
<line x1="311.69" y1="490" x2="311.69" y2="487.8" stroke="#333" stroke-width="0.9" />
<line x1="311.69" y1="356.4" x2="311.69" y2="358.6" stroke="#333" stroke-width="0.9" />
<text x="311.69" y="497.8" font-family="Liberation Sans" font-size="7.2" font-weight="bold" font-style="normal" text-anchor="middle" fill="#222" dominant-baseline="central"  stroke="#222" stroke-width="0.18">0.1</text>
<line x1="322.05" y1="490" x2="322.05" y2="488.7" stroke="#333" stroke-width="0.8" />
<line x1="322.05" y1="356.4" x2="322.05" y2="357.7" stroke="#333" stroke-width="0.8" />
<line x1="332.41" y1="490" x2="332.41" y2="487.8" stroke="#333" stroke-width="0.9" />
<line x1="332.41" y1="356.4" x2="332.41" y2="358.6" stroke="#333" stroke-width="0.9" />
<text x="332.41" y="497.8" font-family="Liberation Sans" font-size="7.2" font-weight="bold" font-style="normal" text-anchor="middle" fill="#222" dominant-baseline="central"  stroke="#222" stroke-width="0.18">0</text>
<line x1="342.77" y1="490" x2="342.77" y2="488.7" stroke="#333" stroke-width="0.8" />
<line x1="342.77" y1="356.4" x2="342.77" y2="357.7" stroke="#333" stroke-width="0.8" />
<line x1="353.14" y1="490" x2="353.14" y2="487.8" stroke="#333" stroke-width="0.9" />
<line x1="353.14" y1="356.4" x2="353.14" y2="358.6" stroke="#333" stroke-width="0.9" />
<text x="353.14" y="497.8" font-family="Liberation Sans" font-size="7.2" font-weight="bold" font-style="normal" text-anchor="middle" fill="#222" dominant-baseline="central"  stroke="#222" stroke-width="0.18">−0.1</text>
<line x1="363.5" y1="490" x2="363.5" y2="488.7" stroke="#333" stroke-width="0.8" />
<line x1="363.5" y1="356.4" x2="363.5" y2="357.7" stroke="#333" stroke-width="0.8" />
<line x1="373.86" y1="490" x2="373.86" y2="487.8" stroke="#333" stroke-width="0.9" />
<line x1="373.86" y1="356.4" x2="373.86" y2="358.6" stroke="#333" stroke-width="0.9" />
<text x="373.86" y="497.8" font-family="Liberation Sans" font-size="7.2" font-weight="bold" font-style="normal" text-anchor="middle" fill="#222" dominant-baseline="central"  stroke="#222" stroke-width="0.18">−0.2</text>
<line x1="384.23" y1="490" x2="384.23" y2="488.7" stroke="#333" stroke-width="0.8" />
<line x1="384.23" y1="356.4" x2="384.23" y2="357.7" stroke="#333" stroke-width="0.8" />
<line x1="394.59" y1="490" x2="394.59" y2="487.8" stroke="#333" stroke-width="0.9" />
<line x1="394.59" y1="356.4" x2="394.59" y2="358.6" stroke="#333" stroke-width="0.9" />
<text x="394.59" y="497.8" font-family="Liberation Sans" font-size="7.2" font-weight="bold" font-style="normal" text-anchor="middle" fill="#222" dominant-baseline="central"  stroke="#222" stroke-width="0.18">−0.3</text>
<line x1="404.95" y1="490" x2="404.95" y2="488.7" stroke="#333" stroke-width="0.8" />
<line x1="404.95" y1="356.4" x2="404.95" y2="357.7" stroke="#333" stroke-width="0.8" />
<line x1="415.31" y1="490" x2="415.31" y2="487.8" stroke="#333" stroke-width="0.9" />
<line x1="415.31" y1="356.4" x2="415.31" y2="358.6" stroke="#333" stroke-width="0.9" />
<text x="415.31" y="497.8" font-family="Liberation Sans" font-size="7.2" font-weight="bold" font-style="normal" text-anchor="middle" fill="#222" dominant-baseline="central"  stroke="#222" stroke-width="0.18">−0.4</text>
<line x1="425.67" y1="490" x2="425.67" y2="488.7" stroke="#333" stroke-width="0.8" />
<line x1="425.67" y1="356.4" x2="425.67" y2="357.7" stroke="#333" stroke-width="0.8" />
<line x1="436.04" y1="490" x2="436.04" y2="487.8" stroke="#333" stroke-width="0.9" />
<line x1="436.04" y1="356.4" x2="436.04" y2="358.6" stroke="#333" stroke-width="0.9" />
<text x="436.04" y="497.8" font-family="Liberation Sans" font-size="7.2" font-weight="bold" font-style="normal" text-anchor="middle" fill="#222" dominant-baseline="central"  stroke="#222" stroke-width="0.18">−0.5</text>
<text x="359" y="506.7" font-family="Liberation Sans" font-size="8.2" font-weight="bold" font-style="normal" text-anchor="middle" fill="#222" dominant-baseline="central"  stroke="#222" stroke-width="0.18">CBO (eV)</text>
<text x="260.4" y="424.2" font-family="Liberation Sans" font-size="8.2" font-weight="bold" font-style="normal" text-anchor="middle" fill="#222" dominant-baseline="central" transform="rotate(-90 260.4 424.2)" stroke="#222" stroke-width="0.18"><tspan dy="-0">QFLS</tspan><tspan font-size="5.9" dy="2.3">Internal</tspan><tspan dy="-2.3"> (eV)</tspan></text>
<text x="253" y="356.4" font-family="Liberation Sans" font-size="12" font-weight="normal" font-style="normal" text-anchor="start" fill="#333333" dominant-baseline="central" stroke="#333333" stroke-width="0.4">(h)</text>
<text x="360" y="367.2" font-family="Liberation Sans" font-size="6.7" font-weight="bold" font-style="normal" text-anchor="start" fill="#d2444f" dominant-baseline="central" stroke="#d2444f" stroke-width="0.18"><tspan font-style="italic" dy="-0">N</tspan><tspan font-size="4.02" dy="1.88">t</tspan><tspan font-size="4.02" dy="-4.22">ETL/PVSK</tspan><tspan dy="2.34"> =1 × 10</tspan><tspan font-size="4.02" dy="-2.34">10</tspan><tspan dy="2.34">cm</tspan><tspan font-size="4.02" dy="-2.34">−2</tspan></text>
<rect x="286.3" y="362.7" width="15.2" height="7" fill="#d5737e" />
<rect x="286.3" y="373" width="15.2" height="7" fill="#52aed9" />
<text x="303.3" y="366.2" font-family="Liberation Sans" font-size="7.4" font-weight="bold" font-style="normal" text-anchor="start" fill="#222" dominant-baseline="central" stroke="#222" stroke-width="0.18"><tspan dy="-0">QFLS</tspan><tspan font-size="4.59" dy="2.07">Loss</tspan></text>
<text x="303.3" y="376.5" font-family="Liberation Sans" font-size="7.4" font-weight="bold" font-style="normal" text-anchor="start" fill="#222" dominant-baseline="central" stroke="#222" stroke-width="0.18"><tspan dy="-0">QFLS</tspan><tspan font-size="4.59" dy="2.07">External</tspan></text>
<rect x="485.7" y="356.4" width="166.4" height="133.6" fill="url(#iG)" />
<rect x="488.1" y="384.63" width="16" height="74.16" fill="#d5737e" />
<rect x="488.1" y="458.8" width="16" height="8.7" fill="#52aed9" />
<rect x="488.1" y="470.5" width="16" height="19.5" fill="#52aed9" />
<rect x="508.9" y="384.5" width="16" height="61.21" fill="#d5737e" />
<rect x="508.9" y="445.72" width="16" height="21.78" fill="#52aed9" />
<rect x="508.9" y="470.5" width="16" height="19.5" fill="#52aed9" />
<rect x="529.7" y="384.63" width="16" height="48.13" fill="#d5737e" />
<rect x="529.7" y="432.77" width="16" height="34.73" fill="#52aed9" />
<rect x="529.7" y="470.5" width="16" height="19.5" fill="#52aed9" />
<rect x="550.5" y="384.76" width="16" height="36.36" fill="#d5737e" />
<rect x="550.5" y="421.13" width="16" height="46.37" fill="#52aed9" />
<rect x="550.5" y="470.5" width="16" height="19.5" fill="#52aed9" />
<rect x="571.3" y="386.59" width="16" height="31.65" fill="#d5737e" />
<rect x="571.3" y="418.25" width="16" height="49.25" fill="#52aed9" />
<rect x="571.3" y="470.5" width="16" height="19.5" fill="#52aed9" />
<rect x="592.1" y="391.43" width="16" height="29.56" fill="#d5737e" />
<rect x="592.1" y="421" width="16" height="46.5" fill="#52aed9" />
<rect x="592.1" y="470.5" width="16" height="19.5" fill="#52aed9" />
<rect x="612.9" y="392.61" width="16" height="29.17" fill="#d5737e" />
<rect x="612.9" y="421.78" width="16" height="45.72" fill="#52aed9" />
<rect x="612.9" y="470.5" width="16" height="19.5" fill="#52aed9" />
<rect x="633.7" y="393" width="16" height="32.83" fill="#d5737e" />
<rect x="633.7" y="425.83" width="16" height="41.67" fill="#52aed9" />
<rect x="633.7" y="470.5" width="16" height="19.5" fill="#52aed9" />
<rect x="485.7" y="467.7" width="166.4" height="2.7" fill="#cce6f4" />
<text x="496.1" y="422.4" font-family="Liberation Sans" font-size="7.1" font-weight="bold" font-style="normal" text-anchor="middle" fill="#ffffff" dominant-baseline="central" fill-opacity="0.9" stroke="#ffffff" stroke-opacity="0.5" stroke-width="0.15">0.567</text>
<text x="496.1" y="472.8" font-family="Liberation Sans" font-size="7.1" font-weight="bold" font-style="normal" text-anchor="middle" fill="#ffffff" dominant-baseline="central" fill-opacity="0.9" stroke="#ffffff" stroke-opacity="0.5" stroke-width="0.15">0.867</text>
<text x="516.9" y="416.2" font-family="Liberation Sans" font-size="7.1" font-weight="bold" font-style="normal" text-anchor="middle" fill="#ffffff" dominant-baseline="central" fill-opacity="0.9" stroke="#ffffff" stroke-opacity="0.5" stroke-width="0.15">0.468</text>
<text x="516.9" y="465.3" font-family="Liberation Sans" font-size="7.1" font-weight="bold" font-style="normal" text-anchor="middle" fill="#ffffff" dominant-baseline="central" fill-opacity="0.9" stroke="#ffffff" stroke-opacity="0.5" stroke-width="0.15">0.967</text>
<text x="537.7" y="409.4" font-family="Liberation Sans" font-size="7.1" font-weight="bold" font-style="normal" text-anchor="middle" fill="#ffffff" dominant-baseline="central" fill-opacity="0.9" stroke="#ffffff" stroke-opacity="0.5" stroke-width="0.15">0.368</text>
<text x="537.7" y="460.1" font-family="Liberation Sans" font-size="7.1" font-weight="bold" font-style="normal" text-anchor="middle" fill="#ffffff" dominant-baseline="central" fill-opacity="0.9" stroke="#ffffff" stroke-opacity="0.5" stroke-width="0.15">1.066</text>
<text x="558.5" y="403.6" font-family="Liberation Sans" font-size="7.1" font-weight="bold" font-style="normal" text-anchor="middle" fill="#ffffff" dominant-baseline="central" fill-opacity="0.9" stroke="#ffffff" stroke-opacity="0.5" stroke-width="0.15">0.278</text>
<text x="558.5" y="454" font-family="Liberation Sans" font-size="7.1" font-weight="bold" font-style="normal" text-anchor="middle" fill="#ffffff" dominant-baseline="central" fill-opacity="0.9" stroke="#ffffff" stroke-opacity="0.5" stroke-width="0.15">1.155</text>
<text x="579.3" y="402.5" font-family="Liberation Sans" font-size="7.1" font-weight="bold" font-style="normal" text-anchor="middle" fill="#ffffff" dominant-baseline="central" fill-opacity="0.9" stroke="#ffffff" stroke-opacity="0.5" stroke-width="0.15">0.242</text>
<text x="579.3" y="452.6" font-family="Liberation Sans" font-size="7.1" font-weight="bold" font-style="normal" text-anchor="middle" fill="#ffffff" dominant-baseline="central" fill-opacity="0.9" stroke="#ffffff" stroke-opacity="0.5" stroke-width="0.15">1.177</text>
<text x="600.1" y="407.7" font-family="Liberation Sans" font-size="7.1" font-weight="bold" font-style="normal" text-anchor="middle" fill="#ffffff" dominant-baseline="central" fill-opacity="0.9" stroke="#ffffff" stroke-opacity="0.5" stroke-width="0.15">0.226</text>
<text x="600.1" y="454" font-family="Liberation Sans" font-size="7.1" font-weight="bold" font-style="normal" text-anchor="middle" fill="#ffffff" dominant-baseline="central" fill-opacity="0.9" stroke="#ffffff" stroke-opacity="0.5" stroke-width="0.15">1.156</text>
<text x="620.9" y="408.7" font-family="Liberation Sans" font-size="7.1" font-weight="bold" font-style="normal" text-anchor="middle" fill="#ffffff" dominant-baseline="central" fill-opacity="0.9" stroke="#ffffff" stroke-opacity="0.5" stroke-width="0.15">0.223</text>
<text x="620.9" y="454.5" font-family="Liberation Sans" font-size="7.1" font-weight="bold" font-style="normal" text-anchor="middle" fill="#ffffff" dominant-baseline="central" fill-opacity="0.9" stroke="#ffffff" stroke-opacity="0.5" stroke-width="0.15">1.150</text>
<text x="641.7" y="410.4" font-family="Liberation Sans" font-size="7.1" font-weight="bold" font-style="normal" text-anchor="middle" fill="#ffffff" dominant-baseline="central" fill-opacity="0.9" stroke="#ffffff" stroke-opacity="0.5" stroke-width="0.15">0.251</text>
<text x="641.7" y="456.7" font-family="Liberation Sans" font-size="7.1" font-weight="bold" font-style="normal" text-anchor="middle" fill="#ffffff" dominant-baseline="central" fill-opacity="0.9" stroke="#ffffff" stroke-opacity="0.5" stroke-width="0.15">1.119</text>
<rect x="485.7" y="356.4" width="166.4" height="133.6" fill="none" stroke="#333" stroke-width="1.3"/>
<rect x="483.7" y="467.8" width="4" height="2.4" fill="#ffffff" />
<line x1="483.2" y1="469.5" x2="488.2" y2="466.5" stroke="#333" stroke-width="0.8" />
<line x1="483.2" y1="471.5" x2="488.2" y2="468.5" stroke="#333" stroke-width="0.8" />
<rect x="650.1" y="467.8" width="4" height="2.4" fill="#ffffff" />
<line x1="485.7" y1="454.48" x2="487.9" y2="454.48" stroke="#333" stroke-width="0.9" />
<line x1="652.1" y1="454.48" x2="649.9" y2="454.48" stroke="#333" stroke-width="0.9" />
<text x="482.5" y="454.48" font-family="Liberation Sans" font-size="7.2" font-weight="bold" font-style="normal" text-anchor="end" fill="#222" dominant-baseline="central"  stroke="#222" stroke-width="0.18">0.9</text>
<line x1="485.7" y1="441.4" x2="487.9" y2="441.4" stroke="#333" stroke-width="0.9" />
<line x1="652.1" y1="441.4" x2="649.9" y2="441.4" stroke="#333" stroke-width="0.9" />
<text x="482.5" y="441.4" font-family="Liberation Sans" font-size="7.2" font-weight="bold" font-style="normal" text-anchor="end" fill="#222" dominant-baseline="central"  stroke="#222" stroke-width="0.18">1.0</text>
<line x1="485.7" y1="428.32" x2="487.9" y2="428.32" stroke="#333" stroke-width="0.9" />
<line x1="652.1" y1="428.32" x2="649.9" y2="428.32" stroke="#333" stroke-width="0.9" />
<text x="482.5" y="428.32" font-family="Liberation Sans" font-size="7.2" font-weight="bold" font-style="normal" text-anchor="end" fill="#222" dominant-baseline="central"  stroke="#222" stroke-width="0.18">1.1</text>
<line x1="485.7" y1="415.24" x2="487.9" y2="415.24" stroke="#333" stroke-width="0.9" />
<line x1="652.1" y1="415.24" x2="649.9" y2="415.24" stroke="#333" stroke-width="0.9" />
<text x="482.5" y="415.24" font-family="Liberation Sans" font-size="7.2" font-weight="bold" font-style="normal" text-anchor="end" fill="#222" dominant-baseline="central"  stroke="#222" stroke-width="0.18">1.2</text>
<line x1="485.7" y1="402.16" x2="487.9" y2="402.16" stroke="#333" stroke-width="0.9" />
<line x1="652.1" y1="402.16" x2="649.9" y2="402.16" stroke="#333" stroke-width="0.9" />
<text x="482.5" y="402.16" font-family="Liberation Sans" font-size="7.2" font-weight="bold" font-style="normal" text-anchor="end" fill="#222" dominant-baseline="central"  stroke="#222" stroke-width="0.18">1.3</text>
<line x1="485.7" y1="389.08" x2="487.9" y2="389.08" stroke="#333" stroke-width="0.9" />
<line x1="652.1" y1="389.08" x2="649.9" y2="389.08" stroke="#333" stroke-width="0.9" />
<text x="482.5" y="389.08" font-family="Liberation Sans" font-size="7.2" font-weight="bold" font-style="normal" text-anchor="end" fill="#222" dominant-baseline="central"  stroke="#222" stroke-width="0.18">1.4</text>
<line x1="485.7" y1="376" x2="487.9" y2="376" stroke="#333" stroke-width="0.9" />
<line x1="652.1" y1="376" x2="649.9" y2="376" stroke="#333" stroke-width="0.9" />
<text x="482.5" y="376" font-family="Liberation Sans" font-size="7.2" font-weight="bold" font-style="normal" text-anchor="end" fill="#222" dominant-baseline="central"  stroke="#222" stroke-width="0.18">1.5</text>
<line x1="485.7" y1="362.92" x2="487.9" y2="362.92" stroke="#333" stroke-width="0.9" />
<line x1="652.1" y1="362.92" x2="649.9" y2="362.92" stroke="#333" stroke-width="0.9" />
<text x="482.5" y="362.92" font-family="Liberation Sans" font-size="7.2" font-weight="bold" font-style="normal" text-anchor="end" fill="#222" dominant-baseline="central"  stroke="#222" stroke-width="0.18">1.6</text>
<line x1="485.7" y1="461.02" x2="487" y2="461.02" stroke="#333" stroke-width="0.8" />
<line x1="652.1" y1="461.02" x2="650.8" y2="461.02" stroke="#333" stroke-width="0.8" />
<line x1="485.7" y1="447.94" x2="487" y2="447.94" stroke="#333" stroke-width="0.8" />
<line x1="652.1" y1="447.94" x2="650.8" y2="447.94" stroke="#333" stroke-width="0.8" />
<line x1="485.7" y1="434.86" x2="487" y2="434.86" stroke="#333" stroke-width="0.8" />
<line x1="652.1" y1="434.86" x2="650.8" y2="434.86" stroke="#333" stroke-width="0.8" />
<line x1="485.7" y1="421.78" x2="487" y2="421.78" stroke="#333" stroke-width="0.8" />
<line x1="652.1" y1="421.78" x2="650.8" y2="421.78" stroke="#333" stroke-width="0.8" />
<line x1="485.7" y1="408.7" x2="487" y2="408.7" stroke="#333" stroke-width="0.8" />
<line x1="652.1" y1="408.7" x2="650.8" y2="408.7" stroke="#333" stroke-width="0.8" />
<line x1="485.7" y1="395.62" x2="487" y2="395.62" stroke="#333" stroke-width="0.8" />
<line x1="652.1" y1="395.62" x2="650.8" y2="395.62" stroke="#333" stroke-width="0.8" />
<line x1="485.7" y1="382.54" x2="487" y2="382.54" stroke="#333" stroke-width="0.8" />
<line x1="652.1" y1="382.54" x2="650.8" y2="382.54" stroke="#333" stroke-width="0.8" />
<line x1="485.7" y1="369.46" x2="487" y2="369.46" stroke="#333" stroke-width="0.8" />
<line x1="652.1" y1="369.46" x2="650.8" y2="369.46" stroke="#333" stroke-width="0.8" />
<line x1="485.7" y1="489.3" x2="487.9" y2="489.3" stroke="#333" stroke-width="0.9" />
<line x1="652.1" y1="489.3" x2="649.9" y2="489.3" stroke="#333" stroke-width="0.9" />
<text x="482.5" y="489.3" font-family="Liberation Sans" font-size="7.2" font-weight="bold" font-style="normal" text-anchor="end" fill="#222" dominant-baseline="central"  stroke="#222" stroke-width="0.18">0.0</text>
<line x1="485.7" y1="476.5" x2="487.9" y2="476.5" stroke="#333" stroke-width="0.9" />
<line x1="652.1" y1="476.5" x2="649.9" y2="476.5" stroke="#333" stroke-width="0.9" />
<text x="482.5" y="476.5" font-family="Liberation Sans" font-size="7.2" font-weight="bold" font-style="normal" text-anchor="end" fill="#222" dominant-baseline="central"  stroke="#222" stroke-width="0.18">0.1</text>
<line x1="485.7" y1="482.9" x2="487" y2="482.9" stroke="#333" stroke-width="0.8" />
<line x1="652.1" y1="482.9" x2="650.8" y2="482.9" stroke="#333" stroke-width="0.8" />
<line x1="496.1" y1="490" x2="496.1" y2="487.8" stroke="#333" stroke-width="0.9" />
<line x1="496.1" y1="356.4" x2="496.1" y2="358.6" stroke="#333" stroke-width="0.9" />
<text x="496.1" y="497.8" font-family="Liberation Sans" font-size="7.2" font-weight="bold" font-style="normal" text-anchor="middle" fill="#222" dominant-baseline="central"  stroke="#222" stroke-width="0.18">0.2</text>
<line x1="506.5" y1="490" x2="506.5" y2="488.7" stroke="#333" stroke-width="0.8" />
<line x1="506.5" y1="356.4" x2="506.5" y2="357.7" stroke="#333" stroke-width="0.8" />
<line x1="516.9" y1="490" x2="516.9" y2="487.8" stroke="#333" stroke-width="0.9" />
<line x1="516.9" y1="356.4" x2="516.9" y2="358.6" stroke="#333" stroke-width="0.9" />
<text x="516.9" y="497.8" font-family="Liberation Sans" font-size="7.2" font-weight="bold" font-style="normal" text-anchor="middle" fill="#222" dominant-baseline="central"  stroke="#222" stroke-width="0.18">0.1</text>
<line x1="527.3" y1="490" x2="527.3" y2="488.7" stroke="#333" stroke-width="0.8" />
<line x1="527.3" y1="356.4" x2="527.3" y2="357.7" stroke="#333" stroke-width="0.8" />
<line x1="537.7" y1="490" x2="537.7" y2="487.8" stroke="#333" stroke-width="0.9" />
<line x1="537.7" y1="356.4" x2="537.7" y2="358.6" stroke="#333" stroke-width="0.9" />
<text x="537.7" y="497.8" font-family="Liberation Sans" font-size="7.2" font-weight="bold" font-style="normal" text-anchor="middle" fill="#222" dominant-baseline="central"  stroke="#222" stroke-width="0.18">0</text>
<line x1="548.1" y1="490" x2="548.1" y2="488.7" stroke="#333" stroke-width="0.8" />
<line x1="548.1" y1="356.4" x2="548.1" y2="357.7" stroke="#333" stroke-width="0.8" />
<line x1="558.5" y1="490" x2="558.5" y2="487.8" stroke="#333" stroke-width="0.9" />
<line x1="558.5" y1="356.4" x2="558.5" y2="358.6" stroke="#333" stroke-width="0.9" />
<text x="558.5" y="497.8" font-family="Liberation Sans" font-size="7.2" font-weight="bold" font-style="normal" text-anchor="middle" fill="#222" dominant-baseline="central"  stroke="#222" stroke-width="0.18">−0.1</text>
<line x1="568.9" y1="490" x2="568.9" y2="488.7" stroke="#333" stroke-width="0.8" />
<line x1="568.9" y1="356.4" x2="568.9" y2="357.7" stroke="#333" stroke-width="0.8" />
<line x1="579.3" y1="490" x2="579.3" y2="487.8" stroke="#333" stroke-width="0.9" />
<line x1="579.3" y1="356.4" x2="579.3" y2="358.6" stroke="#333" stroke-width="0.9" />
<text x="579.3" y="497.8" font-family="Liberation Sans" font-size="7.2" font-weight="bold" font-style="normal" text-anchor="middle" fill="#222" dominant-baseline="central"  stroke="#222" stroke-width="0.18">−0.2</text>
<line x1="589.7" y1="490" x2="589.7" y2="488.7" stroke="#333" stroke-width="0.8" />
<line x1="589.7" y1="356.4" x2="589.7" y2="357.7" stroke="#333" stroke-width="0.8" />
<line x1="600.1" y1="490" x2="600.1" y2="487.8" stroke="#333" stroke-width="0.9" />
<line x1="600.1" y1="356.4" x2="600.1" y2="358.6" stroke="#333" stroke-width="0.9" />
<text x="600.1" y="497.8" font-family="Liberation Sans" font-size="7.2" font-weight="bold" font-style="normal" text-anchor="middle" fill="#222" dominant-baseline="central"  stroke="#222" stroke-width="0.18">−0.3</text>
<line x1="610.5" y1="490" x2="610.5" y2="488.7" stroke="#333" stroke-width="0.8" />
<line x1="610.5" y1="356.4" x2="610.5" y2="357.7" stroke="#333" stroke-width="0.8" />
<line x1="620.9" y1="490" x2="620.9" y2="487.8" stroke="#333" stroke-width="0.9" />
<line x1="620.9" y1="356.4" x2="620.9" y2="358.6" stroke="#333" stroke-width="0.9" />
<text x="620.9" y="497.8" font-family="Liberation Sans" font-size="7.2" font-weight="bold" font-style="normal" text-anchor="middle" fill="#222" dominant-baseline="central"  stroke="#222" stroke-width="0.18">−0.4</text>
<line x1="631.3" y1="490" x2="631.3" y2="488.7" stroke="#333" stroke-width="0.8" />
<line x1="631.3" y1="356.4" x2="631.3" y2="357.7" stroke="#333" stroke-width="0.8" />
<line x1="641.7" y1="490" x2="641.7" y2="487.8" stroke="#333" stroke-width="0.9" />
<line x1="641.7" y1="356.4" x2="641.7" y2="358.6" stroke="#333" stroke-width="0.9" />
<text x="641.7" y="497.8" font-family="Liberation Sans" font-size="7.2" font-weight="bold" font-style="normal" text-anchor="middle" fill="#222" dominant-baseline="central"  stroke="#222" stroke-width="0.18">−0.5</text>
<text x="566.3" y="504.7" font-family="Liberation Sans" font-size="8.2" font-weight="bold" font-style="normal" text-anchor="middle" fill="#222" dominant-baseline="central"  stroke="#222" stroke-width="0.18">CBO (eV)</text>
<text x="466.9" y="424.2" font-family="Liberation Sans" font-size="8.2" font-weight="bold" font-style="normal" text-anchor="middle" fill="#222" dominant-baseline="central" transform="rotate(-90 466.9 424.2)" stroke="#222" stroke-width="0.18"><tspan dy="-0">QFLS</tspan><tspan font-size="5.9" dy="2.3">Internal</tspan><tspan dy="-2.3"> (eV)</tspan></text>
<text x="461.5" y="356.3" font-family="Liberation Sans" font-size="12" font-weight="normal" font-style="normal" text-anchor="start" fill="#333333" dominant-baseline="central" stroke="#333333" stroke-width="0.4">(i)</text>
<text x="561" y="368.3" font-family="Liberation Sans" font-size="6.7" font-weight="bold" font-style="normal" text-anchor="start" fill="#3aa3d8" dominant-baseline="central" stroke="#3aa3d8" stroke-width="0.18"><tspan font-style="italic" dy="-0">N</tspan><tspan font-size="4.02" dy="1.88">t</tspan><tspan font-size="4.02" dy="-4.22">ETL/PVSK</tspan><tspan dy="2.34"> =3 × 10</tspan><tspan font-size="4.02" dy="-2.34">14</tspan><tspan dy="2.34">cm</tspan><tspan font-size="4.02" dy="-2.34">−2</tspan></text>
<rect x="492.6" y="362.7" width="15.2" height="7" fill="#d5737e" />
<rect x="492.6" y="373" width="15.2" height="7" fill="#52aed9" />
<text x="509.6" y="366.2" font-family="Liberation Sans" font-size="7.4" font-weight="bold" font-style="normal" text-anchor="start" fill="#222" dominant-baseline="central" stroke="#222" stroke-width="0.18"><tspan dy="-0">QFLS</tspan><tspan font-size="4.59" dy="2.07">Loss</tspan></text>
<text x="509.6" y="376.5" font-family="Liberation Sans" font-size="7.4" font-weight="bold" font-style="normal" text-anchor="start" fill="#222" dominant-baseline="central" stroke="#222" stroke-width="0.18"><tspan dy="-0">QFLS</tspan><tspan font-size="4.59" dy="2.07">External</tspan></text></svg>

<div class="cap">
<div class="l l1"><b>FIGURE 4</b><span class="bar">|</span>(a)&#8201;Schematic of the CsPbI<sub>2</sub>Br PSC band diagram evolution as a function of CBO (at 0&#8201;V bias); (b,c) <i>J</i><sub>Re</sub> variation in the CsPbI<sub>2</sub>Br PSC as a</div>
<div class="l l2">function of CBO under low and high interfacial defect densities, respectively; (d,e) decomposition of <i>J</i><sub>Re</sub> in the CsPbI<sub>2</sub>Br PSC under low and high</div>
<div class="l l3">interfacial defect densities, respectively; (f,g) shift of <i>E</i><sub>Fn</sub> and <i>E</i><sub>Fp</sub> in the CsPbI<sub>2</sub>Br PSC as a function of CBO under low and high interfacial defect</div>
<div class="l l4">densities, respectively; and (h,i) QFLS energy loss in the CsPbI<sub>2</sub>Br PSC under low and high interfacial defect densities, respectively.</div>
</div>

</body></html>
